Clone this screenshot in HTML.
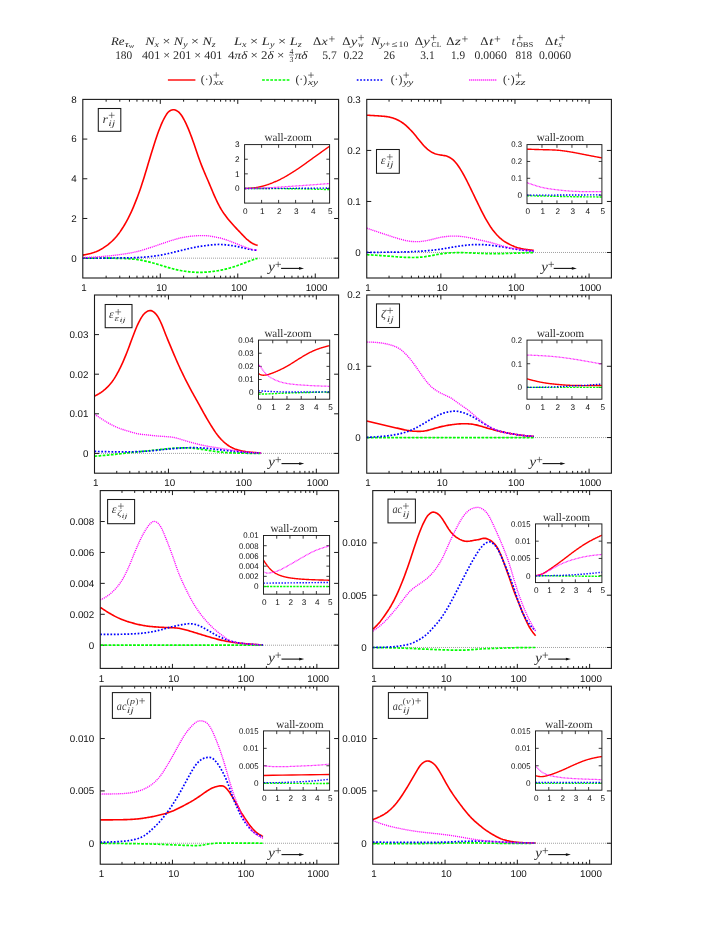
<!DOCTYPE html>
<html><head><meta charset="utf-8"><title>figure</title>
<style>html,body{margin:0;padding:0;background:#fff}svg{display:block;will-change:transform;text-rendering:geometricPrecision}</style></head><body>
<svg width="728" height="942" viewBox="0 0 728 942">
<rect width="728" height="942" fill="#fff"/>
<defs>
<clipPath id="c1"><rect x="82.80" y="99.40" width="255.80" height="178.60"/></clipPath>
<clipPath id="i1"><rect x="244.60" y="144.60" width="85.00" height="58.50"/></clipPath>
<clipPath id="c2"><rect x="366.75" y="99.40" width="244.65" height="178.60"/></clipPath>
<clipPath id="i2"><rect x="527.00" y="144.60" width="74.90" height="59.00"/></clipPath>
<clipPath id="c3"><rect x="94.50" y="295.00" width="244.10" height="178.20"/></clipPath>
<clipPath id="i3"><rect x="258.50" y="340.10" width="71.20" height="59.10"/></clipPath>
<clipPath id="c4"><rect x="366.75" y="295.00" width="244.65" height="178.20"/></clipPath>
<clipPath id="i4"><rect x="527.00" y="340.10" width="74.90" height="59.10"/></clipPath>
<clipPath id="c5"><rect x="100.25" y="490.60" width="238.35" height="177.80"/></clipPath>
<clipPath id="i5"><rect x="263.50" y="535.50" width="66.10" height="58.70"/></clipPath>
<clipPath id="c6"><rect x="372.75" y="490.60" width="238.65" height="177.80"/></clipPath>
<clipPath id="i6"><rect x="535.50" y="523.90" width="66.40" height="58.70"/></clipPath>
<clipPath id="c7"><rect x="100.25" y="686.20" width="238.35" height="178.00"/></clipPath>
<clipPath id="i7"><rect x="263.50" y="730.90" width="66.10" height="59.30"/></clipPath>
<clipPath id="c8"><rect x="372.75" y="686.20" width="238.65" height="178.00"/></clipPath>
<clipPath id="i8"><rect x="535.50" y="730.90" width="66.40" height="59.30"/></clipPath>
</defs>
<text x="111.00" y="44.80" font-family='"Liberation Serif", serif' font-size="11.6" fill="#2a2a2a" text-anchor="start" textLength="13.6" lengthAdjust="spacingAndGlyphs"><tspan font-style="italic">Re</tspan></text>
<text x="124.40" y="46.80" font-family='"Liberation Serif", serif' font-size="9.0" fill="#2a2a2a" text-anchor="start" textLength="4.6" lengthAdjust="spacingAndGlyphs"><tspan font-style="italic">τ</tspan></text>
<text x="128.80" y="48.40" font-family='"Liberation Serif", serif' font-size="6.6" fill="#2a2a2a" text-anchor="start" textLength="5.4" lengthAdjust="spacingAndGlyphs"><tspan font-style="italic">w</tspan></text>
<text x="115.20" y="58.50" font-family='"Liberation Serif", serif' font-size="11.6" fill="#2a2a2a" text-anchor="start" textLength="17.0" lengthAdjust="spacingAndGlyphs">180</text>
<text x="145.20" y="44.80" font-family='"Liberation Serif", serif' font-size="11.6" fill="#2a2a2a" text-anchor="start" textLength="70.5" lengthAdjust="spacingAndGlyphs"><tspan font-style="italic">N</tspan><tspan font-size="8.12" dy="2.20" font-style="italic">x</tspan><tspan dy="-2.20" font-size="1">​</tspan> × <tspan font-style="italic">N</tspan><tspan font-size="8.12" dy="2.20" font-style="italic">y</tspan><tspan dy="-2.20" font-size="1">​</tspan> × <tspan font-style="italic">N</tspan><tspan font-size="8.12" dy="2.20" font-style="italic">z</tspan><tspan dy="-2.20" font-size="1">​</tspan></text>
<text x="142.00" y="58.50" font-family='"Liberation Serif", serif' font-size="11.6" fill="#2a2a2a" text-anchor="start" textLength="80.4" lengthAdjust="spacingAndGlyphs">401 × 201 × 401</text>
<text x="234.00" y="44.80" font-family='"Liberation Serif", serif' font-size="11.6" fill="#2a2a2a" text-anchor="start" textLength="67.7" lengthAdjust="spacingAndGlyphs"><tspan font-style="italic">L</tspan><tspan font-size="8.12" dy="2.20" font-style="italic">x</tspan><tspan dy="-2.20" font-size="1">​</tspan> × <tspan font-style="italic">L</tspan><tspan font-size="8.12" dy="2.20" font-style="italic">y</tspan><tspan dy="-2.20" font-size="1">​</tspan> × <tspan font-style="italic">L</tspan><tspan font-size="8.12" dy="2.20" font-style="italic">z</tspan><tspan dy="-2.20" font-size="1">​</tspan></text>
<text x="228.10" y="58.50" font-family='"Liberation Serif", serif' font-size="11.6" fill="#2a2a2a" text-anchor="start" textLength="56.2" lengthAdjust="spacingAndGlyphs">4<tspan font-style="italic">πδ</tspan> × 2<tspan font-style="italic">δ</tspan> ×</text>
<text x="291.4" y="53.60" font-family='"Liberation Serif", serif' font-size="7.8" fill="#2a2a2a" text-anchor="middle">4</text>
<text x="291.4" y="61.70" font-family='"Liberation Serif", serif' font-size="7.8" fill="#2a2a2a" text-anchor="middle">3</text>
<path d="M288.9 55.00H293.9" stroke="#2a2a2a" stroke-width="0.5"/>
<text x="294.70" y="58.50" font-family='"Liberation Serif", serif' font-size="11.6" fill="#2a2a2a" text-anchor="start" textLength="12.9" lengthAdjust="spacingAndGlyphs"><tspan font-style="italic">πδ</tspan></text>
<text x="312.90" y="44.80" font-family='"Liberation Serif", serif' font-size="11.6" fill="#2a2a2a" text-anchor="start" textLength="8.2" lengthAdjust="spacingAndGlyphs">Δ</text>
<text x="321.50" y="44.80" font-family='"Liberation Serif", serif' font-size="11.6" fill="#2a2a2a" text-anchor="start" textLength="6.2" lengthAdjust="spacingAndGlyphs"><tspan font-style="italic">x</tspan></text>
<path d="M329.10 38.90h5.60M331.90 36.10v5.60" stroke="#2a2a2a" stroke-width="0.62" fill="none"/>
<text x="322.20" y="58.50" font-family='"Liberation Serif", serif' font-size="11.6" fill="#2a2a2a" text-anchor="start" textLength="14.6" lengthAdjust="spacingAndGlyphs">5.7</text>
<text x="342.20" y="44.80" font-family='"Liberation Serif", serif' font-size="11.6" fill="#2a2a2a" text-anchor="start" textLength="8.2" lengthAdjust="spacingAndGlyphs">Δ</text>
<text x="350.80" y="44.80" font-family='"Liberation Serif", serif' font-size="11.6" fill="#2a2a2a" text-anchor="start" textLength="6.6" lengthAdjust="spacingAndGlyphs"><tspan font-style="italic">y</tspan></text>
<path d="M358.30 37.60h5.60M361.10 34.80v5.60" stroke="#2a2a2a" stroke-width="0.62" fill="none"/>
<text x="358.00" y="47.40" font-family='"Liberation Serif", serif' font-size="8.2" fill="#2a2a2a" text-anchor="start"><tspan font-style="italic">w</tspan></text>
<text x="343.40" y="58.50" font-family='"Liberation Serif", serif' font-size="11.6" fill="#2a2a2a" text-anchor="start" textLength="20.2" lengthAdjust="spacingAndGlyphs">0.22</text>
<text x="370.90" y="44.80" font-family='"Liberation Serif", serif' font-size="11.6" fill="#2a2a2a" text-anchor="start" textLength="9.2" lengthAdjust="spacingAndGlyphs"><tspan font-style="italic">N</tspan></text>
<text x="379.70" y="47.40" font-family='"Liberation Serif", serif' font-size="8.4" fill="#2a2a2a" text-anchor="start" textLength="5.2" lengthAdjust="spacingAndGlyphs"><tspan font-style="italic">y</tspan></text>
<path d="M385.50 43.90h4.2M387.60 41.80v4.2" stroke="#2a2a2a" stroke-width="0.5" fill="none"/>
<text x="391.40" y="47.40" font-family='"Liberation Serif", serif' font-size="8.4" fill="#2a2a2a" text-anchor="start" textLength="6.0" lengthAdjust="spacingAndGlyphs">≤</text>
<text x="398.60" y="47.40" font-family='"Liberation Serif", serif' font-size="8.4" fill="#2a2a2a" text-anchor="start" textLength="9.6" lengthAdjust="spacingAndGlyphs">10</text>
<text x="383.60" y="58.50" font-family='"Liberation Serif", serif' font-size="11.6" fill="#2a2a2a" text-anchor="start" textLength="11.4" lengthAdjust="spacingAndGlyphs">26</text>
<text x="414.70" y="44.80" font-family='"Liberation Serif", serif' font-size="11.6" fill="#2a2a2a" text-anchor="start" textLength="8.2" lengthAdjust="spacingAndGlyphs">Δ</text>
<text x="423.30" y="44.80" font-family='"Liberation Serif", serif' font-size="11.6" fill="#2a2a2a" text-anchor="start" textLength="6.6" lengthAdjust="spacingAndGlyphs"><tspan font-style="italic">y</tspan></text>
<path d="M430.80 37.60h5.60M433.60 34.80v5.60" stroke="#2a2a2a" stroke-width="0.62" fill="none"/>
<text x="431.60" y="47.40" font-family='"Liberation Serif", serif' font-size="7.4" fill="#2a2a2a" text-anchor="start" textLength="9.8" lengthAdjust="spacingAndGlyphs">CL</text>
<text x="420.30" y="58.50" font-family='"Liberation Serif", serif' font-size="11.6" fill="#2a2a2a" text-anchor="start" textLength="14.4" lengthAdjust="spacingAndGlyphs">3.1</text>
<text x="446.20" y="44.80" font-family='"Liberation Serif", serif' font-size="11.6" fill="#2a2a2a" text-anchor="start" textLength="8.2" lengthAdjust="spacingAndGlyphs">Δ</text>
<text x="454.80" y="44.80" font-family='"Liberation Serif", serif' font-size="11.6" fill="#2a2a2a" text-anchor="start" textLength="6.2" lengthAdjust="spacingAndGlyphs"><tspan font-style="italic">z</tspan></text>
<path d="M462.10 38.90h5.60M464.90 36.10v5.60" stroke="#2a2a2a" stroke-width="0.62" fill="none"/>
<text x="451.00" y="58.50" font-family='"Liberation Serif", serif' font-size="11.6" fill="#2a2a2a" text-anchor="start" textLength="14.0" lengthAdjust="spacingAndGlyphs">1.9</text>
<text x="480.30" y="44.80" font-family='"Liberation Serif", serif' font-size="11.6" fill="#2a2a2a" text-anchor="start" textLength="8.2" lengthAdjust="spacingAndGlyphs">Δ</text>
<text x="488.90" y="44.80" font-family='"Liberation Serif", serif' font-size="11.6" fill="#2a2a2a" text-anchor="start" textLength="4.4" lengthAdjust="spacingAndGlyphs"><tspan font-style="italic">t</tspan></text>
<path d="M494.60 38.90h5.60M497.40 36.10v5.60" stroke="#2a2a2a" stroke-width="0.62" fill="none"/>
<text x="474.60" y="58.50" font-family='"Liberation Serif", serif' font-size="11.6" fill="#2a2a2a" text-anchor="start" textLength="32.2" lengthAdjust="spacingAndGlyphs">0.0060</text>
<text x="511.80" y="44.80" font-family='"Liberation Serif", serif' font-size="11.6" fill="#2a2a2a" text-anchor="start"><tspan font-style="italic">t</tspan></text>
<path d="M517.00 37.60h5.60M519.80 34.80v5.60" stroke="#2a2a2a" stroke-width="0.62" fill="none"/>
<text x="516.40" y="47.40" font-family='"Liberation Serif", serif' font-size="7.4" fill="#2a2a2a" text-anchor="start" textLength="17.0" lengthAdjust="spacingAndGlyphs">OBS</text>
<text x="515.40" y="58.50" font-family='"Liberation Serif", serif' font-size="11.6" fill="#2a2a2a" text-anchor="start" textLength="16.8" lengthAdjust="spacingAndGlyphs">818</text>
<text x="545.10" y="44.80" font-family='"Liberation Serif", serif' font-size="11.6" fill="#2a2a2a" text-anchor="start" textLength="8.2" lengthAdjust="spacingAndGlyphs">Δ</text>
<text x="553.70" y="44.80" font-family='"Liberation Serif", serif' font-size="11.6" fill="#2a2a2a" text-anchor="start" textLength="4.4" lengthAdjust="spacingAndGlyphs"><tspan font-style="italic">t</tspan></text>
<path d="M559.40 37.60h5.60M562.20 34.80v5.60" stroke="#2a2a2a" stroke-width="0.62" fill="none"/>
<text x="558.60" y="47.40" font-family='"Liberation Serif", serif' font-size="8.2" fill="#2a2a2a" text-anchor="start"><tspan font-style="italic">s</tspan></text>
<text x="538.90" y="58.50" font-family='"Liberation Serif", serif' font-size="11.6" fill="#2a2a2a" text-anchor="start" textLength="32.2" lengthAdjust="spacingAndGlyphs">0.0060</text>
<path d="M167.90 80.00H195.40" fill="none" stroke="#ff0000" stroke-width="1.4"/>
<text x="200.80" y="82.80" font-family='"Liberation Serif", serif' font-size="11.6" fill="#2a2a2a" text-anchor="start" textLength="11.6" lengthAdjust="spacingAndGlyphs">(·)</text>
<path d="M213.50 75.10h5.60M216.30 72.30v5.60" stroke="#2a2a2a" stroke-width="0.62" fill="none"/>
<text x="213.40" y="84.80" font-family='"Liberation Serif", serif' font-size="8.2" fill="#2a2a2a" text-anchor="start" textLength="10.0" lengthAdjust="spacingAndGlyphs"><tspan font-style="italic">xx</tspan></text>
<path d="M262.10 80.00H290.30" fill="none" stroke="#00ff00" stroke-width="1.5" stroke-dasharray="2.7 1.4"/>
<text x="295.50" y="82.80" font-family='"Liberation Serif", serif' font-size="11.6" fill="#2a2a2a" text-anchor="start" textLength="11.6" lengthAdjust="spacingAndGlyphs">(·)</text>
<path d="M308.20 75.10h5.60M311.00 72.30v5.60" stroke="#2a2a2a" stroke-width="0.62" fill="none"/>
<text x="308.10" y="84.80" font-family='"Liberation Serif", serif' font-size="8.2" fill="#2a2a2a" text-anchor="start" textLength="10.0" lengthAdjust="spacingAndGlyphs"><tspan font-style="italic">xy</tspan></text>
<path d="M356.80 80.00H383.30" fill="none" stroke="#0000ff" stroke-width="1.5" stroke-dasharray="1.7 1.7"/>
<text x="390.70" y="82.80" font-family='"Liberation Serif", serif' font-size="11.6" fill="#2a2a2a" text-anchor="start" textLength="11.6" lengthAdjust="spacingAndGlyphs">(·)</text>
<path d="M403.40 75.10h5.60M406.20 72.30v5.60" stroke="#2a2a2a" stroke-width="0.62" fill="none"/>
<text x="403.30" y="84.80" font-family='"Liberation Serif", serif' font-size="8.2" fill="#2a2a2a" text-anchor="start" textLength="10.0" lengthAdjust="spacingAndGlyphs"><tspan font-style="italic">yy</tspan></text>
<path d="M469.20 80.00H496.90" fill="none" stroke="#ff00ff" stroke-width="1.4" stroke-dasharray="1.1 0.9"/>
<text x="503.00" y="82.80" font-family='"Liberation Serif", serif' font-size="11.6" fill="#2a2a2a" text-anchor="start" textLength="11.6" lengthAdjust="spacingAndGlyphs">(·)</text>
<path d="M515.70 75.10h5.60M518.50 72.30v5.60" stroke="#2a2a2a" stroke-width="0.62" fill="none"/>
<text x="515.60" y="84.80" font-family='"Liberation Serif", serif' font-size="8.2" fill="#2a2a2a" text-anchor="start" textLength="10.0" lengthAdjust="spacingAndGlyphs"><tspan font-style="italic">zz</tspan></text>
<!-- panel 1 -->
<path d="M83.00 258.16H338.60" stroke="#8a8a8a" stroke-width="0.8" stroke-dasharray="1 1" fill="none"/>
<path d="M106.13 278.00v-2.30M106.13 99.40v2.30M119.77 278.00v-2.30M119.77 99.40v2.30M129.45 278.00v-2.30M129.45 99.40v2.30M136.96 278.00v-2.30M136.96 99.40v2.30M143.10 278.00v-2.30M143.10 99.40v2.30M148.29 278.00v-2.30M148.29 99.40v2.30M152.78 278.00v-2.30M152.78 99.40v2.30M156.75 278.00v-2.30M156.75 99.40v2.30M160.29 278.00v-4.50M160.29 99.40v4.50M183.62 278.00v-2.30M183.62 99.40v2.30M197.26 278.00v-2.30M197.26 99.40v2.30M206.95 278.00v-2.30M206.95 99.40v2.30M214.45 278.00v-2.30M214.45 99.40v2.30M220.59 278.00v-2.30M220.59 99.40v2.30M225.78 278.00v-2.30M225.78 99.40v2.30M230.27 278.00v-2.30M230.27 99.40v2.30M234.24 278.00v-2.30M234.24 99.40v2.30M237.78 278.00v-4.50M237.78 99.40v4.50M261.11 278.00v-2.30M261.11 99.40v2.30M274.75 278.00v-2.30M274.75 99.40v2.30M284.44 278.00v-2.30M284.44 99.40v2.30M291.95 278.00v-2.30M291.95 99.40v2.30M298.08 278.00v-2.30M298.08 99.40v2.30M303.27 278.00v-2.30M303.27 99.40v2.30M307.76 278.00v-2.30M307.76 99.40v2.30M311.73 278.00v-2.30M311.73 99.40v2.30M315.27 278.00v-4.50M315.27 99.40v4.50M82.80 258.16h4.50M338.60 258.16h-4.50M82.80 218.47h4.50M338.60 218.47h-4.50M82.80 178.78h4.50M338.60 178.78h-4.50M82.80 139.09h4.50M338.60 139.09h-4.50" stroke="#1a1a1a" stroke-width="1.0" fill="none"/>
<g fill="none" stroke-linejoin="round" clip-path="url(#c1)">
<path d="M82.80 255.10L83.90 254.91L85.00 254.71L86.10 254.49L87.20 254.26L88.30 254.01L89.40 253.74L90.50 253.46L91.60 253.15L92.70 252.83L93.80 252.47L94.90 252.08L96.00 251.66L97.10 251.20L98.20 250.70L99.30 250.17L100.40 249.59L101.50 248.98L102.60 248.32L103.69 247.62L104.79 246.89L105.89 246.14L106.99 245.35L108.09 244.52L109.19 243.64L110.29 242.72L111.39 241.75L112.49 240.72L113.59 239.63L114.69 238.47L115.79 237.25L116.89 235.95L117.99 234.58L119.09 233.14L120.19 231.61L121.29 229.99L122.39 228.31L123.49 226.55L124.59 224.72L125.69 222.83L126.79 220.86L127.89 218.80L128.99 216.66L130.09 214.42L131.19 212.08L132.29 209.63L133.39 207.07L134.49 204.41L135.59 201.67L136.69 198.85L137.79 195.97L138.89 192.99L139.99 189.90L141.09 186.68L142.19 183.34L143.28 179.91L144.38 176.41L145.48 172.82L146.58 169.18L147.68 165.51L148.78 161.85L149.88 158.20L150.98 154.58L152.08 150.99L153.18 147.46L154.28 143.98L155.38 140.57L156.48 137.27L157.58 134.11L158.68 131.07L159.78 128.18L160.88 125.44L161.98 122.89L163.08 120.49L164.18 118.28L165.28 116.32L166.38 114.58L167.48 113.05L168.58 111.81L169.68 110.96L170.78 110.35L171.88 109.94L172.98 109.74L174.08 109.75L175.18 109.99L176.28 110.45L177.38 111.09L178.48 111.88L179.58 112.94L180.68 114.26L181.78 115.79L182.88 117.52L183.97 119.49L185.07 121.66L186.17 123.96L187.27 126.38L188.37 128.94L189.47 131.63L190.57 134.44L191.67 137.36L192.77 140.42L193.87 143.57L194.97 146.77L196.07 149.99L197.17 153.24L198.27 156.47L199.37 159.60L200.47 162.57L201.57 165.40L202.67 168.12L203.77 170.77L204.87 173.38L205.97 175.95L207.07 178.49L208.17 181.04L209.27 183.61L210.37 186.24L211.47 188.90L212.57 191.54L213.67 194.13L214.77 196.64L215.87 199.04L216.97 201.37L218.07 203.60L219.17 205.74L220.27 207.76L221.37 209.64L222.47 211.40L223.57 213.05L224.66 214.60L225.76 216.08L226.86 217.50L227.96 218.89L229.06 220.23L230.16 221.54L231.26 222.81L232.36 224.06L233.46 225.28L234.56 226.49L235.66 227.67L236.76 228.84L237.86 230.00L238.96 231.15L240.06 232.30L241.16 233.46L242.26 234.63L243.36 235.79L244.46 236.93L245.56 238.02L246.66 239.04L247.76 239.99L248.86 240.89L249.96 241.73L251.06 242.49L252.16 243.17L253.26 243.75L254.36 244.24L255.46 244.67L256.56 245.05L257.66 245.38" stroke="#ff0000" stroke-width="1.6"/>
<path d="M82.80 258.16L83.90 258.15L85.00 258.15L86.09 258.14L87.19 258.14L88.29 258.14L89.39 258.14L90.49 258.13L91.58 258.13L92.68 258.13L93.78 258.13L94.88 258.13L95.98 258.13L97.07 258.13L98.17 258.13L99.27 258.13L100.37 258.14L101.47 258.14L102.56 258.15L103.66 258.15L104.76 258.16L105.86 258.16L106.96 258.17L108.05 258.18L109.15 258.19L110.25 258.20L111.35 258.22L112.44 258.23L113.54 258.24L114.64 258.26L115.74 258.28L116.84 258.30L117.93 258.32L119.03 258.34L120.13 258.36L121.23 258.39L122.33 258.42L123.42 258.46L124.52 258.51L125.62 258.56L126.72 258.62L127.82 258.69L128.91 258.77L130.01 258.85L131.11 258.94L132.21 259.03L133.31 259.14L134.40 259.25L135.50 259.37L136.60 259.50L137.70 259.64L138.80 259.80L139.89 259.97L140.99 260.16L142.09 260.37L143.19 260.59L144.29 260.82L145.38 261.06L146.48 261.31L147.58 261.56L148.68 261.82L149.78 262.09L150.87 262.38L151.97 262.67L153.07 262.98L154.17 263.29L155.27 263.61L156.36 263.93L157.46 264.26L158.56 264.58L159.66 264.91L160.76 265.24L161.85 265.57L162.95 265.90L164.05 266.24L165.15 266.58L166.25 266.91L167.34 267.24L168.44 267.57L169.54 267.89L170.64 268.20L171.73 268.50L172.83 268.79L173.93 269.07L175.03 269.33L176.13 269.59L177.22 269.84L178.32 270.08L179.42 270.31L180.52 270.53L181.62 270.73L182.71 270.91L183.81 271.08L184.91 271.24L186.01 271.40L187.11 271.54L188.20 271.68L189.30 271.81L190.40 271.93L191.50 272.03L192.60 272.13L193.69 272.20L194.79 272.27L195.89 272.31L196.99 272.34L198.09 272.35L199.18 272.35L200.28 272.34L201.38 272.31L202.48 272.28L203.58 272.23L204.67 272.18L205.77 272.12L206.87 272.05L207.97 271.97L209.07 271.88L210.16 271.77L211.26 271.65L212.36 271.52L213.46 271.38L214.56 271.24L215.65 271.09L216.75 270.93L217.85 270.75L218.95 270.57L220.05 270.37L221.14 270.15L222.24 269.92L223.34 269.67L224.44 269.40L225.53 269.13L226.63 268.85L227.73 268.57L228.83 268.27L229.93 267.97L231.02 267.66L232.12 267.34L233.22 267.01L234.32 266.66L235.42 266.31L236.51 265.94L237.61 265.56L238.71 265.16L239.81 264.74L240.91 264.31L242.00 263.87L243.10 263.44L244.20 263.01L245.30 262.59L246.40 262.17L247.49 261.76L248.59 261.35L249.69 260.95L250.79 260.56L251.89 260.18L252.98 259.80L254.08 259.43L255.18 259.07L256.28 258.71L257.38 258.35" stroke="#00ff00" stroke-width="1.7" stroke-dasharray="2.7 1.4"/>
<path d="M82.80 258.16L83.90 258.15L85.00 258.15L86.09 258.15L87.19 258.15L88.29 258.14L89.39 258.14L90.49 258.14L91.58 258.13L92.68 258.13L93.78 258.13L94.88 258.12L95.98 258.12L97.07 258.11L98.17 258.11L99.27 258.10L100.37 258.10L101.47 258.09L102.56 258.09L103.66 258.08L104.76 258.07L105.86 258.07L106.96 258.06L108.05 258.05L109.15 258.05L110.25 258.04L111.35 258.03L112.44 258.02L113.54 258.01L114.64 258.00L115.74 257.99L116.84 257.98L117.93 257.97L119.03 257.96L120.13 257.95L121.23 257.94L122.33 257.93L123.42 257.91L124.52 257.90L125.62 257.88L126.72 257.86L127.82 257.84L128.91 257.82L130.01 257.79L131.11 257.76L132.21 257.73L133.31 257.70L134.40 257.66L135.50 257.62L136.60 257.58L137.70 257.53L138.80 257.47L139.89 257.41L140.99 257.35L142.09 257.27L143.19 257.20L144.29 257.11L145.38 257.02L146.48 256.93L147.58 256.83L148.68 256.73L149.78 256.62L150.87 256.50L151.97 256.38L153.07 256.24L154.17 256.10L155.27 255.96L156.36 255.80L157.46 255.64L158.56 255.47L159.66 255.29L160.76 255.10L161.85 254.90L162.95 254.69L164.05 254.47L165.15 254.24L166.25 254.00L167.34 253.75L168.44 253.50L169.54 253.25L170.64 252.99L171.73 252.73L172.83 252.47L173.93 252.20L175.03 251.94L176.13 251.67L177.22 251.40L178.32 251.13L179.42 250.85L180.52 250.58L181.62 250.31L182.71 250.04L183.81 249.77L184.91 249.51L186.01 249.25L187.11 248.99L188.20 248.73L189.30 248.48L190.40 248.23L191.50 247.99L192.60 247.75L193.69 247.52L194.79 247.30L195.89 247.09L196.99 246.89L198.09 246.70L199.18 246.53L200.28 246.35L201.38 246.19L202.48 246.04L203.58 245.89L204.67 245.74L205.77 245.60L206.87 245.46L207.97 245.33L209.07 245.20L210.16 245.07L211.26 244.94L212.36 244.83L213.46 244.74L214.56 244.65L215.65 244.59L216.75 244.53L217.85 244.49L218.95 244.46L220.05 244.46L221.14 244.48L222.24 244.53L223.34 244.62L224.44 244.72L225.53 244.83L226.63 244.95L227.73 245.07L228.83 245.21L229.93 245.35L231.02 245.50L232.12 245.66L233.22 245.83L234.32 246.01L235.42 246.20L236.51 246.40L237.61 246.61L238.71 246.84L239.81 247.08L240.91 247.33L242.00 247.59L243.10 247.85L244.20 248.10L245.30 248.35L246.40 248.60L247.49 248.85L248.59 249.09L249.69 249.31L250.79 249.51L251.89 249.70L252.98 249.86L254.08 250.02L255.18 250.16L256.28 250.29L257.38 250.42" stroke="#0000ff" stroke-width="1.7" stroke-dasharray="1.7 1.7"/>
<path d="M82.80 257.56L83.90 257.52L85.00 257.48L86.09 257.44L87.19 257.39L88.29 257.34L89.39 257.29L90.49 257.24L91.58 257.18L92.68 257.12L93.78 257.06L94.88 257.00L95.98 256.93L97.07 256.86L98.17 256.79L99.27 256.71L100.37 256.64L101.47 256.55L102.56 256.47L103.66 256.38L104.76 256.29L105.86 256.19L106.96 256.10L108.05 255.99L109.15 255.88L110.25 255.76L111.35 255.64L112.44 255.51L113.54 255.38L114.64 255.25L115.74 255.11L116.84 254.97L117.93 254.83L119.03 254.68L120.13 254.54L121.23 254.39L122.33 254.24L123.42 254.08L124.52 253.92L125.62 253.76L126.72 253.59L127.82 253.41L128.91 253.23L130.01 253.04L131.11 252.84L132.21 252.63L133.31 252.41L134.40 252.18L135.50 251.94L136.60 251.69L137.70 251.43L138.80 251.14L139.89 250.84L140.99 250.53L142.09 250.20L143.19 249.86L144.29 249.52L145.38 249.17L146.48 248.81L147.58 248.46L148.68 248.11L149.78 247.76L150.87 247.40L151.97 247.04L153.07 246.68L154.17 246.32L155.27 245.95L156.36 245.59L157.46 245.22L158.56 244.85L159.66 244.48L160.76 244.11L161.85 243.73L162.95 243.35L164.05 242.97L165.15 242.58L166.25 242.20L167.34 241.82L168.44 241.45L169.54 241.08L170.64 240.72L171.73 240.37L172.83 240.03L173.93 239.70L175.03 239.39L176.13 239.08L177.22 238.78L178.32 238.49L179.42 238.21L180.52 237.95L181.62 237.71L182.71 237.49L183.81 237.28L184.91 237.10L186.01 236.91L187.11 236.74L188.20 236.58L189.30 236.43L190.40 236.29L191.50 236.16L192.60 236.05L193.69 235.95L194.79 235.87L195.89 235.80L196.99 235.74L198.09 235.70L199.18 235.67L200.28 235.64L201.38 235.62L202.48 235.61L203.58 235.62L204.67 235.64L205.77 235.67L206.87 235.73L207.97 235.81L209.07 235.95L210.16 236.12L211.26 236.32L212.36 236.53L213.46 236.74L214.56 236.94L215.65 237.13L216.75 237.32L217.85 237.53L218.95 237.74L220.05 237.98L221.14 238.25L222.24 238.56L223.34 238.89L224.44 239.25L225.53 239.62L226.63 240.00L227.73 240.39L228.83 240.79L229.93 241.20L231.02 241.62L232.12 242.05L233.22 242.48L234.32 242.91L235.42 243.34L236.51 243.77L237.61 244.20L238.71 244.63L239.81 245.05L240.91 245.48L242.00 245.91L243.10 246.33L244.20 246.75L245.30 247.18L246.40 247.60L247.49 248.01L248.59 248.39L249.69 248.75L250.79 249.07L251.89 249.33L252.98 249.56L254.08 249.76L255.18 249.93L256.28 250.09L257.38 250.22" stroke="#ff00ff" stroke-width="1.35" stroke-dasharray="1.1 0.9"/>
</g>
<rect x="82.80" y="99.40" width="255.80" height="178.60" fill="none" stroke="#1a1a1a" stroke-width="1.1"/>
<g font-family='"Liberation Sans", sans-serif' font-size="9.8" fill="#111">
<text x="76.80" y="261.54" text-anchor="end">0</text>
<text x="76.80" y="221.85" text-anchor="end">2</text>
<text x="76.80" y="182.16" text-anchor="end">4</text>
<text x="76.80" y="142.47" text-anchor="end">6</text>
<text x="76.80" y="102.78" text-anchor="end">8</text>
<text x="84.10" y="291.13" text-anchor="middle">1</text>
<text x="161.59" y="291.13" text-anchor="middle">10</text>
<text x="239.08" y="291.13" text-anchor="middle">100</text>
<text x="316.57" y="291.13" text-anchor="middle">1000</text>
</g>
<rect x="244.60" y="144.60" width="85.00" height="58.50" fill="#fff"/>
<path d="M261.60 203.10v-3.2M261.60 144.60v3.2M278.60 203.10v-3.2M278.60 144.60v3.2M295.60 203.10v-3.2M295.60 144.60v3.2M312.60 203.10v-3.2M312.60 144.60v3.2M244.60 188.47h3.20M329.60 188.47h-3.20M244.60 173.85h3.20M329.60 173.85h-3.20M244.60 159.22h3.20M329.60 159.22h-3.20" stroke="#1a1a1a" stroke-width="0.85" fill="none"/>
<g fill="none" stroke-linejoin="round" clip-path="url(#i1)">
<path d="M244.60 188.47L245.13 188.46L245.67 188.45L246.20 188.43L246.74 188.41L247.27 188.39L247.81 188.36L248.34 188.33L248.88 188.30L249.41 188.27L249.95 188.23L250.48 188.19L251.02 188.15L251.55 188.11L252.08 188.06L252.62 188.01L253.15 187.96L253.69 187.90L254.22 187.83L254.76 187.76L255.29 187.69L255.83 187.61L256.36 187.52L256.90 187.43L257.43 187.33L257.96 187.23L258.50 187.12L259.03 187.01L259.57 186.90L260.10 186.78L260.64 186.66L261.17 186.53L261.71 186.40L262.24 186.27L262.78 186.13L263.31 185.99L263.85 185.84L264.38 185.68L264.91 185.53L265.45 185.36L265.98 185.20L266.52 185.03L267.05 184.85L267.59 184.67L268.12 184.48L268.66 184.30L269.19 184.10L269.73 183.91L270.26 183.70L270.79 183.50L271.33 183.29L271.86 183.08L272.40 182.87L272.93 182.65L273.47 182.42L274.00 182.20L274.54 181.97L275.07 181.74L275.61 181.50L276.14 181.27L276.68 181.03L277.21 180.78L277.74 180.54L278.28 180.29L278.81 180.04L279.35 179.78L279.88 179.52L280.42 179.26L280.95 178.99L281.49 178.72L282.02 178.44L282.56 178.16L283.09 177.87L283.63 177.59L284.16 177.29L284.69 177.00L285.23 176.70L285.76 176.39L286.30 176.09L286.83 175.78L287.37 175.47L287.90 175.15L288.44 174.83L288.97 174.51L289.51 174.19L290.04 173.86L290.57 173.53L291.11 173.20L291.64 172.87L292.18 172.53L292.71 172.19L293.25 171.85L293.78 171.51L294.32 171.17L294.85 170.83L295.39 170.48L295.92 170.13L296.46 169.78L296.99 169.43L297.52 169.07L298.06 168.71L298.59 168.35L299.13 167.98L299.66 167.61L300.20 167.24L300.73 166.87L301.27 166.50L301.80 166.12L302.34 165.74L302.87 165.36L303.41 164.98L303.94 164.60L304.47 164.22L305.01 163.83L305.54 163.45L306.08 163.06L306.61 162.68L307.15 162.29L307.68 161.90L308.22 161.51L308.75 161.13L309.29 160.74L309.82 160.35L310.35 159.97L310.89 159.58L311.42 159.19L311.96 158.81L312.49 158.42L313.03 158.04L313.56 157.66L314.10 157.27L314.63 156.89L315.17 156.51L315.70 156.13L316.24 155.74L316.77 155.36L317.30 154.98L317.84 154.60L318.37 154.22L318.91 153.83L319.44 153.45L319.98 153.07L320.51 152.69L321.05 152.31L321.58 151.93L322.12 151.55L322.65 151.16L323.18 150.78L323.72 150.40L324.25 150.02L324.79 149.64L325.32 149.26L325.86 148.88L326.39 148.50L326.93 148.11L327.46 147.73L328.00 147.35L328.53 146.97L329.07 146.59L329.60 146.21" stroke="#ff0000" stroke-width="1.4"/>
<path d="M244.60 188.47L245.13 188.48L245.67 188.48L246.20 188.48L246.74 188.48L247.27 188.48L247.81 188.48L248.34 188.48L248.88 188.48L249.41 188.48L249.95 188.48L250.48 188.48L251.02 188.48L251.55 188.48L252.08 188.48L252.62 188.48L253.15 188.49L253.69 188.49L254.22 188.49L254.76 188.49L255.29 188.49L255.83 188.49L256.36 188.49L256.90 188.50L257.43 188.50L257.96 188.50L258.50 188.50L259.03 188.50L259.57 188.51L260.10 188.51L260.64 188.51L261.17 188.51L261.71 188.51L262.24 188.52L262.78 188.52L263.31 188.52L263.85 188.52L264.38 188.53L264.91 188.53L265.45 188.53L265.98 188.54L266.52 188.54L267.05 188.54L267.59 188.54L268.12 188.55L268.66 188.55L269.19 188.55L269.73 188.56L270.26 188.56L270.79 188.56L271.33 188.57L271.86 188.57L272.40 188.57L272.93 188.58L273.47 188.58L274.00 188.58L274.54 188.59L275.07 188.59L275.61 188.60L276.14 188.60L276.68 188.60L277.21 188.61L277.74 188.61L278.28 188.62L278.81 188.62L279.35 188.62L279.88 188.63L280.42 188.63L280.95 188.64L281.49 188.64L282.02 188.64L282.56 188.65L283.09 188.65L283.63 188.66L284.16 188.66L284.69 188.67L285.23 188.67L285.76 188.68L286.30 188.68L286.83 188.69L287.37 188.69L287.90 188.70L288.44 188.70L288.97 188.70L289.51 188.71L290.04 188.71L290.57 188.72L291.11 188.72L291.64 188.73L292.18 188.73L292.71 188.74L293.25 188.74L293.78 188.75L294.32 188.76L294.85 188.76L295.39 188.77L295.92 188.77L296.46 188.78L296.99 188.78L297.52 188.79L298.06 188.80L298.59 188.80L299.13 188.81L299.66 188.82L300.20 188.83L300.73 188.84L301.27 188.84L301.80 188.85L302.34 188.86L302.87 188.87L303.41 188.88L303.94 188.89L304.47 188.91L305.01 188.92L305.54 188.93L306.08 188.94L306.61 188.95L307.15 188.96L307.68 188.98L308.22 188.99L308.75 189.00L309.29 189.02L309.82 189.03L310.35 189.04L310.89 189.06L311.42 189.07L311.96 189.09L312.49 189.10L313.03 189.12L313.56 189.13L314.10 189.15L314.63 189.16L315.17 189.18L315.70 189.19L316.24 189.21L316.77 189.23L317.30 189.24L317.84 189.26L318.37 189.28L318.91 189.29L319.44 189.31L319.98 189.33L320.51 189.34L321.05 189.36L321.58 189.38L322.12 189.39L322.65 189.41L323.18 189.43L323.72 189.45L324.25 189.47L324.79 189.48L325.32 189.50L325.86 189.52L326.39 189.54L326.93 189.55L327.46 189.57L328.00 189.59L328.53 189.61L329.07 189.63L329.60 189.64" stroke="#00ff00" stroke-width="1.4" stroke-dasharray="2.2 1.1"/>
<path d="M244.60 188.47L245.13 188.47L245.67 188.47L246.20 188.47L246.74 188.47L247.27 188.47L247.81 188.47L248.34 188.47L248.88 188.47L249.41 188.47L249.95 188.47L250.48 188.47L251.02 188.47L251.55 188.47L252.08 188.47L252.62 188.47L253.15 188.47L253.69 188.47L254.22 188.47L254.76 188.47L255.29 188.47L255.83 188.47L256.36 188.46L256.90 188.46L257.43 188.46L257.96 188.46L258.50 188.46L259.03 188.46L259.57 188.46L260.10 188.46L260.64 188.46L261.17 188.45L261.71 188.45L262.24 188.45L262.78 188.45L263.31 188.45L263.85 188.45L264.38 188.45L264.91 188.45L265.45 188.44L265.98 188.44L266.52 188.44L267.05 188.44L267.59 188.44L268.12 188.44L268.66 188.43L269.19 188.43L269.73 188.43L270.26 188.43L270.79 188.43L271.33 188.43L271.86 188.42L272.40 188.42L272.93 188.42L273.47 188.42L274.00 188.42L274.54 188.42L275.07 188.41L275.61 188.41L276.14 188.41L276.68 188.41L277.21 188.41L277.74 188.40L278.28 188.40L278.81 188.40L279.35 188.40L279.88 188.40L280.42 188.39L280.95 188.39L281.49 188.39L282.02 188.39L282.56 188.38L283.09 188.38L283.63 188.38L284.16 188.38L284.69 188.38L285.23 188.37L285.76 188.37L286.30 188.37L286.83 188.37L287.37 188.36L287.90 188.36L288.44 188.36L288.97 188.36L289.51 188.36L290.04 188.35L290.57 188.35L291.11 188.35L291.64 188.35L292.18 188.34L292.71 188.34L293.25 188.34L293.78 188.34L294.32 188.33L294.85 188.33L295.39 188.33L295.92 188.33L296.46 188.32L296.99 188.32L297.52 188.32L298.06 188.32L298.59 188.31L299.13 188.31L299.66 188.31L300.20 188.30L300.73 188.30L301.27 188.30L301.80 188.29L302.34 188.29L302.87 188.29L303.41 188.28L303.94 188.28L304.47 188.28L305.01 188.27L305.54 188.27L306.08 188.26L306.61 188.26L307.15 188.26L307.68 188.25L308.22 188.25L308.75 188.24L309.29 188.24L309.82 188.23L310.35 188.23L310.89 188.23L311.42 188.22L311.96 188.22L312.49 188.21L313.03 188.21L313.56 188.20L314.10 188.20L314.63 188.19L315.17 188.19L315.70 188.18L316.24 188.18L316.77 188.17L317.30 188.17L317.84 188.16L318.37 188.15L318.91 188.15L319.44 188.14L319.98 188.14L320.51 188.13L321.05 188.13L321.58 188.12L322.12 188.12L322.65 188.11L323.18 188.11L323.72 188.10L324.25 188.09L324.79 188.09L325.32 188.08L325.86 188.08L326.39 188.07L326.93 188.07L327.46 188.06L328.00 188.05L328.53 188.05L329.07 188.04L329.60 188.04" stroke="#0000ff" stroke-width="1.4" stroke-dasharray="1.4 1.6"/>
<path d="M244.60 188.47L245.13 188.47L245.67 188.46L246.20 188.45L246.74 188.44L247.27 188.43L247.81 188.42L248.34 188.40L248.88 188.39L249.41 188.38L249.95 188.37L250.48 188.36L251.02 188.35L251.55 188.33L252.08 188.32L252.62 188.31L253.15 188.29L253.69 188.28L254.22 188.27L254.76 188.25L255.29 188.24L255.83 188.22L256.36 188.21L256.90 188.19L257.43 188.17L257.96 188.16L258.50 188.14L259.03 188.12L259.57 188.11L260.10 188.09L260.64 188.07L261.17 188.05L261.71 188.03L262.24 188.01L262.78 187.99L263.31 187.97L263.85 187.95L264.38 187.93L264.91 187.90L265.45 187.88L265.98 187.86L266.52 187.83L267.05 187.81L267.59 187.78L268.12 187.75L268.66 187.73L269.19 187.70L269.73 187.67L270.26 187.64L270.79 187.62L271.33 187.59L271.86 187.56L272.40 187.53L272.93 187.50L273.47 187.47L274.00 187.44L274.54 187.40L275.07 187.37L275.61 187.34L276.14 187.31L276.68 187.28L277.21 187.24L277.74 187.21L278.28 187.18L278.81 187.15L279.35 187.11L279.88 187.08L280.42 187.04L280.95 187.01L281.49 186.97L282.02 186.94L282.56 186.90L283.09 186.87L283.63 186.83L284.16 186.79L284.69 186.76L285.23 186.72L285.76 186.68L286.30 186.65L286.83 186.61L287.37 186.57L287.90 186.53L288.44 186.49L288.97 186.46L289.51 186.42L290.04 186.38L290.57 186.34L291.11 186.30L291.64 186.27L292.18 186.23L292.71 186.19L293.25 186.15L293.78 186.12L294.32 186.08L294.85 186.04L295.39 186.00L295.92 185.97L296.46 185.93L296.99 185.89L297.52 185.86L298.06 185.82L298.59 185.78L299.13 185.75L299.66 185.71L300.20 185.68L300.73 185.64L301.27 185.60L301.80 185.57L302.34 185.53L302.87 185.49L303.41 185.46L303.94 185.42L304.47 185.39L305.01 185.35L305.54 185.31L306.08 185.28L306.61 185.24L307.15 185.20L307.68 185.17L308.22 185.13L308.75 185.09L309.29 185.05L309.82 185.02L310.35 184.98L310.89 184.94L311.42 184.90L311.96 184.87L312.49 184.83L313.03 184.79L313.56 184.75L314.10 184.71L314.63 184.67L315.17 184.63L315.70 184.59L316.24 184.55L316.77 184.51L317.30 184.47L317.84 184.43L318.37 184.39L318.91 184.35L319.44 184.31L319.98 184.26L320.51 184.22L321.05 184.18L321.58 184.14L322.12 184.10L322.65 184.06L323.18 184.01L323.72 183.97L324.25 183.93L324.79 183.89L325.32 183.85L325.86 183.80L326.39 183.76L326.93 183.72L327.46 183.67L328.00 183.63L328.53 183.59L329.07 183.55L329.60 183.50" stroke="#ff00ff" stroke-width="1.25" stroke-dasharray="0.8 0.6"/>
</g>
<rect x="244.60" y="144.60" width="85.00" height="58.50" fill="none" stroke="#1a1a1a" stroke-width="0.95"/>
<g font-family='"Liberation Sans", sans-serif' font-size="8.2" fill="#111">
<text x="239.60" y="191.30" text-anchor="end">0</text>
<text x="239.60" y="176.68" text-anchor="end">1</text>
<text x="239.60" y="162.05" text-anchor="end">2</text>
<text x="239.60" y="147.43" text-anchor="end">3</text>
<text x="245.40" y="213.65" text-anchor="middle">0</text>
<text x="262.40" y="213.65" text-anchor="middle">1</text>
<text x="279.40" y="213.65" text-anchor="middle">2</text>
<text x="296.40" y="213.65" text-anchor="middle">3</text>
<text x="313.40" y="213.65" text-anchor="middle">4</text>
<text x="330.40" y="213.65" text-anchor="middle">5</text>
</g>
<text x="288.20" y="141.30" text-anchor="middle" font-family='"Liberation Serif", serif' font-size="11.4" fill="#2a2a2a" textLength="47.2" lengthAdjust="spacingAndGlyphs">wall-zoom</text>
<rect x="98.30" y="108.50" width="22.50" height="22.80" fill="#fff" stroke="#1a1a1a" stroke-width="1.05"/>
<text x="102.60" y="122.50" font-family='"Liberation Serif", serif' font-size="11.8" fill="#3a3a3a" font-style="italic" textLength="5.4" lengthAdjust="spacingAndGlyphs">r</text>
<path d="M108.80 115.30h5.80M111.70 112.40v5.80" stroke="#3a3a3a" stroke-width="0.62" fill="none"/>
<text x="108.20" y="126.30" font-family='"Liberation Serif", serif' font-size="8.4" fill="#3a3a3a" font-style="italic" textLength="7.0" lengthAdjust="spacingAndGlyphs">ij</text>
<text x="268.20" y="270.80" font-family='"Liberation Serif", serif' font-size="13.5" font-style="italic" fill="#2a2a2a" textLength="6.6" lengthAdjust="spacingAndGlyphs">y</text>
<path d="M275.40 264.40h5.6M278.20 261.60v5.6" stroke="#2a2a2a" stroke-width="0.62" fill="none"/>
<path d="M281.10 268.40H301.00" stroke="#111" stroke-width="1.1" fill="none"/>
<path d="M304.00 268.40l-5 -1.45v2.9z" fill="#111"/>
<!-- panel 2 -->
<path d="M367.00 252.49H611.40" stroke="#8a8a8a" stroke-width="0.8" stroke-dasharray="1 1" fill="none"/>
<path d="M389.06 278.00v-2.30M389.06 99.40v2.30M402.11 278.00v-2.30M402.11 99.40v2.30M411.37 278.00v-2.30M411.37 99.40v2.30M418.55 278.00v-2.30M418.55 99.40v2.30M424.42 278.00v-2.30M424.42 99.40v2.30M429.38 278.00v-2.30M429.38 99.40v2.30M433.68 278.00v-2.30M433.68 99.40v2.30M437.47 278.00v-2.30M437.47 99.40v2.30M440.86 278.00v-4.50M440.86 99.40v4.50M463.17 278.00v-2.30M463.17 99.40v2.30M476.22 278.00v-2.30M476.22 99.40v2.30M485.48 278.00v-2.30M485.48 99.40v2.30M492.67 278.00v-2.30M492.67 99.40v2.30M498.53 278.00v-2.30M498.53 99.40v2.30M503.50 278.00v-2.30M503.50 99.40v2.30M507.79 278.00v-2.30M507.79 99.40v2.30M511.59 278.00v-2.30M511.59 99.40v2.30M514.98 278.00v-4.50M514.98 99.40v4.50M537.29 278.00v-2.30M537.29 99.40v2.30M550.34 278.00v-2.30M550.34 99.40v2.30M559.60 278.00v-2.30M559.60 99.40v2.30M566.78 278.00v-2.30M566.78 99.40v2.30M572.65 278.00v-2.30M572.65 99.40v2.30M577.61 278.00v-2.30M577.61 99.40v2.30M581.91 278.00v-2.30M581.91 99.40v2.30M585.70 278.00v-2.30M585.70 99.40v2.30M589.09 278.00v-4.50M589.09 99.40v4.50M366.75 252.49h4.50M611.40 252.49h-4.50M366.75 201.46h4.50M611.40 201.46h-4.50M366.75 150.43h4.50M611.40 150.43h-4.50" stroke="#1a1a1a" stroke-width="1.0" fill="none"/>
<g fill="none" stroke-linejoin="round" clip-path="url(#c2)">
<path d="M366.75 115.22L367.80 115.27L368.85 115.32L369.90 115.37L370.95 115.43L372.00 115.49L373.05 115.55L374.10 115.61L375.15 115.68L376.20 115.74L377.25 115.81L378.30 115.88L379.35 115.95L380.40 116.03L381.45 116.10L382.50 116.18L383.55 116.28L384.60 116.38L385.65 116.49L386.70 116.63L387.75 116.78L388.80 116.96L389.85 117.16L390.90 117.41L391.95 117.70L393.00 118.03L394.05 118.39L395.10 118.80L396.15 119.25L397.20 119.74L398.25 120.26L399.30 120.82L400.35 121.43L401.40 122.06L402.45 122.74L403.50 123.49L404.55 124.30L405.60 125.18L406.65 126.12L407.70 127.10L408.75 128.13L409.80 129.19L410.85 130.29L411.90 131.41L412.95 132.58L414.00 133.80L415.05 135.06L416.10 136.34L417.15 137.63L418.20 138.93L419.26 140.22L420.31 141.54L421.36 142.84L422.41 144.11L423.46 145.31L424.51 146.43L425.56 147.46L426.61 148.42L427.66 149.32L428.71 150.14L429.76 150.90L430.81 151.61L431.86 152.26L432.91 152.83L433.96 153.30L435.01 153.68L436.06 154.01L437.11 154.28L438.16 154.52L439.21 154.73L440.26 154.92L441.31 155.10L442.36 155.26L443.41 155.42L444.46 155.60L445.51 155.82L446.56 156.09L447.61 156.45L448.66 156.90L449.71 157.46L450.76 158.11L451.81 158.85L452.86 159.70L453.91 160.63L454.96 161.69L456.01 162.90L457.06 164.24L458.11 165.70L459.16 167.26L460.21 168.91L461.26 170.63L462.31 172.41L463.36 174.23L464.41 176.12L465.46 178.10L466.51 180.15L467.56 182.25L468.61 184.37L469.66 186.52L470.71 188.66L471.76 190.82L472.81 192.99L473.86 195.18L474.91 197.36L475.96 199.54L477.01 201.70L478.06 203.86L479.11 206.02L480.16 208.16L481.21 210.27L482.26 212.35L483.31 214.38L484.36 216.36L485.41 218.27L486.46 220.12L487.51 221.92L488.56 223.66L489.61 225.33L490.66 226.94L491.71 228.46L492.76 229.91L493.81 231.27L494.86 232.57L495.91 233.80L496.96 234.96L498.01 236.05L499.06 237.07L500.11 238.04L501.16 238.95L502.21 239.79L503.26 240.58L504.31 241.31L505.36 241.99L506.41 242.62L507.46 243.22L508.51 243.79L509.56 244.34L510.61 244.87L511.66 245.38L512.71 245.85L513.76 246.30L514.81 246.71L515.86 247.09L516.91 247.44L517.96 247.76L519.01 248.05L520.06 248.32L521.11 248.57L522.17 248.79L523.22 248.99L524.27 249.18L525.32 249.35L526.37 249.51L527.42 249.65L528.47 249.78L529.52 249.90L530.57 250.01L531.62 250.11L532.67 250.20L533.72 250.29" stroke="#ff0000" stroke-width="1.6"/>
<path d="M366.75 254.68L367.80 254.74L368.85 254.80L369.90 254.87L370.95 254.93L372.00 254.99L373.05 255.06L374.10 255.12L375.15 255.19L376.20 255.26L377.25 255.32L378.30 255.39L379.35 255.46L380.40 255.53L381.45 255.60L382.50 255.68L383.55 255.75L384.60 255.83L385.65 255.90L386.70 255.98L387.75 256.06L388.80 256.14L389.85 256.22L390.90 256.31L391.95 256.40L393.00 256.49L394.05 256.58L395.10 256.67L396.15 256.76L397.20 256.84L398.25 256.93L399.30 257.00L400.35 257.08L401.40 257.14L402.45 257.20L403.50 257.25L404.55 257.30L405.60 257.35L406.65 257.39L407.70 257.42L408.75 257.45L409.80 257.47L410.85 257.48L411.90 257.49L412.95 257.49L414.00 257.48L415.05 257.46L416.10 257.43L417.15 257.40L418.20 257.35L419.26 257.29L420.31 257.21L421.36 257.12L422.41 257.00L423.46 256.87L424.51 256.73L425.56 256.57L426.61 256.41L427.66 256.24L428.71 256.07L429.76 255.89L430.81 255.71L431.86 255.51L432.91 255.31L433.96 255.10L435.01 254.89L436.06 254.68L437.11 254.48L438.16 254.29L439.21 254.11L440.26 253.95L441.31 253.80L442.36 253.67L443.41 253.53L444.46 253.41L445.51 253.30L446.56 253.19L447.61 253.10L448.66 253.01L449.71 252.93L450.76 252.87L451.81 252.82L452.86 252.77L453.91 252.74L454.96 252.72L456.01 252.70L457.06 252.69L458.11 252.68L459.16 252.67L460.21 252.67L461.26 252.67L462.31 252.68L463.36 252.69L464.41 252.71L465.46 252.74L466.51 252.77L467.56 252.81L468.61 252.85L469.66 252.90L470.71 252.95L471.76 253.00L472.81 253.05L473.86 253.10L474.91 253.14L475.96 253.19L477.01 253.23L478.06 253.27L479.11 253.31L480.16 253.36L481.21 253.39L482.26 253.43L483.31 253.47L484.36 253.50L485.41 253.53L486.46 253.56L487.51 253.59L488.56 253.61L489.61 253.63L490.66 253.64L491.71 253.65L492.76 253.66L493.81 253.66L494.86 253.66L495.91 253.65L496.96 253.64L498.01 253.63L499.06 253.61L500.11 253.60L501.16 253.58L502.21 253.55L503.26 253.53L504.31 253.50L505.36 253.47L506.41 253.44L507.46 253.41L508.51 253.38L509.56 253.35L510.61 253.31L511.66 253.27L512.71 253.23L513.76 253.19L514.81 253.15L515.86 253.12L516.91 253.09L517.96 253.06L519.01 253.03L520.06 253.00L521.11 252.97L522.17 252.93L523.22 252.90L524.27 252.87L525.32 252.84L526.37 252.80L527.42 252.76L528.47 252.72L529.52 252.68L530.57 252.63L531.62 252.59L532.67 252.54L533.72 252.49" stroke="#00ff00" stroke-width="1.7" stroke-dasharray="2.7 1.4"/>
<path d="M366.75 252.33L367.80 252.33L368.85 252.33L369.90 252.33L370.95 252.32L372.00 252.32L373.05 252.32L374.10 252.31L375.15 252.31L376.20 252.30L377.25 252.30L378.30 252.29L379.35 252.29L380.40 252.28L381.45 252.27L382.50 252.26L383.55 252.26L384.60 252.25L385.65 252.24L386.70 252.23L387.75 252.21L388.80 252.20L389.85 252.19L390.90 252.17L391.95 252.16L393.00 252.15L394.05 252.13L395.10 252.11L396.15 252.09L397.20 252.08L398.25 252.06L399.30 252.04L400.35 252.01L401.40 251.99L402.45 251.97L403.50 251.94L404.55 251.91L405.60 251.88L406.65 251.85L407.70 251.81L408.75 251.78L409.80 251.74L410.85 251.69L411.90 251.65L412.95 251.60L414.00 251.55L415.05 251.50L416.10 251.45L417.15 251.39L418.20 251.33L419.26 251.27L420.31 251.21L421.36 251.14L422.41 251.06L423.46 250.99L424.51 250.91L425.56 250.82L426.61 250.73L427.66 250.64L428.71 250.54L429.76 250.44L430.81 250.34L431.86 250.23L432.91 250.11L433.96 250.00L435.01 249.88L436.06 249.75L437.11 249.62L438.16 249.48L439.21 249.35L440.26 249.20L441.31 249.05L442.36 248.90L443.41 248.73L444.46 248.56L445.51 248.39L446.56 248.20L447.61 248.02L448.66 247.83L449.71 247.65L450.76 247.46L451.81 247.28L452.86 247.10L453.91 246.92L454.96 246.75L456.01 246.58L457.06 246.41L458.11 246.24L459.16 246.08L460.21 245.93L461.26 245.78L462.31 245.65L463.36 245.52L464.41 245.41L465.46 245.29L466.51 245.19L467.56 245.08L468.61 244.99L469.66 244.90L470.71 244.82L471.76 244.75L472.81 244.69L473.86 244.64L474.91 244.60L475.96 244.58L477.01 244.57L478.06 244.56L479.11 244.57L480.16 244.58L481.21 244.60L482.26 244.63L483.31 244.67L484.36 244.72L485.41 244.78L486.46 244.85L487.51 244.94L488.56 245.05L489.61 245.17L490.66 245.30L491.71 245.43L492.76 245.56L493.81 245.69L494.86 245.83L495.91 245.96L496.96 246.11L498.01 246.25L499.06 246.40L500.11 246.55L501.16 246.71L502.21 246.87L503.26 247.03L504.31 247.20L505.36 247.38L506.41 247.55L507.46 247.73L508.51 247.92L509.56 248.12L510.61 248.32L511.66 248.52L512.71 248.72L513.76 248.91L514.81 249.09L515.86 249.26L516.91 249.42L517.96 249.57L519.01 249.72L520.06 249.86L521.11 249.99L522.17 250.12L523.22 250.23L524.27 250.35L525.32 250.45L526.37 250.55L527.42 250.65L528.47 250.74L529.52 250.82L530.57 250.90L531.62 250.97L532.67 251.04L533.72 251.11" stroke="#0000ff" stroke-width="1.7" stroke-dasharray="1.7 1.7"/>
<path d="M366.75 228.15L367.80 228.51L368.85 228.87L369.90 229.23L370.95 229.59L372.00 229.95L373.05 230.31L374.10 230.67L375.15 231.02L376.20 231.38L377.25 231.73L378.30 232.09L379.35 232.44L380.40 232.79L381.45 233.14L382.50 233.49L383.55 233.84L384.60 234.18L385.65 234.53L386.70 234.88L387.75 235.22L388.80 235.56L389.85 235.90L390.90 236.25L391.95 236.59L393.00 236.94L394.05 237.27L395.10 237.61L396.15 237.94L397.20 238.26L398.25 238.57L399.30 238.88L400.35 239.17L401.40 239.45L402.45 239.71L403.50 239.97L404.55 240.22L405.60 240.47L406.65 240.69L407.70 240.90L408.75 241.08L409.80 241.24L410.85 241.36L411.90 241.46L412.95 241.53L414.00 241.58L415.05 241.62L416.10 241.64L417.15 241.64L418.20 241.63L419.26 241.59L420.31 241.52L421.36 241.42L422.41 241.30L423.46 241.15L424.51 240.98L425.56 240.80L426.61 240.60L427.66 240.39L428.71 240.18L429.76 239.96L430.81 239.72L431.86 239.46L432.91 239.19L433.96 238.92L435.01 238.64L436.06 238.36L437.11 238.09L438.16 237.84L439.21 237.60L440.26 237.39L441.31 237.20L442.36 237.03L443.41 236.87L444.46 236.72L445.51 236.59L446.56 236.47L447.61 236.36L448.66 236.27L449.71 236.19L450.76 236.13L451.81 236.09L452.86 236.06L453.91 236.05L454.96 236.06L456.01 236.09L457.06 236.14L458.11 236.20L459.16 236.27L460.21 236.36L461.26 236.46L462.31 236.57L463.36 236.69L464.41 236.83L465.46 236.99L466.51 237.16L467.56 237.36L468.61 237.56L469.66 237.78L470.71 238.00L471.76 238.23L472.81 238.46L473.86 238.70L474.91 238.93L475.96 239.16L477.01 239.39L478.06 239.61L479.11 239.84L480.16 240.07L481.21 240.30L482.26 240.53L483.31 240.76L484.36 241.00L485.41 241.24L486.46 241.49L487.51 241.74L488.56 241.99L489.61 242.25L490.66 242.52L491.71 242.79L492.76 243.07L493.81 243.36L494.86 243.67L495.91 243.98L496.96 244.30L498.01 244.62L499.06 244.94L500.11 245.26L501.16 245.58L502.21 245.90L503.26 246.21L504.31 246.50L505.36 246.79L506.41 247.06L507.46 247.31L508.51 247.54L509.56 247.76L510.61 247.97L511.66 248.16L512.71 248.35L513.76 248.52L514.81 248.68L515.86 248.84L516.91 249.00L517.96 249.15L519.01 249.29L520.06 249.43L521.11 249.56L522.17 249.69L523.22 249.81L524.27 249.93L525.32 250.04L526.37 250.14L527.42 250.24L528.47 250.33L529.52 250.41L530.57 250.49L531.62 250.56L532.67 250.63L533.72 250.70" stroke="#ff00ff" stroke-width="1.35" stroke-dasharray="1.1 0.9"/>
</g>
<rect x="366.75" y="99.40" width="244.65" height="178.60" fill="none" stroke="#1a1a1a" stroke-width="1.1"/>
<g font-family='"Liberation Sans", sans-serif' font-size="9.8" fill="#111">
<text x="360.75" y="255.87" text-anchor="end">0</text>
<text x="360.75" y="204.84" text-anchor="end">0.1</text>
<text x="360.75" y="153.81" text-anchor="end">0.2</text>
<text x="360.75" y="102.78" text-anchor="end">0.3</text>
<text x="368.05" y="291.13" text-anchor="middle">1</text>
<text x="442.16" y="291.13" text-anchor="middle">10</text>
<text x="516.28" y="291.13" text-anchor="middle">100</text>
<text x="590.39" y="291.13" text-anchor="middle">1000</text>
</g>
<rect x="527.00" y="144.60" width="74.90" height="59.00" fill="#fff"/>
<path d="M541.98 203.60v-3.2M541.98 144.60v3.2M556.96 203.60v-3.2M556.96 144.60v3.2M571.94 203.60v-3.2M571.94 144.60v3.2M586.92 203.60v-3.2M586.92 144.60v3.2M527.00 195.17h3.20M601.90 195.17h-3.20M527.00 178.31h3.20M601.90 178.31h-3.20M527.00 161.46h3.20M601.90 161.46h-3.20" stroke="#1a1a1a" stroke-width="0.85" fill="none"/>
<g fill="none" stroke-linejoin="round" clip-path="url(#i2)">
<path d="M527.00 149.15L527.47 149.17L527.94 149.19L528.41 149.20L528.88 149.22L529.36 149.24L529.83 149.26L530.30 149.27L530.77 149.29L531.24 149.31L531.71 149.33L532.18 149.34L532.65 149.36L533.12 149.38L533.59 149.39L534.07 149.41L534.54 149.43L535.01 149.44L535.48 149.46L535.95 149.47L536.42 149.49L536.89 149.51L537.36 149.52L537.83 149.54L538.31 149.55L538.78 149.57L539.25 149.58L539.72 149.59L540.19 149.61L540.66 149.62L541.13 149.63L541.60 149.65L542.07 149.66L542.55 149.67L543.02 149.68L543.49 149.69L543.96 149.71L544.43 149.72L544.90 149.73L545.37 149.74L545.84 149.75L546.31 149.76L546.78 149.77L547.26 149.78L547.73 149.79L548.20 149.80L548.67 149.81L549.14 149.82L549.61 149.84L550.08 149.85L550.55 149.86L551.02 149.88L551.50 149.89L551.97 149.91L552.44 149.93L552.91 149.95L553.38 149.97L553.85 149.99L554.32 150.01L554.79 150.03L555.26 150.06L555.74 150.09L556.21 150.11L556.68 150.14L557.15 150.18L557.62 150.21L558.09 150.25L558.56 150.29L559.03 150.33L559.50 150.38L559.97 150.42L560.45 150.47L560.92 150.53L561.39 150.58L561.86 150.64L562.33 150.70L562.80 150.76L563.27 150.82L563.74 150.88L564.21 150.95L564.69 151.02L565.16 151.09L565.63 151.16L566.10 151.23L566.57 151.30L567.04 151.38L567.51 151.45L567.98 151.53L568.45 151.60L568.93 151.68L569.40 151.76L569.87 151.84L570.34 151.92L570.81 151.99L571.28 152.07L571.75 152.15L572.22 152.23L572.69 152.31L573.16 152.40L573.64 152.48L574.11 152.56L574.58 152.65L575.05 152.74L575.52 152.82L575.99 152.91L576.46 153.00L576.93 153.09L577.40 153.18L577.88 153.27L578.35 153.36L578.82 153.45L579.29 153.54L579.76 153.64L580.23 153.73L580.70 153.82L581.17 153.92L581.64 154.01L582.12 154.10L582.59 154.20L583.06 154.29L583.53 154.38L584.00 154.48L584.47 154.57L584.94 154.66L585.41 154.76L585.88 154.85L586.35 154.94L586.83 155.03L587.30 155.12L587.77 155.22L588.24 155.31L588.71 155.40L589.18 155.49L589.65 155.58L590.12 155.67L590.59 155.76L591.07 155.85L591.54 155.94L592.01 156.03L592.48 156.12L592.95 156.21L593.42 156.30L593.89 156.39L594.36 156.48L594.83 156.57L595.31 156.66L595.78 156.75L596.25 156.84L596.72 156.93L597.19 157.02L597.66 157.11L598.13 157.20L598.60 157.29L599.07 157.38L599.54 157.47L600.02 157.56L600.49 157.65L600.96 157.74L601.43 157.83L601.90 157.92" stroke="#ff0000" stroke-width="1.4"/>
<path d="M527.00 195.85L527.47 195.85L527.94 195.85L528.41 195.86L528.88 195.86L529.36 195.87L529.83 195.87L530.30 195.87L530.77 195.88L531.24 195.88L531.71 195.89L532.18 195.89L532.65 195.90L533.12 195.90L533.59 195.91L534.07 195.91L534.54 195.92L535.01 195.92L535.48 195.93L535.95 195.93L536.42 195.94L536.89 195.94L537.36 195.95L537.83 195.96L538.31 195.96L538.78 195.97L539.25 195.97L539.72 195.98L540.19 195.99L540.66 195.99L541.13 196.00L541.60 196.01L542.07 196.02L542.55 196.02L543.02 196.03L543.49 196.04L543.96 196.05L544.43 196.06L544.90 196.07L545.37 196.07L545.84 196.08L546.31 196.09L546.78 196.10L547.26 196.11L547.73 196.12L548.20 196.13L548.67 196.15L549.14 196.16L549.61 196.17L550.08 196.18L550.55 196.19L551.02 196.20L551.50 196.21L551.97 196.22L552.44 196.24L552.91 196.25L553.38 196.26L553.85 196.27L554.32 196.28L554.79 196.30L555.26 196.31L555.74 196.32L556.21 196.33L556.68 196.34L557.15 196.36L557.62 196.37L558.09 196.38L558.56 196.39L559.03 196.40L559.50 196.42L559.97 196.43L560.45 196.44L560.92 196.45L561.39 196.46L561.86 196.48L562.33 196.49L562.80 196.50L563.27 196.51L563.74 196.52L564.21 196.53L564.69 196.54L565.16 196.56L565.63 196.57L566.10 196.58L566.57 196.59L567.04 196.60L567.51 196.61L567.98 196.62L568.45 196.63L568.93 196.64L569.40 196.64L569.87 196.65L570.34 196.66L570.81 196.67L571.28 196.68L571.75 196.69L572.22 196.69L572.69 196.70L573.16 196.71L573.64 196.71L574.11 196.72L574.58 196.73L575.05 196.73L575.52 196.74L575.99 196.75L576.46 196.75L576.93 196.76L577.40 196.77L577.88 196.77L578.35 196.78L578.82 196.78L579.29 196.79L579.76 196.79L580.23 196.80L580.70 196.81L581.17 196.81L581.64 196.82L582.12 196.82L582.59 196.82L583.06 196.83L583.53 196.83L584.00 196.84L584.47 196.84L584.94 196.85L585.41 196.85L585.88 196.86L586.35 196.86L586.83 196.86L587.30 196.87L587.77 196.87L588.24 196.87L588.71 196.88L589.18 196.88L589.65 196.88L590.12 196.89L590.59 196.89L591.07 196.89L591.54 196.90L592.01 196.90L592.48 196.90L592.95 196.90L593.42 196.91L593.89 196.91L594.36 196.91L594.83 196.91L595.31 196.92L595.78 196.92L596.25 196.92L596.72 196.92L597.19 196.93L597.66 196.93L598.13 196.93L598.60 196.93L599.07 196.93L599.54 196.93L600.02 196.94L600.49 196.94L600.96 196.94L601.43 196.94L601.90 196.94" stroke="#00ff00" stroke-width="1.4" stroke-dasharray="2.2 1.1"/>
<path d="M527.00 195.17L527.47 195.17L527.94 195.17L528.41 195.17L528.88 195.17L529.36 195.17L529.83 195.16L530.30 195.16L530.77 195.16L531.24 195.16L531.71 195.16L532.18 195.16L532.65 195.16L533.12 195.15L533.59 195.15L534.07 195.15L534.54 195.15L535.01 195.15L535.48 195.15L535.95 195.15L536.42 195.14L536.89 195.14L537.36 195.14L537.83 195.14L538.31 195.14L538.78 195.14L539.25 195.13L539.72 195.13L540.19 195.13L540.66 195.13L541.13 195.13L541.60 195.13L542.07 195.13L542.55 195.12L543.02 195.12L543.49 195.12L543.96 195.12L544.43 195.12L544.90 195.12L545.37 195.11L545.84 195.11L546.31 195.11L546.78 195.11L547.26 195.11L547.73 195.10L548.20 195.10L548.67 195.10L549.14 195.10L549.61 195.10L550.08 195.10L550.55 195.09L551.02 195.09L551.50 195.09L551.97 195.09L552.44 195.09L552.91 195.08L553.38 195.08L553.85 195.08L554.32 195.08L554.79 195.08L555.26 195.08L555.74 195.07L556.21 195.07L556.68 195.07L557.15 195.07L557.62 195.07L558.09 195.06L558.56 195.06L559.03 195.06L559.50 195.06L559.97 195.06L560.45 195.05L560.92 195.05L561.39 195.05L561.86 195.05L562.33 195.05L562.80 195.04L563.27 195.04L563.74 195.04L564.21 195.04L564.69 195.04L565.16 195.03L565.63 195.03L566.10 195.03L566.57 195.03L567.04 195.02L567.51 195.02L567.98 195.02L568.45 195.02L568.93 195.02L569.40 195.01L569.87 195.01L570.34 195.01L570.81 195.01L571.28 195.01L571.75 195.00L572.22 195.00L572.69 195.00L573.16 195.00L573.64 194.99L574.11 194.99L574.58 194.99L575.05 194.99L575.52 194.99L575.99 194.98L576.46 194.98L576.93 194.98L577.40 194.98L577.88 194.97L578.35 194.97L578.82 194.97L579.29 194.97L579.76 194.96L580.23 194.96L580.70 194.96L581.17 194.96L581.64 194.95L582.12 194.95L582.59 194.95L583.06 194.95L583.53 194.94L584.00 194.94L584.47 194.94L584.94 194.94L585.41 194.93L585.88 194.93L586.35 194.93L586.83 194.93L587.30 194.92L587.77 194.92L588.24 194.92L588.71 194.92L589.18 194.91L589.65 194.91L590.12 194.91L590.59 194.90L591.07 194.90L591.54 194.90L592.01 194.90L592.48 194.89L592.95 194.89L593.42 194.89L593.89 194.88L594.36 194.88L594.83 194.88L595.31 194.88L595.78 194.87L596.25 194.87L596.72 194.87L597.19 194.86L597.66 194.86L598.13 194.86L598.60 194.86L599.07 194.85L599.54 194.85L600.02 194.85L600.49 194.84L600.96 194.84L601.43 194.84L601.90 194.83" stroke="#0000ff" stroke-width="1.4" stroke-dasharray="1.4 1.6"/>
<path d="M527.00 182.70L527.47 182.86L527.94 183.03L528.41 183.19L528.88 183.35L529.36 183.51L529.83 183.68L530.30 183.84L530.77 184.00L531.24 184.16L531.71 184.31L532.18 184.47L532.65 184.63L533.12 184.78L533.59 184.94L534.07 185.09L534.54 185.24L535.01 185.39L535.48 185.54L535.95 185.69L536.42 185.84L536.89 185.99L537.36 186.14L537.83 186.28L538.31 186.43L538.78 186.57L539.25 186.70L539.72 186.84L540.19 186.97L540.66 187.09L541.13 187.21L541.60 187.33L542.07 187.44L542.55 187.55L543.02 187.65L543.49 187.75L543.96 187.85L544.43 187.94L544.90 188.04L545.37 188.13L545.84 188.21L546.31 188.30L546.78 188.38L547.26 188.46L547.73 188.54L548.20 188.62L548.67 188.69L549.14 188.76L549.61 188.83L550.08 188.90L550.55 188.97L551.02 189.04L551.50 189.10L551.97 189.17L552.44 189.23L552.91 189.29L553.38 189.35L553.85 189.41L554.32 189.46L554.79 189.52L555.26 189.58L555.74 189.63L556.21 189.69L556.68 189.74L557.15 189.80L557.62 189.85L558.09 189.91L558.56 189.96L559.03 190.02L559.50 190.07L559.97 190.12L560.45 190.18L560.92 190.23L561.39 190.28L561.86 190.33L562.33 190.38L562.80 190.44L563.27 190.49L563.74 190.53L564.21 190.58L564.69 190.63L565.16 190.68L565.63 190.72L566.10 190.77L566.57 190.81L567.04 190.85L567.51 190.89L567.98 190.93L568.45 190.97L568.93 191.01L569.40 191.04L569.87 191.08L570.34 191.11L570.81 191.14L571.28 191.17L571.75 191.20L572.22 191.23L572.69 191.25L573.16 191.27L573.64 191.30L574.11 191.32L574.58 191.34L575.05 191.36L575.52 191.38L575.99 191.40L576.46 191.42L576.93 191.44L577.40 191.45L577.88 191.47L578.35 191.49L578.82 191.50L579.29 191.51L579.76 191.53L580.23 191.54L580.70 191.55L581.17 191.56L581.64 191.57L582.12 191.58L582.59 191.59L583.06 191.59L583.53 191.60L584.00 191.61L584.47 191.61L584.94 191.62L585.41 191.62L585.88 191.63L586.35 191.63L586.83 191.63L587.30 191.63L587.77 191.63L588.24 191.64L588.71 191.64L589.18 191.64L589.65 191.64L590.12 191.64L590.59 191.64L591.07 191.64L591.54 191.64L592.01 191.64L592.48 191.64L592.95 191.64L593.42 191.64L593.89 191.64L594.36 191.64L594.83 191.64L595.31 191.64L595.78 191.64L596.25 191.64L596.72 191.64L597.19 191.64L597.66 191.64L598.13 191.64L598.60 191.64L599.07 191.64L599.54 191.64L600.02 191.63L600.49 191.63L600.96 191.63L601.43 191.63L601.90 191.63" stroke="#ff00ff" stroke-width="1.25" stroke-dasharray="0.8 0.6"/>
</g>
<rect x="527.00" y="144.60" width="74.90" height="59.00" fill="none" stroke="#1a1a1a" stroke-width="0.95"/>
<g font-family='"Liberation Sans", sans-serif' font-size="8.2" fill="#111">
<text x="522.00" y="198.00" text-anchor="end">0</text>
<text x="522.00" y="181.14" text-anchor="end" textLength="10.83" lengthAdjust="spacingAndGlyphs">0.1</text>
<text x="522.00" y="164.29" text-anchor="end" textLength="10.83" lengthAdjust="spacingAndGlyphs">0.2</text>
<text x="522.00" y="147.43" text-anchor="end" textLength="10.83" lengthAdjust="spacingAndGlyphs">0.3</text>
<text x="527.80" y="214.15" text-anchor="middle">0</text>
<text x="542.78" y="214.15" text-anchor="middle">1</text>
<text x="557.76" y="214.15" text-anchor="middle">2</text>
<text x="572.74" y="214.15" text-anchor="middle">3</text>
<text x="587.72" y="214.15" text-anchor="middle">4</text>
<text x="602.70" y="214.15" text-anchor="middle">5</text>
</g>
<text x="560.40" y="141.30" text-anchor="middle" font-family='"Liberation Serif", serif' font-size="11.4" fill="#2a2a2a" textLength="47.2" lengthAdjust="spacingAndGlyphs">wall-zoom</text>
<rect x="376.50" y="149.50" width="22.80" height="23.80" fill="#fff" stroke="#1a1a1a" stroke-width="1.05"/>
<text x="380.70" y="164.10" font-family='"Liberation Serif", serif' font-size="11.8" fill="#3a3a3a" font-style="italic" textLength="4.8" lengthAdjust="spacingAndGlyphs">ε</text>
<path d="M386.90 156.90h5.80M389.80 154.00v5.80" stroke="#3a3a3a" stroke-width="0.62" fill="none"/>
<text x="386.50" y="167.00" font-family='"Liberation Serif", serif' font-size="8.4" fill="#3a3a3a" font-style="italic" textLength="7.0" lengthAdjust="spacingAndGlyphs">ij</text>
<text x="541.20" y="270.80" font-family='"Liberation Serif", serif' font-size="13.5" font-style="italic" fill="#2a2a2a" textLength="6.6" lengthAdjust="spacingAndGlyphs">y</text>
<path d="M548.40 264.40h5.6M551.20 261.60v5.6" stroke="#2a2a2a" stroke-width="0.62" fill="none"/>
<path d="M553.70 268.40H573.80" stroke="#111" stroke-width="1.1" fill="none"/>
<path d="M576.80 268.40l-5 -1.45v2.9z" fill="#111"/>
<!-- panel 3 -->
<path d="M95.00 453.40H338.60" stroke="#8a8a8a" stroke-width="0.8" stroke-dasharray="1 1" fill="none"/>
<path d="M116.76 473.20v-2.30M116.76 295.00v2.30M129.78 473.20v-2.30M129.78 295.00v2.30M139.02 473.20v-2.30M139.02 295.00v2.30M146.19 473.20v-2.30M146.19 295.00v2.30M152.04 473.20v-2.30M152.04 295.00v2.30M156.99 473.20v-2.30M156.99 295.00v2.30M161.28 473.20v-2.30M161.28 295.00v2.30M165.06 473.20v-2.30M165.06 295.00v2.30M168.45 473.20v-4.50M168.45 295.00v4.50M190.71 473.20v-2.30M190.71 295.00v2.30M203.73 473.20v-2.30M203.73 295.00v2.30M212.97 473.20v-2.30M212.97 295.00v2.30M220.13 473.20v-2.30M220.13 295.00v2.30M225.99 473.20v-2.30M225.99 295.00v2.30M230.94 473.20v-2.30M230.94 295.00v2.30M235.23 473.20v-2.30M235.23 295.00v2.30M239.01 473.20v-2.30M239.01 295.00v2.30M242.39 473.20v-4.50M242.39 295.00v4.50M264.65 473.20v-2.30M264.65 295.00v2.30M277.67 473.20v-2.30M277.67 295.00v2.30M286.91 473.20v-2.30M286.91 295.00v2.30M294.08 473.20v-2.30M294.08 295.00v2.30M299.93 473.20v-2.30M299.93 295.00v2.30M304.89 473.20v-2.30M304.89 295.00v2.30M309.17 473.20v-2.30M309.17 295.00v2.30M312.96 473.20v-2.30M312.96 295.00v2.30M316.34 473.20v-4.50M316.34 295.00v4.50M94.50 453.40h4.50M338.60 453.40h-4.50M94.50 413.80h4.50M338.60 413.80h-4.50M94.50 374.20h4.50M338.60 374.20h-4.50M94.50 334.60h4.50M338.60 334.60h-4.50" stroke="#1a1a1a" stroke-width="1.0" fill="none"/>
<g fill="none" stroke-linejoin="round" clip-path="url(#c3)">
<path d="M94.50 396.18L95.55 395.64L96.60 395.08L97.64 394.49L98.69 393.88L99.74 393.23L100.79 392.55L101.83 391.82L102.88 391.05L103.93 390.23L104.98 389.36L106.03 388.44L107.07 387.45L108.12 386.40L109.17 385.27L110.22 384.07L111.26 382.78L112.31 381.40L113.36 379.93L114.41 378.34L115.45 376.65L116.50 374.85L117.55 372.97L118.60 371.01L119.65 368.98L120.69 366.84L121.74 364.61L122.79 362.30L123.84 359.90L124.88 357.42L125.93 354.87L126.98 352.22L128.03 349.49L129.08 346.70L130.12 343.90L131.17 341.09L132.22 338.32L133.27 335.53L134.31 332.75L135.36 330.05L136.41 327.46L137.46 325.05L138.51 322.86L139.55 320.80L140.60 318.88L141.65 317.13L142.70 315.59L143.74 314.27L144.79 313.22L145.84 312.34L146.89 311.60L147.93 311.04L148.98 310.67L150.03 310.52L151.08 310.63L152.13 310.99L153.17 311.58L154.22 312.38L155.27 313.35L156.32 314.49L157.36 315.93L158.41 317.66L159.46 319.62L160.51 321.77L161.56 324.06L162.60 326.57L163.65 329.24L164.70 331.98L165.75 334.69L166.79 337.30L167.84 339.85L168.89 342.37L169.94 344.88L170.99 347.39L172.03 349.89L173.08 352.37L174.13 354.84L175.18 357.29L176.22 359.72L177.27 362.12L178.32 364.48L179.37 366.79L180.41 369.05L181.46 371.28L182.51 373.47L183.56 375.62L184.61 377.74L185.65 379.83L186.70 381.88L187.75 383.91L188.80 385.90L189.84 387.88L190.89 389.83L191.94 391.76L192.99 393.67L194.04 395.56L195.08 397.44L196.13 399.31L197.18 401.18L198.23 403.06L199.27 404.96L200.32 406.86L201.37 408.76L202.42 410.65L203.47 412.53L204.51 414.39L205.56 416.23L206.61 418.05L207.66 419.85L208.70 421.63L209.75 423.37L210.80 425.09L211.85 426.77L212.89 428.44L213.94 430.06L214.99 431.63L216.04 433.13L217.09 434.55L218.13 435.88L219.18 437.14L220.23 438.34L221.28 439.47L222.32 440.53L223.37 441.54L224.42 442.48L225.47 443.38L226.52 444.23L227.56 445.03L228.61 445.76L229.66 446.42L230.71 447.02L231.75 447.57L232.80 448.06L233.85 448.52L234.90 448.92L235.95 449.29L236.99 449.64L238.04 449.95L239.09 450.24L240.14 450.51L241.18 450.76L242.23 450.99L243.28 451.21L244.33 451.41L245.37 451.59L246.42 451.76L247.47 451.92L248.52 452.05L249.57 452.16L250.61 452.25L251.66 452.34L252.71 452.42L253.76 452.49L254.80 452.57L255.85 452.64L256.90 452.71L257.95 452.79L259.00 452.86L260.04 452.93L261.09 453.00" stroke="#ff0000" stroke-width="1.6"/>
<path d="M94.50 456.17L95.55 456.10L96.60 456.02L97.64 455.94L98.69 455.86L99.74 455.78L100.79 455.69L101.83 455.61L102.88 455.52L103.93 455.43L104.98 455.34L106.03 455.25L107.07 455.16L108.12 455.06L109.17 454.97L110.22 454.87L111.26 454.77L112.31 454.66L113.36 454.55L114.41 454.45L115.45 454.33L116.50 454.22L117.55 454.10L118.60 453.98L119.65 453.85L120.69 453.72L121.74 453.59L122.79 453.46L123.84 453.33L124.88 453.19L125.93 453.06L126.98 452.93L128.03 452.81L129.08 452.69L130.12 452.57L131.17 452.46L132.22 452.35L133.27 452.25L134.31 452.14L135.36 452.04L136.41 451.94L137.46 451.85L138.51 451.75L139.55 451.66L140.60 451.56L141.65 451.46L142.70 451.36L143.74 451.27L144.79 451.16L145.84 451.06L146.89 450.95L147.93 450.84L148.98 450.73L150.03 450.61L151.08 450.50L152.13 450.38L153.17 450.26L154.22 450.15L155.27 450.03L156.32 449.91L157.36 449.79L158.41 449.68L159.46 449.56L160.51 449.45L161.56 449.33L162.60 449.22L163.65 449.11L164.70 449.00L165.75 448.90L166.79 448.80L167.84 448.70L168.89 448.61L169.94 448.52L170.99 448.43L172.03 448.35L173.08 448.27L174.13 448.19L175.18 448.12L176.22 448.05L177.27 447.99L178.32 447.95L179.37 447.90L180.41 447.87L181.46 447.86L182.51 447.85L183.56 447.85L184.61 447.85L185.65 447.87L186.70 447.89L187.75 447.92L188.80 447.96L189.84 448.01L190.89 448.06L191.94 448.13L192.99 448.22L194.04 448.32L195.08 448.43L196.13 448.56L197.18 448.69L198.23 448.84L199.27 448.98L200.32 449.14L201.37 449.29L202.42 449.45L203.47 449.60L204.51 449.75L205.56 449.91L206.61 450.07L207.66 450.24L208.70 450.41L209.75 450.57L210.80 450.74L211.85 450.90L212.89 451.06L213.94 451.22L214.99 451.38L216.04 451.52L217.09 451.66L218.13 451.79L219.18 451.91L220.23 452.02L221.28 452.13L222.32 452.22L223.37 452.32L224.42 452.40L225.47 452.49L226.52 452.56L227.56 452.63L228.61 452.70L229.66 452.76L230.71 452.82L231.75 452.87L232.80 452.91L233.85 452.96L234.90 452.99L235.95 453.03L236.99 453.06L238.04 453.09L239.09 453.11L240.14 453.14L241.18 453.17L242.23 453.19L243.28 453.21L244.33 453.23L245.37 453.25L246.42 453.27L247.47 453.28L248.52 453.30L249.57 453.31L250.61 453.33L251.66 453.34L252.71 453.35L253.76 453.36L254.80 453.37L255.85 453.37L256.90 453.38L257.95 453.39L259.00 453.39L260.04 453.40L261.09 453.40" stroke="#00ff00" stroke-width="1.7" stroke-dasharray="2.7 1.4"/>
<path d="M94.50 451.42L95.55 451.45L96.60 451.47L97.64 451.50L98.69 451.52L99.74 451.55L100.79 451.57L101.83 451.59L102.88 451.62L103.93 451.64L104.98 451.66L106.03 451.68L107.07 451.70L108.12 451.72L109.17 451.73L110.22 451.75L111.26 451.76L112.31 451.78L113.36 451.79L114.41 451.80L115.45 451.81L116.50 451.81L117.55 451.82L118.60 451.82L119.65 451.83L120.69 451.83L121.74 451.83L122.79 451.84L123.84 451.84L124.88 451.83L125.93 451.83L126.98 451.83L128.03 451.83L129.08 451.82L130.12 451.81L131.17 451.80L132.22 451.79L133.27 451.77L134.31 451.75L135.36 451.72L136.41 451.69L137.46 451.65L138.51 451.62L139.55 451.57L140.60 451.53L141.65 451.48L142.70 451.43L143.74 451.37L144.79 451.31L145.84 451.24L146.89 451.18L147.93 451.10L148.98 451.01L150.03 450.92L151.08 450.83L152.13 450.73L153.17 450.62L154.22 450.52L155.27 450.41L156.32 450.30L157.36 450.19L158.41 450.08L159.46 449.97L160.51 449.86L161.56 449.75L162.60 449.64L163.65 449.52L164.70 449.41L165.75 449.31L166.79 449.20L167.84 449.10L168.89 449.00L169.94 448.91L170.99 448.82L172.03 448.73L173.08 448.64L174.13 448.56L175.18 448.48L176.22 448.40L177.27 448.32L178.32 448.25L179.37 448.18L180.41 448.12L181.46 448.05L182.51 447.99L183.56 447.93L184.61 447.88L185.65 447.82L186.70 447.77L187.75 447.73L188.80 447.70L189.84 447.67L190.89 447.66L191.94 447.65L192.99 447.65L194.04 447.66L195.08 447.68L196.13 447.70L197.18 447.73L198.23 447.77L199.27 447.81L200.32 447.86L201.37 447.91L202.42 447.97L203.47 448.04L204.51 448.11L205.56 448.19L206.61 448.28L207.66 448.38L208.70 448.49L209.75 448.60L210.80 448.72L211.85 448.84L212.89 448.96L213.94 449.09L214.99 449.22L216.04 449.35L217.09 449.48L218.13 449.60L219.18 449.73L220.23 449.85L221.28 449.96L222.32 450.08L223.37 450.19L224.42 450.30L225.47 450.42L226.52 450.53L227.56 450.64L228.61 450.74L229.66 450.85L230.71 450.96L231.75 451.07L232.80 451.17L233.85 451.28L234.90 451.39L235.95 451.49L236.99 451.60L238.04 451.71L239.09 451.82L240.14 451.93L241.18 452.03L242.23 452.14L243.28 452.23L244.33 452.33L245.37 452.41L246.42 452.49L247.47 452.56L248.52 452.62L249.57 452.68L250.61 452.73L251.66 452.77L252.71 452.81L253.76 452.85L254.80 452.88L255.85 452.91L256.90 452.94L257.95 452.96L259.00 452.98L260.04 452.99L261.09 453.00" stroke="#0000ff" stroke-width="1.7" stroke-dasharray="1.7 1.7"/>
<path d="M94.50 414.20L95.55 414.91L96.60 415.62L97.64 416.32L98.69 417.01L99.74 417.70L100.79 418.38L101.83 419.05L102.88 419.71L103.93 420.36L104.98 421.00L106.03 421.63L107.07 422.25L108.12 422.86L109.17 423.45L110.22 424.04L111.26 424.61L112.31 425.16L113.36 425.69L114.41 426.21L115.45 426.69L116.50 427.15L117.55 427.59L118.60 428.00L119.65 428.40L120.69 428.78L121.74 429.14L122.79 429.49L123.84 429.83L124.88 430.16L125.93 430.48L126.98 430.80L128.03 431.11L129.08 431.41L130.12 431.72L131.17 432.03L132.22 432.34L133.27 432.64L134.31 432.93L135.36 433.21L136.41 433.47L137.46 433.70L138.51 433.91L139.55 434.08L140.60 434.22L141.65 434.35L142.70 434.46L143.74 434.56L144.79 434.65L145.84 434.75L146.89 434.86L147.93 434.98L148.98 435.10L150.03 435.22L151.08 435.34L152.13 435.46L153.17 435.58L154.22 435.70L155.27 435.81L156.32 435.91L157.36 436.01L158.41 436.09L159.46 436.17L160.51 436.23L161.56 436.30L162.60 436.36L163.65 436.42L164.70 436.49L165.75 436.56L166.79 436.63L167.84 436.72L168.89 436.81L169.94 436.92L170.99 437.04L172.03 437.18L173.08 437.34L174.13 437.53L175.18 437.74L176.22 438.00L177.27 438.28L178.32 438.58L179.37 438.90L180.41 439.22L181.46 439.54L182.51 439.86L183.56 440.18L184.61 440.50L185.65 440.82L186.70 441.14L187.75 441.46L188.80 441.77L189.84 442.07L190.89 442.36L191.94 442.65L192.99 442.93L194.04 443.21L195.08 443.48L196.13 443.75L197.18 444.01L198.23 444.26L199.27 444.51L200.32 444.75L201.37 444.98L202.42 445.21L203.47 445.43L204.51 445.64L205.56 445.84L206.61 446.03L207.66 446.22L208.70 446.41L209.75 446.59L210.80 446.77L211.85 446.94L212.89 447.11L213.94 447.28L214.99 447.44L216.04 447.61L217.09 447.77L218.13 447.94L219.18 448.10L220.23 448.27L221.28 448.44L222.32 448.60L223.37 448.77L224.42 448.94L225.47 449.11L226.52 449.28L227.56 449.45L228.61 449.62L229.66 449.79L230.71 449.95L231.75 450.11L232.80 450.27L233.85 450.43L234.90 450.58L235.95 450.73L236.99 450.88L238.04 451.02L239.09 451.17L240.14 451.31L241.18 451.44L242.23 451.57L243.28 451.70L244.33 451.82L245.37 451.94L246.42 452.04L247.47 452.14L248.52 452.23L249.57 452.32L250.61 452.40L251.66 452.48L252.71 452.55L253.76 452.62L254.80 452.69L255.85 452.75L256.90 452.81L257.95 452.86L259.00 452.91L260.04 452.96L261.09 453.00" stroke="#ff00ff" stroke-width="1.35" stroke-dasharray="1.1 0.9"/>
</g>
<rect x="94.50" y="295.00" width="244.10" height="178.20" fill="none" stroke="#1a1a1a" stroke-width="1.1"/>
<g font-family='"Liberation Sans", sans-serif' font-size="9.8" fill="#111">
<text x="88.50" y="456.78" text-anchor="end">0</text>
<text x="88.50" y="417.18" text-anchor="end">0.01</text>
<text x="88.50" y="377.58" text-anchor="end">0.02</text>
<text x="88.50" y="337.98" text-anchor="end">0.03</text>
<text x="95.80" y="486.33" text-anchor="middle">1</text>
<text x="169.75" y="486.33" text-anchor="middle">10</text>
<text x="243.69" y="486.33" text-anchor="middle">100</text>
<text x="317.64" y="486.33" text-anchor="middle">1000</text>
</g>
<rect x="258.50" y="340.10" width="71.20" height="59.10" fill="#fff"/>
<path d="M272.74 399.20v-3.2M272.74 340.10v3.2M286.98 399.20v-3.2M286.98 340.10v3.2M301.22 399.20v-3.2M301.22 340.10v3.2M315.46 399.20v-3.2M315.46 340.10v3.2M258.50 392.63h3.20M329.70 392.63h-3.20M258.50 379.50h3.20M329.70 379.50h-3.20M258.50 366.37h3.20M329.70 366.37h-3.20M258.50 353.23h3.20M329.70 353.23h-3.20" stroke="#1a1a1a" stroke-width="0.85" fill="none"/>
<g fill="none" stroke-linejoin="round" clip-path="url(#i3)">
<path d="M258.50 373.72L258.95 373.94L259.40 374.15L259.84 374.35L260.29 374.54L260.74 374.71L261.19 374.85L261.63 374.98L262.08 375.08L262.53 375.14L262.98 375.18L263.43 375.19L263.87 375.19L264.32 375.16L264.77 375.13L265.22 375.08L265.66 375.03L266.11 374.96L266.56 374.88L267.01 374.79L267.46 374.69L267.90 374.57L268.35 374.45L268.80 374.32L269.25 374.18L269.69 374.03L270.14 373.88L270.59 373.72L271.04 373.56L271.49 373.40L271.93 373.23L272.38 373.07L272.83 372.90L273.28 372.73L273.73 372.56L274.17 372.39L274.62 372.21L275.07 372.03L275.52 371.84L275.96 371.66L276.41 371.47L276.86 371.28L277.31 371.08L277.76 370.88L278.20 370.68L278.65 370.48L279.10 370.27L279.55 370.06L279.99 369.85L280.44 369.63L280.89 369.42L281.34 369.20L281.79 368.98L282.23 368.75L282.68 368.52L283.13 368.29L283.58 368.06L284.02 367.83L284.47 367.59L284.92 367.36L285.37 367.12L285.82 366.87L286.26 366.63L286.71 366.38L287.16 366.14L287.61 365.88L288.05 365.63L288.50 365.37L288.95 365.11L289.40 364.84L289.85 364.57L290.29 364.30L290.74 364.02L291.19 363.75L291.64 363.47L292.08 363.19L292.53 362.91L292.98 362.62L293.43 362.34L293.88 362.05L294.32 361.77L294.77 361.48L295.22 361.19L295.67 360.91L296.12 360.62L296.56 360.33L297.01 360.05L297.46 359.76L297.91 359.48L298.35 359.20L298.80 358.92L299.25 358.64L299.70 358.36L300.15 358.08L300.59 357.81L301.04 357.54L301.49 357.28L301.94 357.01L302.38 356.74L302.83 356.48L303.28 356.21L303.73 355.95L304.18 355.69L304.62 355.43L305.07 355.17L305.52 354.91L305.97 354.66L306.41 354.40L306.86 354.15L307.31 353.90L307.76 353.66L308.21 353.41L308.65 353.17L309.10 352.93L309.55 352.70L310.00 352.47L310.44 352.24L310.89 352.01L311.34 351.79L311.79 351.57L312.24 351.36L312.68 351.15L313.13 350.94L313.58 350.74L314.03 350.55L314.47 350.35L314.92 350.17L315.37 349.99L315.82 349.81L316.27 349.63L316.71 349.46L317.16 349.30L317.61 349.13L318.06 348.97L318.51 348.81L318.95 348.65L319.40 348.50L319.85 348.35L320.30 348.20L320.74 348.06L321.19 347.91L321.64 347.77L322.09 347.63L322.54 347.50L322.98 347.36L323.43 347.23L323.88 347.10L324.33 346.98L324.77 346.85L325.22 346.73L325.67 346.61L326.12 346.49L326.57 346.38L327.01 346.26L327.46 346.15L327.91 346.04L328.36 345.93L328.80 345.82L329.25 345.72L329.70 345.62" stroke="#ff0000" stroke-width="1.4"/>
<path d="M258.50 394.21L258.95 394.19L259.40 394.18L259.84 394.16L260.29 394.15L260.74 394.14L261.19 394.12L261.63 394.10L262.08 394.09L262.53 394.07L262.98 394.06L263.43 394.04L263.87 394.03L264.32 394.01L264.77 394.00L265.22 393.98L265.66 393.96L266.11 393.95L266.56 393.93L267.01 393.91L267.46 393.90L267.90 393.88L268.35 393.86L268.80 393.85L269.25 393.83L269.69 393.81L270.14 393.79L270.59 393.77L271.04 393.76L271.49 393.74L271.93 393.72L272.38 393.70L272.83 393.68L273.28 393.66L273.73 393.64L274.17 393.62L274.62 393.60L275.07 393.58L275.52 393.56L275.96 393.54L276.41 393.51L276.86 393.49L277.31 393.47L277.76 393.45L278.20 393.43L278.65 393.40L279.10 393.38L279.55 393.36L279.99 393.34L280.44 393.32L280.89 393.29L281.34 393.27L281.79 393.25L282.23 393.23L282.68 393.21L283.13 393.19L283.58 393.17L284.02 393.15L284.47 393.13L284.92 393.11L285.37 393.09L285.82 393.07L286.26 393.05L286.71 393.04L287.16 393.02L287.61 393.00L288.05 392.99L288.50 392.97L288.95 392.96L289.40 392.94L289.85 392.93L290.29 392.91L290.74 392.90L291.19 392.89L291.64 392.87L292.08 392.86L292.53 392.85L292.98 392.84L293.43 392.82L293.88 392.81L294.32 392.80L294.77 392.79L295.22 392.78L295.67 392.77L296.12 392.76L296.56 392.74L297.01 392.73L297.46 392.72L297.91 392.71L298.35 392.70L298.80 392.69L299.25 392.68L299.70 392.67L300.15 392.66L300.59 392.65L301.04 392.64L301.49 392.63L301.94 392.62L302.38 392.61L302.83 392.60L303.28 392.58L303.73 392.57L304.18 392.56L304.62 392.55L305.07 392.54L305.52 392.53L305.97 392.52L306.41 392.51L306.86 392.50L307.31 392.49L307.76 392.48L308.21 392.47L308.65 392.46L309.10 392.45L309.55 392.44L310.00 392.43L310.44 392.42L310.89 392.41L311.34 392.40L311.79 392.38L312.24 392.37L312.68 392.36L313.13 392.35L313.58 392.34L314.03 392.33L314.47 392.32L314.92 392.31L315.37 392.30L315.82 392.29L316.27 392.28L316.71 392.27L317.16 392.26L317.61 392.25L318.06 392.24L318.51 392.23L318.95 392.22L319.40 392.21L319.85 392.20L320.30 392.19L320.74 392.18L321.19 392.17L321.64 392.16L322.09 392.15L322.54 392.14L322.98 392.13L323.43 392.12L323.88 392.11L324.33 392.10L324.77 392.09L325.22 392.08L325.67 392.07L326.12 392.06L326.57 392.05L327.01 392.04L327.46 392.03L327.91 392.02L328.36 392.01L328.80 392.00L329.25 391.99L329.70 391.98" stroke="#00ff00" stroke-width="1.4" stroke-dasharray="2.2 1.1"/>
<path d="M258.50 390.79L258.95 390.82L259.40 390.85L259.84 390.88L260.29 390.91L260.74 390.94L261.19 390.97L261.63 390.99L262.08 391.02L262.53 391.05L262.98 391.08L263.43 391.10L263.87 391.13L264.32 391.16L264.77 391.18L265.22 391.21L265.66 391.23L266.11 391.26L266.56 391.28L267.01 391.31L267.46 391.33L267.90 391.36L268.35 391.38L268.80 391.40L269.25 391.42L269.69 391.45L270.14 391.47L270.59 391.49L271.04 391.51L271.49 391.53L271.93 391.55L272.38 391.57L272.83 391.59L273.28 391.60L273.73 391.62L274.17 391.64L274.62 391.66L275.07 391.67L275.52 391.69L275.96 391.71L276.41 391.72L276.86 391.74L277.31 391.75L277.76 391.77L278.20 391.78L278.65 391.80L279.10 391.81L279.55 391.83L279.99 391.84L280.44 391.85L280.89 391.86L281.34 391.88L281.79 391.89L282.23 391.90L282.68 391.91L283.13 391.92L283.58 391.93L284.02 391.94L284.47 391.94L284.92 391.95L285.37 391.96L285.82 391.96L286.26 391.97L286.71 391.97L287.16 391.98L287.61 391.98L288.05 391.99L288.50 391.99L288.95 391.99L289.40 392.00L289.85 392.00L290.29 392.00L290.74 392.01L291.19 392.01L291.64 392.01L292.08 392.01L292.53 392.02L292.98 392.02L293.43 392.02L293.88 392.02L294.32 392.02L294.77 392.03L295.22 392.03L295.67 392.03L296.12 392.03L296.56 392.03L297.01 392.03L297.46 392.03L297.91 392.03L298.35 392.03L298.80 392.04L299.25 392.04L299.70 392.04L300.15 392.04L300.59 392.04L301.04 392.04L301.49 392.04L301.94 392.04L302.38 392.04L302.83 392.03L303.28 392.03L303.73 392.03L304.18 392.03L304.62 392.03L305.07 392.03L305.52 392.03L305.97 392.03L306.41 392.03L306.86 392.02L307.31 392.02L307.76 392.02L308.21 392.02L308.65 392.02L309.10 392.02L309.55 392.01L310.00 392.01L310.44 392.01L310.89 392.01L311.34 392.00L311.79 392.00L312.24 392.00L312.68 392.00L313.13 391.99L313.58 391.99L314.03 391.99L314.47 391.99L314.92 391.98L315.37 391.98L315.82 391.98L316.27 391.97L316.71 391.97L317.16 391.97L317.61 391.96L318.06 391.96L318.51 391.96L318.95 391.95L319.40 391.95L319.85 391.94L320.30 391.94L320.74 391.94L321.19 391.93L321.64 391.93L322.09 391.92L322.54 391.92L322.98 391.92L323.43 391.91L323.88 391.91L324.33 391.90L324.77 391.90L325.22 391.89L325.67 391.89L326.12 391.88L326.57 391.88L327.01 391.87L327.46 391.87L327.91 391.86L328.36 391.86L328.80 391.86L329.25 391.85L329.70 391.85" stroke="#0000ff" stroke-width="1.4" stroke-dasharray="1.4 1.6"/>
<path d="M258.50 364.00L258.95 364.67L259.40 365.33L259.84 365.99L260.29 366.64L260.74 367.27L261.19 367.90L261.63 368.52L262.08 369.12L262.53 369.71L262.98 370.29L263.43 370.85L263.87 371.39L264.32 371.92L264.77 372.42L265.22 372.91L265.66 373.37L266.11 373.82L266.56 374.25L267.01 374.66L267.46 375.05L267.90 375.43L268.35 375.80L268.80 376.15L269.25 376.49L269.69 376.82L270.14 377.13L270.59 377.43L271.04 377.72L271.49 377.99L271.93 378.26L272.38 378.51L272.83 378.76L273.28 379.00L273.73 379.23L274.17 379.45L274.62 379.67L275.07 379.88L275.52 380.09L275.96 380.28L276.41 380.47L276.86 380.66L277.31 380.84L277.76 381.01L278.20 381.17L278.65 381.33L279.10 381.49L279.55 381.63L279.99 381.77L280.44 381.91L280.89 382.04L281.34 382.17L281.79 382.30L282.23 382.42L282.68 382.53L283.13 382.64L283.58 382.75L284.02 382.85L284.47 382.95L284.92 383.05L285.37 383.14L285.82 383.23L286.26 383.31L286.71 383.39L287.16 383.47L287.61 383.54L288.05 383.62L288.50 383.69L288.95 383.75L289.40 383.82L289.85 383.88L290.29 383.95L290.74 384.01L291.19 384.06L291.64 384.12L292.08 384.18L292.53 384.23L292.98 384.28L293.43 384.33L293.88 384.38L294.32 384.43L294.77 384.47L295.22 384.52L295.67 384.56L296.12 384.60L296.56 384.64L297.01 384.68L297.46 384.72L297.91 384.76L298.35 384.80L298.80 384.83L299.25 384.87L299.70 384.90L300.15 384.94L300.59 384.97L301.04 385.00L301.49 385.03L301.94 385.07L302.38 385.10L302.83 385.13L303.28 385.16L303.73 385.19L304.18 385.21L304.62 385.24L305.07 385.27L305.52 385.30L305.97 385.32L306.41 385.35L306.86 385.38L307.31 385.40L307.76 385.43L308.21 385.45L308.65 385.48L309.10 385.50L309.55 385.52L310.00 385.55L310.44 385.57L310.89 385.59L311.34 385.61L311.79 385.64L312.24 385.66L312.68 385.68L313.13 385.70L313.58 385.72L314.03 385.74L314.47 385.76L314.92 385.78L315.37 385.80L315.82 385.82L316.27 385.84L316.71 385.86L317.16 385.88L317.61 385.90L318.06 385.91L318.51 385.93L318.95 385.95L319.40 385.97L319.85 385.99L320.30 386.00L320.74 386.02L321.19 386.04L321.64 386.05L322.09 386.07L322.54 386.09L322.98 386.10L323.43 386.12L323.88 386.14L324.33 386.15L324.77 386.17L325.22 386.18L325.67 386.20L326.12 386.21L326.57 386.23L327.01 386.24L327.46 386.26L327.91 386.27L328.36 386.29L328.80 386.30L329.25 386.32L329.70 386.33" stroke="#ff00ff" stroke-width="1.25" stroke-dasharray="0.8 0.6"/>
</g>
<rect x="258.50" y="340.10" width="71.20" height="59.10" fill="none" stroke="#1a1a1a" stroke-width="0.95"/>
<g font-family='"Liberation Sans", sans-serif' font-size="8.2" fill="#111">
<text x="253.50" y="395.46" text-anchor="end">0</text>
<text x="253.50" y="382.33" text-anchor="end" textLength="15.16" lengthAdjust="spacingAndGlyphs">0.01</text>
<text x="253.50" y="369.20" text-anchor="end" textLength="15.16" lengthAdjust="spacingAndGlyphs">0.02</text>
<text x="253.50" y="356.06" text-anchor="end" textLength="15.16" lengthAdjust="spacingAndGlyphs">0.03</text>
<text x="253.50" y="342.93" text-anchor="end" textLength="15.16" lengthAdjust="spacingAndGlyphs">0.04</text>
<text x="259.30" y="409.75" text-anchor="middle">0</text>
<text x="273.54" y="409.75" text-anchor="middle">1</text>
<text x="287.78" y="409.75" text-anchor="middle">2</text>
<text x="302.02" y="409.75" text-anchor="middle">3</text>
<text x="316.26" y="409.75" text-anchor="middle">4</text>
<text x="330.50" y="409.75" text-anchor="middle">5</text>
</g>
<text x="288.00" y="336.80" text-anchor="middle" font-family='"Liberation Serif", serif' font-size="11.4" fill="#2a2a2a" textLength="47.2" lengthAdjust="spacingAndGlyphs">wall-zoom</text>
<rect x="105.20" y="304.50" width="26.80" height="23.20" fill="#fff" stroke="#1a1a1a" stroke-width="1.05"/>
<text x="109.10" y="318.20" font-family='"Liberation Serif", serif' font-size="11.8" fill="#3a3a3a" font-style="italic" textLength="4.8" lengthAdjust="spacingAndGlyphs">ε</text>
<path d="M115.30 311.90h5.80M118.20 309.00v5.80" stroke="#3a3a3a" stroke-width="0.62" fill="none"/>
<text x="114.40" y="321.30" font-family='"Liberation Serif", serif' font-size="8.4" fill="#3a3a3a" font-style="italic" textLength="4.4" lengthAdjust="spacingAndGlyphs">ε</text>
<text x="119.40" y="322.10" font-family='"Liberation Serif", serif' font-size="6.6" fill="#3a3a3a" font-style="italic" textLength="6.2" lengthAdjust="spacingAndGlyphs">ij</text>
<text x="268.20" y="466.00" font-family='"Liberation Serif", serif' font-size="13.5" font-style="italic" fill="#2a2a2a" textLength="6.6" lengthAdjust="spacingAndGlyphs">y</text>
<path d="M275.40 459.60h5.6M278.20 456.80v5.6" stroke="#2a2a2a" stroke-width="0.62" fill="none"/>
<path d="M281.50 463.60H301.20" stroke="#111" stroke-width="1.1" fill="none"/>
<path d="M304.20 463.60l-5 -1.45v2.9z" fill="#111"/>
<!-- panel 4 -->
<path d="M367.00 437.56H611.40" stroke="#8a8a8a" stroke-width="0.8" stroke-dasharray="1 1" fill="none"/>
<path d="M389.06 473.20v-2.30M389.06 295.00v2.30M402.11 473.20v-2.30M402.11 295.00v2.30M411.37 473.20v-2.30M411.37 295.00v2.30M418.55 473.20v-2.30M418.55 295.00v2.30M424.42 473.20v-2.30M424.42 295.00v2.30M429.38 473.20v-2.30M429.38 295.00v2.30M433.68 473.20v-2.30M433.68 295.00v2.30M437.47 473.20v-2.30M437.47 295.00v2.30M440.86 473.20v-4.50M440.86 295.00v4.50M463.17 473.20v-2.30M463.17 295.00v2.30M476.22 473.20v-2.30M476.22 295.00v2.30M485.48 473.20v-2.30M485.48 295.00v2.30M492.67 473.20v-2.30M492.67 295.00v2.30M498.53 473.20v-2.30M498.53 295.00v2.30M503.50 473.20v-2.30M503.50 295.00v2.30M507.79 473.20v-2.30M507.79 295.00v2.30M511.59 473.20v-2.30M511.59 295.00v2.30M514.98 473.20v-4.50M514.98 295.00v4.50M537.29 473.20v-2.30M537.29 295.00v2.30M550.34 473.20v-2.30M550.34 295.00v2.30M559.60 473.20v-2.30M559.60 295.00v2.30M566.78 473.20v-2.30M566.78 295.00v2.30M572.65 473.20v-2.30M572.65 295.00v2.30M577.61 473.20v-2.30M577.61 295.00v2.30M581.91 473.20v-2.30M581.91 295.00v2.30M585.70 473.20v-2.30M585.70 295.00v2.30M589.09 473.20v-4.50M589.09 295.00v4.50M366.75 437.56h4.50M611.40 437.56h-4.50M366.75 366.28h4.50M611.40 366.28h-4.50" stroke="#1a1a1a" stroke-width="1.0" fill="none"/>
<g fill="none" stroke-linejoin="round" clip-path="url(#c4)">
<path d="M366.75 420.95L367.80 421.21L368.85 421.47L369.90 421.73L370.95 421.98L372.00 422.24L373.05 422.49L374.10 422.75L375.15 423.00L376.20 423.26L377.25 423.51L378.30 423.76L379.35 424.01L380.40 424.27L381.45 424.52L382.50 424.76L383.55 425.01L384.60 425.26L385.65 425.51L386.70 425.75L387.75 426.00L388.80 426.24L389.85 426.48L390.90 426.72L391.95 426.96L393.00 427.20L394.05 427.44L395.10 427.67L396.15 427.91L397.20 428.15L398.25 428.39L399.30 428.63L400.35 428.87L401.40 429.12L402.45 429.37L403.50 429.61L404.55 429.85L405.60 430.06L406.65 430.26L407.70 430.44L408.75 430.61L409.80 430.76L410.85 430.90L411.90 431.02L412.95 431.13L414.00 431.21L415.05 431.28L416.10 431.32L417.15 431.35L418.20 431.37L419.26 431.37L420.31 431.35L421.36 431.29L422.41 431.20L423.46 431.09L424.51 430.94L425.56 430.78L426.61 430.60L427.66 430.37L428.71 430.12L429.76 429.85L430.81 429.55L431.86 429.24L432.91 428.93L433.96 428.61L435.01 428.29L436.06 427.98L437.11 427.68L438.16 427.40L439.21 427.13L440.26 426.88L441.31 426.63L442.36 426.39L443.41 426.16L444.46 425.94L445.51 425.72L446.56 425.52L447.61 425.34L448.66 425.16L449.71 424.99L450.76 424.84L451.81 424.69L452.86 424.55L453.91 424.42L454.96 424.29L456.01 424.17L457.06 424.07L458.11 423.98L459.16 423.90L460.21 423.84L461.26 423.80L462.31 423.78L463.36 423.76L464.41 423.76L465.46 423.77L466.51 423.79L467.56 423.82L468.61 423.87L469.66 423.93L470.71 424.01L471.76 424.13L472.81 424.29L473.86 424.47L474.91 424.67L475.96 424.89L477.01 425.12L478.06 425.38L479.11 425.67L480.16 425.97L481.21 426.28L482.26 426.60L483.31 426.93L484.36 427.25L485.41 427.56L486.46 427.86L487.51 428.17L488.56 428.46L489.61 428.76L490.66 429.05L491.71 429.33L492.76 429.60L493.81 429.87L494.86 430.14L495.91 430.40L496.96 430.66L498.01 430.91L499.06 431.17L500.11 431.41L501.16 431.65L502.21 431.89L503.26 432.13L504.31 432.35L505.36 432.58L506.41 432.79L507.46 433.00L508.51 433.21L509.56 433.41L510.61 433.61L511.66 433.80L512.71 433.98L513.76 434.16L514.81 434.33L515.86 434.49L516.91 434.65L517.96 434.81L519.01 434.96L520.06 435.11L521.11 435.25L522.17 435.38L523.22 435.51L524.27 435.63L525.32 435.74L526.37 435.85L527.42 435.94L528.47 436.03L529.52 436.10L530.57 436.17L531.62 436.24L532.67 436.29L533.72 436.35" stroke="#ff0000" stroke-width="1.6"/>
<path d="M366.75 437.56L390.60 437.56L414.45 437.56L438.31 437.56L462.16 437.56L486.01 437.56L509.86 437.56L533.72 437.56" stroke="#00ff00" stroke-width="1.7" stroke-dasharray="2.7 1.4"/>
<path d="M366.75 437.35L367.80 437.31L368.85 437.27L369.90 437.23L370.95 437.18L372.00 437.12L373.05 437.07L374.10 437.00L375.15 436.94L376.20 436.87L377.25 436.79L378.30 436.71L379.35 436.63L380.40 436.54L381.45 436.45L382.50 436.35L383.55 436.25L384.60 436.14L385.65 436.03L386.70 435.91L387.75 435.79L388.80 435.67L389.85 435.53L390.90 435.39L391.95 435.24L393.00 435.07L394.05 434.89L395.10 434.71L396.15 434.51L397.20 434.30L398.25 434.07L399.30 433.84L400.35 433.60L401.40 433.34L402.45 433.07L403.50 432.78L404.55 432.48L405.60 432.15L406.65 431.81L407.70 431.45L408.75 431.07L409.80 430.67L410.85 430.25L411.90 429.81L412.95 429.36L414.00 428.88L415.05 428.36L416.10 427.83L417.15 427.27L418.20 426.70L419.26 426.12L420.31 425.53L421.36 424.92L422.41 424.31L423.46 423.68L424.51 423.06L425.56 422.43L426.61 421.81L427.66 421.18L428.71 420.55L429.76 419.92L430.81 419.30L431.86 418.70L432.91 418.10L433.96 417.51L435.01 416.93L436.06 416.36L437.11 415.82L438.16 415.31L439.21 414.82L440.26 414.36L441.31 413.92L442.36 413.51L443.41 413.14L444.46 412.81L445.51 412.53L446.56 412.27L447.61 412.05L448.66 411.84L449.71 411.67L450.76 411.51L451.81 411.36L452.86 411.24L453.91 411.15L454.96 411.12L456.01 411.16L457.06 411.27L458.11 411.43L459.16 411.63L460.21 411.87L461.26 412.12L462.31 412.40L463.36 412.72L464.41 413.06L465.46 413.44L466.51 413.84L467.56 414.28L468.61 414.74L469.66 415.22L470.71 415.73L471.76 416.28L472.81 416.87L473.86 417.48L474.91 418.10L475.96 418.73L477.01 419.36L478.06 419.99L479.11 420.64L480.16 421.28L481.21 421.93L482.26 422.58L483.31 423.22L484.36 423.85L485.41 424.47L486.46 425.09L487.51 425.70L488.56 426.29L489.61 426.88L490.66 427.44L491.71 427.98L492.76 428.48L493.81 428.96L494.86 429.41L495.91 429.84L496.96 430.24L498.01 430.61L499.06 430.96L500.11 431.28L501.16 431.58L502.21 431.87L503.26 432.14L504.31 432.39L505.36 432.63L506.41 432.86L507.46 433.08L508.51 433.28L509.56 433.47L510.61 433.66L511.66 433.83L512.71 434.00L513.76 434.17L514.81 434.33L515.86 434.49L516.91 434.64L517.96 434.80L519.01 434.95L520.06 435.09L521.11 435.24L522.17 435.37L523.22 435.50L524.27 435.62L525.32 435.74L526.37 435.84L527.42 435.94L528.47 436.03L529.52 436.10L530.57 436.17L531.62 436.24L532.67 436.29L533.72 436.35" stroke="#0000ff" stroke-width="1.7" stroke-dasharray="1.7 1.7"/>
<path d="M366.75 342.04L367.80 342.06L368.85 342.08L369.90 342.11L370.95 342.14L372.00 342.18L373.05 342.23L374.10 342.28L375.15 342.35L376.20 342.42L377.25 342.51L378.30 342.60L379.35 342.71L380.40 342.83L381.45 342.97L382.50 343.13L383.55 343.31L384.60 343.52L385.65 343.73L386.70 343.97L387.75 344.21L388.80 344.47L389.85 344.75L390.90 345.04L391.95 345.36L393.00 345.71L394.05 346.09L395.10 346.52L396.15 346.98L397.20 347.49L398.25 348.05L399.30 348.66L400.35 349.33L401.40 350.10L402.45 350.96L403.50 351.90L404.55 352.90L405.60 353.96L406.65 355.05L407.70 356.19L408.75 357.39L409.80 358.65L410.85 359.94L411.90 361.28L412.95 362.65L414.00 364.06L415.05 365.52L416.10 367.01L417.15 368.51L418.20 370.02L419.26 371.52L420.31 373.03L421.36 374.54L422.41 376.04L423.46 377.51L424.51 378.93L425.56 380.29L426.61 381.59L427.66 382.84L428.71 384.04L429.76 385.17L430.81 386.23L431.86 387.20L432.91 388.08L433.96 388.90L435.01 389.66L436.06 390.37L437.11 391.03L438.16 391.65L439.21 392.24L440.26 392.80L441.31 393.33L442.36 393.85L443.41 394.35L444.46 394.84L445.51 395.33L446.56 395.81L447.61 396.30L448.66 396.80L449.71 397.34L450.76 397.92L451.81 398.56L452.86 399.26L453.91 400.00L454.96 400.77L456.01 401.55L457.06 402.32L458.11 403.07L459.16 403.81L460.21 404.53L461.26 405.25L462.31 405.98L463.36 406.70L464.41 407.43L465.46 408.17L466.51 408.92L467.56 409.68L468.61 410.47L469.66 411.30L470.71 412.16L471.76 413.07L472.81 414.00L473.86 414.94L474.91 415.88L475.96 416.80L477.01 417.70L478.06 418.59L479.11 419.45L480.16 420.30L481.21 421.13L482.26 421.94L483.31 422.72L484.36 423.47L485.41 424.18L486.46 424.87L487.51 425.53L488.56 426.16L489.61 426.77L490.66 427.34L491.71 427.89L492.76 428.41L493.81 428.91L494.86 429.38L495.91 429.82L496.96 430.23L498.01 430.61L499.06 430.96L500.11 431.28L501.16 431.58L502.21 431.85L503.26 432.11L504.31 432.35L505.36 432.58L506.41 432.80L507.46 433.01L508.51 433.21L509.56 433.40L510.61 433.58L511.66 433.76L512.71 433.93L513.76 434.10L514.81 434.26L515.86 434.41L516.91 434.57L517.96 434.72L519.01 434.87L520.06 435.01L521.11 435.15L522.17 435.29L523.22 435.41L524.27 435.54L525.32 435.65L526.37 435.76L527.42 435.86L528.47 435.96L529.52 436.05L530.57 436.13L531.62 436.21L532.67 436.28L533.72 436.35" stroke="#ff00ff" stroke-width="1.35" stroke-dasharray="1.1 0.9"/>
</g>
<rect x="366.75" y="295.00" width="244.65" height="178.20" fill="none" stroke="#1a1a1a" stroke-width="1.1"/>
<g font-family='"Liberation Sans", sans-serif' font-size="9.8" fill="#111">
<text x="360.75" y="440.94" text-anchor="end">0</text>
<text x="360.75" y="369.66" text-anchor="end">0.1</text>
<text x="360.75" y="298.38" text-anchor="end">0.2</text>
<text x="368.05" y="486.33" text-anchor="middle">1</text>
<text x="442.16" y="486.33" text-anchor="middle">10</text>
<text x="516.28" y="486.33" text-anchor="middle">100</text>
<text x="590.39" y="486.33" text-anchor="middle">1000</text>
</g>
<rect x="527.00" y="340.10" width="74.90" height="59.10" fill="#fff"/>
<path d="M541.98 399.20v-3.2M541.98 340.10v3.2M556.96 399.20v-3.2M556.96 340.10v3.2M571.94 399.20v-3.2M571.94 340.10v3.2M586.92 399.20v-3.2M586.92 340.10v3.2M527.00 387.38h3.20M601.90 387.38h-3.20M527.00 363.74h3.20M601.90 363.74h-3.20" stroke="#1a1a1a" stroke-width="0.85" fill="none"/>
<g fill="none" stroke-linejoin="round" clip-path="url(#i4)">
<path d="M527.00 378.80L527.47 378.93L527.94 379.06L528.41 379.19L528.88 379.32L529.36 379.45L529.83 379.58L530.30 379.70L530.77 379.83L531.24 379.96L531.71 380.08L532.18 380.20L532.65 380.33L533.12 380.45L533.59 380.57L534.07 380.68L534.54 380.80L535.01 380.92L535.48 381.03L535.95 381.14L536.42 381.25L536.89 381.36L537.36 381.47L537.83 381.58L538.31 381.68L538.78 381.78L539.25 381.88L539.72 381.98L540.19 382.07L540.66 382.17L541.13 382.26L541.60 382.35L542.07 382.43L542.55 382.52L543.02 382.60L543.49 382.68L543.96 382.76L544.43 382.84L544.90 382.91L545.37 382.99L545.84 383.06L546.31 383.13L546.78 383.20L547.26 383.27L547.73 383.33L548.20 383.40L548.67 383.46L549.14 383.52L549.61 383.58L550.08 383.64L550.55 383.70L551.02 383.76L551.50 383.81L551.97 383.87L552.44 383.92L552.91 383.97L553.38 384.02L553.85 384.07L554.32 384.12L554.79 384.17L555.26 384.22L555.74 384.26L556.21 384.31L556.68 384.35L557.15 384.39L557.62 384.44L558.09 384.48L558.56 384.52L559.03 384.56L559.50 384.60L559.97 384.64L560.45 384.68L560.92 384.72L561.39 384.76L561.86 384.80L562.33 384.84L562.80 384.87L563.27 384.91L563.74 384.95L564.21 384.98L564.69 385.01L565.16 385.05L565.63 385.08L566.10 385.11L566.57 385.14L567.04 385.17L567.51 385.19L567.98 385.22L568.45 385.25L568.93 385.27L569.40 385.29L569.87 385.31L570.34 385.34L570.81 385.35L571.28 385.37L571.75 385.39L572.22 385.40L572.69 385.42L573.16 385.43L573.64 385.44L574.11 385.46L574.58 385.47L575.05 385.48L575.52 385.49L575.99 385.50L576.46 385.51L576.93 385.52L577.40 385.53L577.88 385.53L578.35 385.54L578.82 385.55L579.29 385.55L579.76 385.56L580.23 385.56L580.70 385.57L581.17 385.57L581.64 385.58L582.12 385.58L582.59 385.58L583.06 385.58L583.53 385.58L584.00 385.59L584.47 385.59L584.94 385.59L585.41 385.59L585.88 385.59L586.35 385.59L586.83 385.58L587.30 385.58L587.77 385.58L588.24 385.58L588.71 385.57L589.18 385.57L589.65 385.57L590.12 385.57L590.59 385.56L591.07 385.56L591.54 385.55L592.01 385.55L592.48 385.54L592.95 385.54L593.42 385.53L593.89 385.53L594.36 385.52L594.83 385.51L595.31 385.51L595.78 385.50L596.25 385.49L596.72 385.49L597.19 385.48L597.66 385.47L598.13 385.46L598.60 385.46L599.07 385.45L599.54 385.44L600.02 385.43L600.49 385.42L600.96 385.41L601.43 385.40L601.90 385.39" stroke="#ff0000" stroke-width="1.4"/>
<path d="M527.00 387.38L537.70 387.38L548.40 387.38L559.10 387.38L569.80 387.38L580.50 387.38L591.20 387.38L601.90 387.38" stroke="#00ff00" stroke-width="1.4" stroke-dasharray="2.2 1.1"/>
<path d="M527.00 387.38L527.47 387.38L527.94 387.38L528.41 387.38L528.88 387.38L529.36 387.37L529.83 387.37L530.30 387.37L530.77 387.37L531.24 387.37L531.71 387.36L532.18 387.36L532.65 387.36L533.12 387.35L533.59 387.35L534.07 387.35L534.54 387.35L535.01 387.34L535.48 387.34L535.95 387.33L536.42 387.33L536.89 387.32L537.36 387.32L537.83 387.32L538.31 387.31L538.78 387.30L539.25 387.30L539.72 387.29L540.19 387.29L540.66 387.28L541.13 387.27L541.60 387.27L542.07 387.26L542.55 387.25L543.02 387.24L543.49 387.24L543.96 387.23L544.43 387.22L544.90 387.21L545.37 387.20L545.84 387.18L546.31 387.17L546.78 387.16L547.26 387.15L547.73 387.13L548.20 387.12L548.67 387.11L549.14 387.09L549.61 387.08L550.08 387.06L550.55 387.04L551.02 387.03L551.50 387.01L551.97 386.99L552.44 386.98L552.91 386.96L553.38 386.94L553.85 386.92L554.32 386.90L554.79 386.88L555.26 386.86L555.74 386.84L556.21 386.82L556.68 386.80L557.15 386.78L557.62 386.76L558.09 386.74L558.56 386.71L559.03 386.69L559.50 386.67L559.97 386.64L560.45 386.62L560.92 386.59L561.39 386.57L561.86 386.54L562.33 386.51L562.80 386.49L563.27 386.46L563.74 386.43L564.21 386.40L564.69 386.38L565.16 386.35L565.63 386.32L566.10 386.29L566.57 386.27L567.04 386.24L567.51 386.21L567.98 386.18L568.45 386.16L568.93 386.13L569.40 386.10L569.87 386.08L570.34 386.05L570.81 386.02L571.28 386.00L571.75 385.97L572.22 385.95L572.69 385.92L573.16 385.90L573.64 385.87L574.11 385.85L574.58 385.83L575.05 385.80L575.52 385.78L575.99 385.76L576.46 385.73L576.93 385.71L577.40 385.69L577.88 385.67L578.35 385.64L578.82 385.62L579.29 385.60L579.76 385.57L580.23 385.55L580.70 385.53L581.17 385.50L581.64 385.48L582.12 385.46L582.59 385.43L583.06 385.41L583.53 385.38L584.00 385.35L584.47 385.33L584.94 385.30L585.41 385.27L585.88 385.25L586.35 385.22L586.83 385.19L587.30 385.16L587.77 385.13L588.24 385.10L588.71 385.06L589.18 385.03L589.65 385.00L590.12 384.97L590.59 384.93L591.07 384.90L591.54 384.86L592.01 384.83L592.48 384.79L592.95 384.75L593.42 384.72L593.89 384.68L594.36 384.64L594.83 384.60L595.31 384.57L595.78 384.53L596.25 384.49L596.72 384.45L597.19 384.41L597.66 384.37L598.13 384.33L598.60 384.29L599.07 384.25L599.54 384.21L600.02 384.17L600.49 384.12L600.96 384.08L601.43 384.04L601.90 384.00" stroke="#0000ff" stroke-width="1.4" stroke-dasharray="1.4 1.6"/>
<path d="M527.00 355.06L527.47 355.08L527.94 355.09L528.41 355.11L528.88 355.13L529.36 355.14L529.83 355.16L530.30 355.17L530.77 355.19L531.24 355.21L531.71 355.23L532.18 355.24L532.65 355.26L533.12 355.28L533.59 355.30L534.07 355.32L534.54 355.34L535.01 355.36L535.48 355.38L535.95 355.40L536.42 355.42L536.89 355.44L537.36 355.47L537.83 355.49L538.31 355.51L538.78 355.53L539.25 355.56L539.72 355.58L540.19 355.61L540.66 355.63L541.13 355.66L541.60 355.68L542.07 355.71L542.55 355.73L543.02 355.76L543.49 355.79L543.96 355.82L544.43 355.85L544.90 355.88L545.37 355.91L545.84 355.94L546.31 355.97L546.78 356.01L547.26 356.04L547.73 356.07L548.20 356.11L548.67 356.14L549.14 356.18L549.61 356.22L550.08 356.26L550.55 356.29L551.02 356.33L551.50 356.37L551.97 356.41L552.44 356.45L552.91 356.50L553.38 356.54L553.85 356.58L554.32 356.63L554.79 356.67L555.26 356.72L555.74 356.76L556.21 356.81L556.68 356.86L557.15 356.90L557.62 356.95L558.09 357.00L558.56 357.05L559.03 357.11L559.50 357.16L559.97 357.21L560.45 357.27L560.92 357.33L561.39 357.38L561.86 357.44L562.33 357.50L562.80 357.56L563.27 357.62L563.74 357.68L564.21 357.74L564.69 357.80L565.16 357.87L565.63 357.93L566.10 358.00L566.57 358.06L567.04 358.13L567.51 358.19L567.98 358.26L568.45 358.33L568.93 358.40L569.40 358.47L569.87 358.54L570.34 358.61L570.81 358.68L571.28 358.75L571.75 358.82L572.22 358.89L572.69 358.96L573.16 359.03L573.64 359.11L574.11 359.18L574.58 359.26L575.05 359.33L575.52 359.41L575.99 359.49L576.46 359.57L576.93 359.64L577.40 359.72L577.88 359.80L578.35 359.88L578.82 359.96L579.29 360.04L579.76 360.12L580.23 360.20L580.70 360.29L581.17 360.37L581.64 360.45L582.12 360.53L582.59 360.61L583.06 360.70L583.53 360.78L584.00 360.86L584.47 360.95L584.94 361.03L585.41 361.11L585.88 361.19L586.35 361.28L586.83 361.36L587.30 361.44L587.77 361.53L588.24 361.61L588.71 361.69L589.18 361.77L589.65 361.86L590.12 361.94L590.59 362.02L591.07 362.11L591.54 362.19L592.01 362.27L592.48 362.36L592.95 362.44L593.42 362.53L593.89 362.61L594.36 362.69L594.83 362.78L595.31 362.86L595.78 362.95L596.25 363.03L596.72 363.12L597.19 363.20L597.66 363.28L598.13 363.37L598.60 363.45L599.07 363.54L599.54 363.62L600.02 363.71L600.49 363.79L600.96 363.88L601.43 363.96L601.90 364.05" stroke="#ff00ff" stroke-width="1.25" stroke-dasharray="0.8 0.6"/>
</g>
<rect x="527.00" y="340.10" width="74.90" height="59.10" fill="none" stroke="#1a1a1a" stroke-width="0.95"/>
<g font-family='"Liberation Sans", sans-serif' font-size="8.2" fill="#111">
<text x="522.00" y="390.21" text-anchor="end">0</text>
<text x="522.00" y="366.57" text-anchor="end" textLength="10.83" lengthAdjust="spacingAndGlyphs">0.1</text>
<text x="522.00" y="342.93" text-anchor="end" textLength="10.83" lengthAdjust="spacingAndGlyphs">0.2</text>
<text x="527.80" y="409.75" text-anchor="middle">0</text>
<text x="542.78" y="409.75" text-anchor="middle">1</text>
<text x="557.76" y="409.75" text-anchor="middle">2</text>
<text x="572.74" y="409.75" text-anchor="middle">3</text>
<text x="587.72" y="409.75" text-anchor="middle">4</text>
<text x="602.70" y="409.75" text-anchor="middle">5</text>
</g>
<text x="560.50" y="336.80" text-anchor="middle" font-family='"Liberation Serif", serif' font-size="11.4" fill="#2a2a2a" textLength="47.2" lengthAdjust="spacingAndGlyphs">wall-zoom</text>
<rect x="376.50" y="303.90" width="23.00" height="23.60" fill="#fff" stroke="#1a1a1a" stroke-width="1.05"/>
<text x="380.90" y="318.10" font-family='"Liberation Serif", serif' font-size="11.8" fill="#3a3a3a" font-style="italic" textLength="5.0" lengthAdjust="spacingAndGlyphs">ζ</text>
<path d="M387.20 310.50h5.80M390.10 307.60v5.80" stroke="#3a3a3a" stroke-width="0.62" fill="none"/>
<text x="386.70" y="321.70" font-family='"Liberation Serif", serif' font-size="8.4" fill="#3a3a3a" font-style="italic" textLength="7.0" lengthAdjust="spacingAndGlyphs">ij</text>
<text x="529.40" y="466.00" font-family='"Liberation Serif", serif' font-size="13.5" font-style="italic" fill="#2a2a2a" textLength="6.6" lengthAdjust="spacingAndGlyphs">y</text>
<path d="M536.60 459.60h5.6M539.40 456.80v5.6" stroke="#2a2a2a" stroke-width="0.62" fill="none"/>
<path d="M542.60 463.60H562.40" stroke="#111" stroke-width="1.1" fill="none"/>
<path d="M565.40 463.60l-5 -1.45v2.9z" fill="#111"/>
<!-- panel 5 -->
<path d="M101.00 645.21H338.60" stroke="#8a8a8a" stroke-width="0.8" stroke-dasharray="1 1" fill="none"/>
<path d="M121.99 668.40v-2.30M121.99 490.60v2.30M134.70 668.40v-2.30M134.70 490.60v2.30M143.72 668.40v-2.30M143.72 490.60v2.30M150.72 668.40v-2.30M150.72 490.60v2.30M156.44 668.40v-2.30M156.44 490.60v2.30M161.27 668.40v-2.30M161.27 490.60v2.30M165.46 668.40v-2.30M165.46 490.60v2.30M169.15 668.40v-2.30M169.15 490.60v2.30M172.45 668.40v-4.50M172.45 490.60v4.50M194.19 668.40v-2.30M194.19 490.60v2.30M206.91 668.40v-2.30M206.91 490.60v2.30M215.93 668.40v-2.30M215.93 490.60v2.30M222.92 668.40v-2.30M222.92 490.60v2.30M228.64 668.40v-2.30M228.64 490.60v2.30M233.47 668.40v-2.30M233.47 490.60v2.30M237.66 668.40v-2.30M237.66 490.60v2.30M241.36 668.40v-2.30M241.36 490.60v2.30M244.66 668.40v-4.50M244.66 490.60v4.50M266.40 668.40v-2.30M266.40 490.60v2.30M279.11 668.40v-2.30M279.11 490.60v2.30M288.13 668.40v-2.30M288.13 490.60v2.30M295.13 668.40v-2.30M295.13 490.60v2.30M300.85 668.40v-2.30M300.85 490.60v2.30M305.68 668.40v-2.30M305.68 490.60v2.30M309.87 668.40v-2.30M309.87 490.60v2.30M313.56 668.40v-2.30M313.56 490.60v2.30M316.86 668.40v-4.50M316.86 490.60v4.50M100.25 645.21h4.50M338.60 645.21h-4.50M100.25 614.29h4.50M338.60 614.29h-4.50M100.25 583.37h4.50M338.60 583.37h-4.50M100.25 552.44h4.50M338.60 552.44h-4.50M100.25 521.52h4.50M338.60 521.52h-4.50" stroke="#1a1a1a" stroke-width="1.0" fill="none"/>
<g fill="none" stroke-linejoin="round" clip-path="url(#c5)">
<path d="M100.25 607.33L101.27 608.02L102.30 608.69L103.32 609.37L104.34 610.03L105.37 610.69L106.39 611.33L107.41 611.97L108.43 612.60L109.46 613.21L110.48 613.81L111.50 614.40L112.53 614.97L113.55 615.53L114.57 616.08L115.60 616.61L116.62 617.13L117.64 617.63L118.67 618.11L119.69 618.58L120.71 619.02L121.73 619.44L122.76 619.84L123.78 620.23L124.80 620.60L125.83 620.95L126.85 621.30L127.87 621.62L128.90 621.94L129.92 622.25L130.94 622.54L131.96 622.83L132.99 623.11L134.01 623.38L135.03 623.65L136.06 623.91L137.08 624.16L138.10 624.41L139.13 624.65L140.15 624.88L141.17 625.09L142.20 625.30L143.22 625.49L144.24 625.66L145.26 625.82L146.29 625.97L147.31 626.11L148.33 626.24L149.36 626.36L150.38 626.47L151.40 626.57L152.43 626.66L153.45 626.75L154.47 626.84L155.50 626.91L156.52 626.99L157.54 627.06L158.56 627.12L159.59 627.18L160.61 627.24L161.63 627.29L162.66 627.34L163.68 627.38L164.70 627.43L165.73 627.46L166.75 627.50L167.77 627.54L168.80 627.58L169.82 627.62L170.84 627.66L171.86 627.71L172.89 627.76L173.91 627.82L174.93 627.88L175.96 627.96L176.98 628.06L178.00 628.18L179.03 628.33L180.05 628.51L181.07 628.72L182.09 628.96L183.12 629.21L184.14 629.48L185.16 629.75L186.19 630.02L187.21 630.30L188.23 630.60L189.26 630.89L190.28 631.20L191.30 631.50L192.33 631.81L193.35 632.12L194.37 632.43L195.39 632.74L196.42 633.05L197.44 633.36L198.46 633.68L199.49 633.99L200.51 634.31L201.53 634.62L202.56 634.93L203.58 635.24L204.60 635.55L205.63 635.86L206.65 636.17L207.67 636.47L208.69 636.77L209.72 637.07L210.74 637.38L211.76 637.68L212.79 637.98L213.81 638.27L214.83 638.56L215.86 638.84L216.88 639.12L217.90 639.39L218.93 639.65L219.95 639.90L220.97 640.14L221.99 640.37L223.02 640.59L224.04 640.80L225.06 641.00L226.09 641.19L227.11 641.38L228.13 641.56L229.16 641.73L230.18 641.90L231.20 642.06L232.22 642.21L233.25 642.36L234.27 642.51L235.29 642.64L236.32 642.77L237.34 642.90L238.36 643.02L239.39 643.14L240.41 643.25L241.43 643.36L242.46 643.46L243.48 643.56L244.50 643.65L245.52 643.74L246.55 643.83L247.57 643.91L248.59 643.99L249.62 644.07L250.64 644.15L251.66 644.22L252.69 644.30L253.71 644.37L254.73 644.44L255.76 644.50L256.78 644.56L257.80 644.63L258.82 644.68L259.85 644.74L260.87 644.80L261.89 644.85L262.92 644.90" stroke="#ff0000" stroke-width="1.6"/>
<path d="M100.25 645.21L123.49 645.21L146.73 645.21L169.96 645.21L193.20 645.21L216.44 645.21L239.68 645.21L262.92 645.21" stroke="#00ff00" stroke-width="1.7" stroke-dasharray="2.7 1.4"/>
<path d="M100.25 634.39L101.27 634.39L102.30 634.38L103.32 634.38L104.34 634.38L105.37 634.38L106.39 634.38L107.41 634.37L108.43 634.37L109.46 634.36L110.48 634.36L111.50 634.35L112.53 634.34L113.55 634.34L114.57 634.33L115.60 634.32L116.62 634.31L117.64 634.29L118.67 634.28L119.69 634.27L120.71 634.25L121.73 634.24L122.76 634.22L123.78 634.20L124.80 634.17L125.83 634.14L126.85 634.11L127.87 634.08L128.90 634.04L129.92 634.00L130.94 633.96L131.96 633.91L132.99 633.86L134.01 633.81L135.03 633.75L136.06 633.69L137.08 633.62L138.10 633.54L139.13 633.46L140.15 633.38L141.17 633.28L142.20 633.18L143.22 633.07L144.24 632.96L145.26 632.84L146.29 632.71L147.31 632.57L148.33 632.43L149.36 632.28L150.38 632.12L151.40 631.95L152.43 631.77L153.45 631.58L154.47 631.37L155.50 631.15L156.52 630.92L157.54 630.68L158.56 630.43L159.59 630.18L160.61 629.92L161.63 629.65L162.66 629.38L163.68 629.09L164.70 628.80L165.73 628.51L166.75 628.21L167.77 627.92L168.80 627.62L169.82 627.34L170.84 627.06L171.86 626.80L172.89 626.55L173.91 626.31L174.93 626.08L175.96 625.86L176.98 625.64L178.00 625.44L179.03 625.23L180.05 625.04L181.07 624.86L182.09 624.68L183.12 624.51L184.14 624.34L185.16 624.18L186.19 624.03L187.21 623.88L188.23 623.77L189.26 623.71L190.28 623.72L191.30 623.78L192.33 623.89L193.35 624.04L194.37 624.22L195.39 624.45L196.42 624.74L197.44 625.08L198.46 625.47L199.49 625.90L200.51 626.36L201.53 626.86L202.56 627.38L203.58 627.92L204.60 628.48L205.63 629.04L206.65 629.61L207.67 630.18L208.69 630.77L209.72 631.38L210.74 632.00L211.76 632.62L212.79 633.23L213.81 633.83L214.83 634.41L215.86 634.97L216.88 635.50L217.90 636.01L218.93 636.50L219.95 636.97L220.97 637.43L221.99 637.87L223.02 638.29L224.04 638.70L225.06 639.10L226.09 639.49L227.11 639.86L228.13 640.22L229.16 640.57L230.18 640.90L231.20 641.20L232.22 641.49L233.25 641.75L234.27 641.99L235.29 642.22L236.32 642.43L237.34 642.62L238.36 642.81L239.39 642.98L240.41 643.13L241.43 643.28L242.46 643.41L243.48 643.53L244.50 643.65L245.52 643.75L246.55 643.85L247.57 643.95L248.59 644.04L249.62 644.13L250.64 644.21L251.66 644.29L252.69 644.37L253.71 644.44L254.73 644.51L255.76 644.57L256.78 644.63L257.80 644.69L258.82 644.74L259.85 644.78L260.87 644.83L261.89 644.86L262.92 644.90" stroke="#0000ff" stroke-width="1.7" stroke-dasharray="1.7 1.7"/>
<path d="M100.25 599.91L101.27 599.43L102.30 598.92L103.32 598.39L104.34 597.83L105.37 597.23L106.39 596.60L107.41 595.93L108.43 595.21L109.46 594.44L110.48 593.62L111.50 592.74L112.53 591.82L113.55 590.84L114.57 589.81L115.60 588.73L116.62 587.58L117.64 586.36L118.67 585.07L119.69 583.69L120.71 582.23L121.73 580.67L122.76 579.00L123.78 577.19L124.80 575.26L125.83 573.21L126.85 571.07L127.87 568.85L128.90 566.56L129.92 564.18L130.94 561.70L131.96 559.17L132.99 556.62L134.01 554.10L135.03 551.65L136.06 549.25L137.08 546.87L138.10 544.55L139.13 542.27L140.15 540.07L141.17 537.96L142.20 535.93L143.22 534.02L144.24 532.21L145.26 530.48L146.29 528.83L147.31 527.29L148.33 525.88L149.36 524.62L150.38 523.54L151.40 522.62L152.43 521.86L153.45 521.41L154.47 521.36L155.50 521.59L156.52 522.03L157.54 522.73L158.56 523.75L159.59 525.05L160.61 526.60L161.63 528.37L162.66 530.49L163.68 532.88L164.70 535.41L165.73 537.96L166.75 540.51L167.77 543.10L168.80 545.73L169.82 548.41L170.84 551.13L171.86 553.91L172.89 556.75L173.91 559.68L174.93 562.67L175.96 565.64L176.98 568.55L178.00 571.33L179.03 573.95L180.05 576.45L181.07 578.85L182.09 581.15L183.12 583.39L184.14 585.56L185.16 587.68L186.19 589.78L187.21 591.85L188.23 593.88L189.26 595.87L190.28 597.82L191.30 599.71L192.33 601.54L193.35 603.30L194.37 604.99L195.39 606.62L196.42 608.19L197.44 609.71L198.46 611.18L199.49 612.60L200.51 613.98L201.53 615.31L202.56 616.61L203.58 617.86L204.60 619.08L205.63 620.27L206.65 621.42L207.67 622.55L208.69 623.64L209.72 624.71L210.74 625.74L211.76 626.75L212.79 627.72L213.81 628.66L214.83 629.58L215.86 630.46L216.88 631.31L217.90 632.13L218.93 632.93L219.95 633.71L220.97 634.47L221.99 635.24L223.02 636.00L224.04 636.78L225.06 637.57L226.09 638.33L227.11 639.04L228.13 639.67L229.16 640.21L230.18 640.68L231.20 641.09L232.22 641.45L233.25 641.75L234.27 642.01L235.29 642.25L236.32 642.46L237.34 642.66L238.36 642.85L239.39 643.01L240.41 643.16L241.43 643.30L242.46 643.42L243.48 643.54L244.50 643.65L245.52 643.75L246.55 643.84L247.57 643.94L248.59 644.03L249.62 644.11L250.64 644.20L251.66 644.28L252.69 644.35L253.71 644.42L254.73 644.49L255.76 644.56L256.78 644.62L257.80 644.67L258.82 644.73L259.85 644.78L260.87 644.82L261.89 644.86L262.92 644.90" stroke="#ff00ff" stroke-width="1.35" stroke-dasharray="1.1 0.9"/>
</g>
<rect x="100.25" y="490.60" width="238.35" height="177.80" fill="none" stroke="#1a1a1a" stroke-width="1.1"/>
<g font-family='"Liberation Sans", sans-serif' font-size="9.8" fill="#111">
<text x="94.25" y="648.59" text-anchor="end">0</text>
<text x="94.25" y="617.67" text-anchor="end">0.002</text>
<text x="94.25" y="586.75" text-anchor="end">0.004</text>
<text x="94.25" y="555.82" text-anchor="end">0.006</text>
<text x="94.25" y="524.90" text-anchor="end">0.008</text>
<text x="101.55" y="681.53" text-anchor="middle">1</text>
<text x="173.75" y="681.53" text-anchor="middle">10</text>
<text x="245.96" y="681.53" text-anchor="middle">100</text>
<text x="318.16" y="681.53" text-anchor="middle">1000</text>
</g>
<rect x="263.50" y="535.50" width="66.10" height="58.70" fill="#fff"/>
<path d="M276.72 594.20v-3.2M276.72 535.50v3.2M289.94 594.20v-3.2M289.94 535.50v3.2M303.16 594.20v-3.2M303.16 535.50v3.2M316.38 594.20v-3.2M316.38 535.50v3.2M263.50 586.54h3.20M329.60 586.54h-3.20M263.50 576.33h3.20M329.60 576.33h-3.20M263.50 566.13h3.20M329.60 566.13h-3.20M263.50 555.92h3.20M329.60 555.92h-3.20M263.50 545.71h3.20M329.60 545.71h-3.20" stroke="#1a1a1a" stroke-width="0.85" fill="none"/>
<g fill="none" stroke-linejoin="round" clip-path="url(#i5)">
<path d="M263.50 560.15L263.92 560.79L264.33 561.42L264.75 562.04L265.16 562.66L265.58 563.26L265.99 563.86L266.41 564.45L266.83 565.02L267.24 565.58L267.66 566.12L268.07 566.65L268.49 567.17L268.90 567.66L269.32 568.14L269.74 568.59L270.15 569.03L270.57 569.44L270.98 569.84L271.40 570.23L271.81 570.60L272.23 570.95L272.65 571.29L273.06 571.62L273.48 571.93L273.89 572.23L274.31 572.51L274.72 572.79L275.14 573.05L275.56 573.30L275.97 573.53L276.39 573.76L276.80 573.98L277.22 574.19L277.63 574.39L278.05 574.58L278.47 574.77L278.88 574.95L279.30 575.12L279.71 575.29L280.13 575.45L280.54 575.60L280.96 575.75L281.38 575.89L281.79 576.03L282.21 576.16L282.62 576.29L283.04 576.41L283.45 576.52L283.87 576.63L284.29 576.74L284.70 576.84L285.12 576.94L285.53 577.04L285.95 577.13L286.36 577.22L286.78 577.31L287.20 577.39L287.61 577.47L288.03 577.55L288.44 577.62L288.86 577.69L289.27 577.76L289.69 577.83L290.11 577.89L290.52 577.95L290.94 578.01L291.35 578.07L291.77 578.13L292.18 578.19L292.60 578.24L293.02 578.29L293.43 578.35L293.85 578.40L294.26 578.45L294.68 578.50L295.09 578.54L295.51 578.59L295.93 578.63L296.34 578.68L296.76 578.72L297.17 578.76L297.59 578.80L298.01 578.84L298.42 578.88L298.84 578.92L299.25 578.95L299.67 578.99L300.08 579.02L300.50 579.05L300.92 579.09L301.33 579.12L301.75 579.15L302.16 579.18L302.58 579.21L302.99 579.23L303.41 579.26L303.83 579.29L304.24 579.31L304.66 579.34L305.07 579.36L305.49 579.39L305.90 579.41L306.32 579.43L306.74 579.45L307.15 579.48L307.57 579.50L307.98 579.52L308.40 579.54L308.81 579.56L309.23 579.58L309.65 579.60L310.06 579.62L310.48 579.63L310.89 579.65L311.31 579.67L311.72 579.69L312.14 579.70L312.56 579.72L312.97 579.74L313.39 579.75L313.80 579.77L314.22 579.78L314.63 579.80L315.05 579.81L315.47 579.83L315.88 579.84L316.30 579.85L316.71 579.87L317.13 579.88L317.54 579.89L317.96 579.91L318.38 579.92L318.79 579.93L319.21 579.95L319.62 579.96L320.04 579.97L320.45 579.98L320.87 580.00L321.29 580.01L321.70 580.02L322.12 580.03L322.53 580.04L322.95 580.05L323.36 580.06L323.78 580.08L324.20 580.09L324.61 580.10L325.03 580.11L325.44 580.12L325.86 580.13L326.27 580.14L326.69 580.15L327.11 580.16L327.52 580.17L327.94 580.18L328.35 580.19L328.77 580.20L329.18 580.21L329.60 580.21" stroke="#ff0000" stroke-width="1.4"/>
<path d="M263.50 586.54L272.94 586.54L282.39 586.54L291.83 586.54L301.27 586.54L310.71 586.54L320.16 586.54L329.60 586.54" stroke="#00ff00" stroke-width="1.4" stroke-dasharray="2.2 1.1"/>
<path d="M263.50 583.17L272.94 583.07L282.39 582.97L291.83 582.87L301.27 582.77L310.71 582.66L320.16 582.56L329.60 582.46" stroke="#0000ff" stroke-width="1.4" stroke-dasharray="1.4 1.6"/>
<path d="M263.50 571.95L263.92 572.13L264.33 572.31L264.75 572.48L265.16 572.64L265.58 572.77L265.99 572.88L266.41 572.97L266.83 573.02L267.24 573.04L267.66 573.05L268.07 573.05L268.49 573.03L268.90 573.00L269.32 572.96L269.74 572.91L270.15 572.86L270.57 572.80L270.98 572.74L271.40 572.67L271.81 572.59L272.23 572.50L272.65 572.41L273.06 572.31L273.48 572.21L273.89 572.10L274.31 571.98L274.72 571.86L275.14 571.74L275.56 571.61L275.97 571.48L276.39 571.34L276.80 571.20L277.22 571.06L277.63 570.91L278.05 570.75L278.47 570.58L278.88 570.41L279.30 570.24L279.71 570.06L280.13 569.87L280.54 569.68L280.96 569.48L281.38 569.28L281.79 569.08L282.21 568.87L282.62 568.66L283.04 568.44L283.45 568.22L283.87 568.00L284.29 567.78L284.70 567.55L285.12 567.32L285.53 567.09L285.95 566.86L286.36 566.62L286.78 566.39L287.20 566.15L287.61 565.92L288.03 565.68L288.44 565.44L288.86 565.21L289.27 564.97L289.69 564.74L290.11 564.50L290.52 564.27L290.94 564.03L291.35 563.79L291.77 563.55L292.18 563.31L292.60 563.07L293.02 562.83L293.43 562.59L293.85 562.35L294.26 562.10L294.68 561.86L295.09 561.62L295.51 561.37L295.93 561.13L296.34 560.88L296.76 560.64L297.17 560.39L297.59 560.15L298.01 559.91L298.42 559.66L298.84 559.42L299.25 559.18L299.67 558.94L300.08 558.69L300.50 558.45L300.92 558.21L301.33 557.98L301.75 557.74L302.16 557.50L302.58 557.27L302.99 557.03L303.41 556.80L303.83 556.57L304.24 556.33L304.66 556.10L305.07 555.86L305.49 555.63L305.90 555.40L306.32 555.17L306.74 554.94L307.15 554.71L307.57 554.48L307.98 554.25L308.40 554.02L308.81 553.80L309.23 553.57L309.65 553.35L310.06 553.13L310.48 552.92L310.89 552.70L311.31 552.49L311.72 552.28L312.14 552.07L312.56 551.87L312.97 551.66L313.39 551.47L313.80 551.27L314.22 551.08L314.63 550.89L315.05 550.71L315.47 550.53L315.88 550.35L316.30 550.18L316.71 550.02L317.13 549.85L317.54 549.69L317.96 549.53L318.38 549.37L318.79 549.22L319.21 549.07L319.62 548.92L320.04 548.77L320.45 548.63L320.87 548.49L321.29 548.35L321.70 548.21L322.12 548.08L322.53 547.94L322.95 547.81L323.36 547.68L323.78 547.56L324.20 547.43L324.61 547.31L325.03 547.19L325.44 547.07L325.86 546.95L326.27 546.83L326.69 546.72L327.11 546.61L327.52 546.50L327.94 546.39L328.35 546.28L328.77 546.17L329.18 546.07L329.60 545.96" stroke="#ff00ff" stroke-width="1.25" stroke-dasharray="0.8 0.6"/>
</g>
<rect x="263.50" y="535.50" width="66.10" height="58.70" fill="none" stroke="#1a1a1a" stroke-width="0.95"/>
<g font-family='"Liberation Sans", sans-serif' font-size="8.2" fill="#111">
<text x="258.50" y="589.37" text-anchor="end">0</text>
<text x="258.50" y="579.16" text-anchor="end" textLength="19.49" lengthAdjust="spacingAndGlyphs">0.002</text>
<text x="258.50" y="568.96" text-anchor="end" textLength="19.49" lengthAdjust="spacingAndGlyphs">0.004</text>
<text x="258.50" y="558.75" text-anchor="end" textLength="19.49" lengthAdjust="spacingAndGlyphs">0.006</text>
<text x="258.50" y="548.54" text-anchor="end" textLength="19.49" lengthAdjust="spacingAndGlyphs">0.008</text>
<text x="258.50" y="538.33" text-anchor="end" textLength="15.16" lengthAdjust="spacingAndGlyphs">0.01</text>
<text x="264.30" y="604.75" text-anchor="middle">0</text>
<text x="277.52" y="604.75" text-anchor="middle">1</text>
<text x="290.74" y="604.75" text-anchor="middle">2</text>
<text x="303.96" y="604.75" text-anchor="middle">3</text>
<text x="317.18" y="604.75" text-anchor="middle">4</text>
<text x="330.40" y="604.75" text-anchor="middle">5</text>
</g>
<text x="294.00" y="532.20" text-anchor="middle" font-family='"Liberation Serif", serif' font-size="11.4" fill="#2a2a2a" textLength="47.2" lengthAdjust="spacingAndGlyphs">wall-zoom</text>
<rect x="107.60" y="499.50" width="27.00" height="24.20" fill="#fff" stroke="#1a1a1a" stroke-width="1.05"/>
<text x="111.80" y="512.90" font-family='"Liberation Serif", serif' font-size="11.8" fill="#3a3a3a" font-style="italic" textLength="4.8" lengthAdjust="spacingAndGlyphs">ε</text>
<path d="M118.00 506.10h5.80M120.90 503.20v5.80" stroke="#3a3a3a" stroke-width="0.62" fill="none"/>
<text x="117.20" y="516.10" font-family='"Liberation Serif", serif' font-size="8.4" fill="#3a3a3a" font-style="italic" textLength="4.2" lengthAdjust="spacingAndGlyphs">ζ</text>
<text x="121.60" y="517.50" font-family='"Liberation Serif", serif' font-size="6.6" fill="#3a3a3a" font-style="italic" textLength="6.0" lengthAdjust="spacingAndGlyphs">ij</text>
<text x="268.20" y="661.50" font-family='"Liberation Serif", serif' font-size="13.5" font-style="italic" fill="#2a2a2a" textLength="6.6" lengthAdjust="spacingAndGlyphs">y</text>
<path d="M275.40 655.10h5.6M278.20 652.30v5.6" stroke="#2a2a2a" stroke-width="0.62" fill="none"/>
<path d="M281.50 659.10H301.20" stroke="#111" stroke-width="1.1" fill="none"/>
<path d="M304.20 659.10l-5 -1.45v2.9z" fill="#111"/>
<!-- panel 6 -->
<path d="M373.00 647.48H611.40" stroke="#8a8a8a" stroke-width="0.8" stroke-dasharray="1 1" fill="none"/>
<path d="M394.51 668.40v-2.30M394.51 490.60v2.30M407.24 668.40v-2.30M407.24 490.60v2.30M416.28 668.40v-2.30M416.28 490.60v2.30M423.28 668.40v-2.30M423.28 490.60v2.30M429.01 668.40v-2.30M429.01 490.60v2.30M433.85 668.40v-2.30M433.85 490.60v2.30M438.04 668.40v-2.30M438.04 490.60v2.30M441.74 668.40v-2.30M441.74 490.60v2.30M445.05 668.40v-4.50M445.05 490.60v4.50M466.81 668.40v-2.30M466.81 490.60v2.30M479.54 668.40v-2.30M479.54 490.60v2.30M488.57 668.40v-2.30M488.57 490.60v2.30M495.58 668.40v-2.30M495.58 490.60v2.30M501.30 668.40v-2.30M501.30 490.60v2.30M506.14 668.40v-2.30M506.14 490.60v2.30M510.34 668.40v-2.30M510.34 490.60v2.30M514.03 668.40v-2.30M514.03 490.60v2.30M517.34 668.40v-4.50M517.34 490.60v4.50M539.10 668.40v-2.30M539.10 490.60v2.30M551.84 668.40v-2.30M551.84 490.60v2.30M560.87 668.40v-2.30M560.87 490.60v2.30M567.87 668.40v-2.30M567.87 490.60v2.30M573.60 668.40v-2.30M573.60 490.60v2.30M578.44 668.40v-2.30M578.44 490.60v2.30M582.63 668.40v-2.30M582.63 490.60v2.30M586.33 668.40v-2.30M586.33 490.60v2.30M589.64 668.40v-4.50M589.64 490.60v4.50M372.75 647.48h4.50M611.40 647.48h-4.50M372.75 595.19h4.50M611.40 595.19h-4.50M372.75 542.89h4.50M611.40 542.89h-4.50" stroke="#1a1a1a" stroke-width="1.0" fill="none"/>
<g fill="none" stroke-linejoin="round" clip-path="url(#c6)">
<path d="M372.75 629.18L373.77 628.29L374.80 627.36L375.82 626.39L376.85 625.38L377.87 624.30L378.90 623.16L379.92 621.93L380.94 620.63L381.97 619.28L382.99 617.87L384.02 616.43L385.04 614.97L386.07 613.49L387.09 611.99L388.12 610.45L389.14 608.87L390.16 607.21L391.19 605.48L392.21 603.66L393.24 601.75L394.26 599.77L395.29 597.71L396.31 595.57L397.33 593.37L398.36 591.09L399.38 588.74L400.41 586.31L401.43 583.80L402.46 581.24L403.48 578.61L404.50 575.91L405.53 573.14L406.55 570.30L407.58 567.40L408.60 564.45L409.63 561.46L410.65 558.43L411.68 555.34L412.70 552.21L413.72 549.08L414.75 545.98L415.77 542.94L416.80 539.99L417.82 537.10L418.85 534.28L419.87 531.55L420.89 528.94L421.92 526.48L422.94 524.19L423.97 522.04L424.99 520.02L426.02 518.18L427.04 516.59L428.06 515.31L429.09 514.27L430.11 513.40L431.14 512.74L432.16 512.31L433.19 512.14L434.21 512.21L435.24 512.47L436.26 512.91L437.28 513.50L438.31 514.22L439.33 515.15L440.36 516.31L441.38 517.63L442.41 519.05L443.43 520.63L444.45 522.28L445.48 523.93L446.50 525.59L447.53 527.24L448.55 528.84L449.58 530.34L450.60 531.70L451.62 532.91L452.65 534.02L453.67 535.03L454.70 535.95L455.72 536.78L456.75 537.52L457.77 538.18L458.80 538.79L459.82 539.35L460.84 539.84L461.87 540.27L462.89 540.63L463.92 540.91L464.94 541.13L465.97 541.27L466.99 541.33L468.01 541.30L469.04 541.20L470.06 541.06L471.09 540.88L472.11 540.69L473.14 540.50L474.16 540.33L475.18 540.16L476.21 539.99L477.23 539.81L478.26 539.62L479.28 539.40L480.31 539.14L481.33 538.84L482.36 538.57L483.38 538.37L484.40 538.29L485.43 538.39L486.45 538.63L487.48 538.99L488.50 539.41L489.53 539.90L490.55 540.50L491.57 541.20L492.60 542.03L493.62 542.99L494.65 544.08L495.67 545.31L496.70 546.77L497.72 548.48L498.74 550.41L499.77 552.52L500.79 554.79L501.82 557.20L502.84 559.82L503.87 562.59L504.89 565.45L505.92 568.31L506.94 571.14L507.96 573.97L508.99 576.83L510.01 579.73L511.04 582.69L512.06 585.71L513.09 588.69L514.11 591.52L515.13 594.17L516.16 596.70L517.18 599.19L518.21 601.72L519.23 604.29L520.26 606.85L521.28 609.40L522.30 611.89L523.33 614.32L524.35 616.69L525.38 619.01L526.40 621.24L527.43 623.38L528.45 625.38L529.48 627.24L530.50 628.92L531.52 630.47L532.55 631.90L533.57 633.24L534.60 634.49L535.62 635.66" stroke="#ff0000" stroke-width="1.6"/>
<path d="M372.75 647.48L373.77 647.50L374.80 647.51L375.82 647.53L376.85 647.54L377.87 647.56L378.90 647.58L379.92 647.59L380.94 647.61L381.97 647.63L382.99 647.65L384.02 647.67L385.04 647.69L386.07 647.71L387.09 647.73L388.12 647.75L389.14 647.78L390.16 647.80L391.19 647.83L392.21 647.85L393.24 647.88L394.26 647.91L395.29 647.93L396.31 647.96L397.33 647.99L398.36 648.02L399.38 648.05L400.41 648.08L401.43 648.12L402.46 648.15L403.48 648.18L404.50 648.22L405.53 648.26L406.55 648.29L407.58 648.33L408.60 648.37L409.63 648.41L410.65 648.46L411.68 648.50L412.70 648.55L413.72 648.60L414.75 648.65L415.77 648.70L416.80 648.75L417.82 648.80L418.85 648.85L419.87 648.90L420.89 648.94L421.92 648.99L422.94 649.04L423.97 649.08L424.99 649.13L426.02 649.17L427.04 649.21L428.06 649.25L429.09 649.30L430.11 649.34L431.14 649.38L432.16 649.42L433.19 649.46L434.21 649.50L435.24 649.54L436.26 649.58L437.28 649.62L438.31 649.65L439.33 649.69L440.36 649.73L441.38 649.76L442.41 649.80L443.43 649.83L444.45 649.87L445.48 649.90L446.50 649.94L447.53 649.97L448.55 650.01L449.58 650.04L450.60 650.07L451.62 650.10L452.65 650.13L453.67 650.15L454.70 650.17L455.72 650.19L456.75 650.20L457.77 650.20L458.80 650.20L459.82 650.19L460.84 650.18L461.87 650.16L462.89 650.14L463.92 650.10L464.94 650.07L465.97 650.03L466.99 649.98L468.01 649.93L469.04 649.87L470.06 649.80L471.09 649.72L472.11 649.64L473.14 649.56L474.16 649.47L475.18 649.38L476.21 649.30L477.23 649.22L478.26 649.14L479.28 649.07L480.31 649.00L481.33 648.94L482.36 648.88L483.38 648.83L484.40 648.77L485.43 648.72L486.45 648.67L487.48 648.63L488.50 648.58L489.53 648.54L490.55 648.50L491.57 648.46L492.60 648.42L493.62 648.39L494.65 648.35L495.67 648.32L496.70 648.28L497.72 648.25L498.74 648.21L499.77 648.18L500.79 648.14L501.82 648.11L502.84 648.07L503.87 648.04L504.89 648.01L505.92 647.98L506.94 647.95L507.96 647.92L508.99 647.89L510.01 647.86L511.04 647.83L512.06 647.81L513.09 647.78L514.11 647.76L515.13 647.73L516.16 647.71L517.18 647.69L518.21 647.68L519.23 647.66L520.26 647.64L521.28 647.63L522.30 647.61L523.33 647.60L524.35 647.58L525.38 647.57L526.40 647.56L527.43 647.55L528.45 647.54L529.48 647.53L530.50 647.52L531.52 647.51L532.55 647.50L533.57 647.50L534.60 647.49L535.62 647.48" stroke="#00ff00" stroke-width="1.7" stroke-dasharray="2.7 1.4"/>
<path d="M372.75 647.48L373.77 647.48L374.80 647.47L375.82 647.46L376.85 647.44L377.87 647.43L378.90 647.41L379.92 647.39L380.94 647.36L381.97 647.33L382.99 647.30L384.02 647.27L385.04 647.23L386.07 647.18L387.09 647.13L388.12 647.08L389.14 647.03L390.16 646.96L391.19 646.90L392.21 646.83L393.24 646.75L394.26 646.67L395.29 646.58L396.31 646.47L397.33 646.36L398.36 646.23L399.38 646.09L400.41 645.94L401.43 645.77L402.46 645.60L403.48 645.42L404.50 645.22L405.53 645.02L406.55 644.81L407.58 644.58L408.60 644.34L409.63 644.07L410.65 643.76L411.68 643.40L412.70 642.98L413.72 642.52L414.75 642.01L415.77 641.47L416.80 640.92L417.82 640.37L418.85 639.80L419.87 639.22L420.89 638.62L421.92 637.98L422.94 637.30L423.97 636.56L424.99 635.78L426.02 634.93L427.04 634.03L428.06 633.08L429.09 632.08L430.11 631.02L431.14 629.91L432.16 628.78L433.19 627.63L434.21 626.50L435.24 625.36L436.26 624.20L437.28 623.00L438.31 621.75L439.33 620.44L440.36 619.08L441.38 617.66L442.41 616.18L443.43 614.65L444.45 613.06L445.48 611.44L446.50 609.77L447.53 608.05L448.55 606.28L449.58 604.45L450.60 602.58L451.62 600.69L452.65 598.78L453.67 596.85L454.70 594.90L455.72 592.94L456.75 590.97L457.77 588.99L458.80 586.99L459.82 584.98L460.84 582.98L461.87 580.97L462.89 578.96L463.92 576.94L464.94 574.94L465.97 572.96L466.99 571.00L468.01 569.06L469.04 567.14L470.06 565.24L471.09 563.37L472.11 561.54L473.14 559.74L474.16 557.98L475.18 556.26L476.21 554.57L477.23 552.92L478.26 551.34L479.28 549.84L480.31 548.46L481.33 547.20L482.36 546.03L483.38 544.95L484.40 544.01L485.43 543.24L486.45 542.66L487.48 542.22L488.50 541.92L489.53 541.83L490.55 542.01L491.57 542.49L492.60 543.20L493.62 544.03L494.65 544.99L495.67 546.15L496.70 547.50L497.72 549.07L498.74 550.85L499.77 552.97L500.79 555.31L501.82 557.68L502.84 560.08L503.87 562.51L504.89 564.97L505.92 567.44L506.94 569.94L507.96 572.45L508.99 575.01L510.01 577.62L511.04 580.30L512.06 583.05L513.09 585.89L514.11 588.82L515.13 591.88L516.16 595.01L517.18 598.07L518.21 601.03L519.23 603.93L520.26 606.72L521.28 609.36L522.30 611.81L523.33 614.04L524.35 616.09L525.38 617.99L526.40 619.75L527.43 621.37L528.45 622.87L529.48 624.24L530.50 625.51L531.52 626.70L532.55 627.81L533.57 628.85L534.60 629.82L535.62 630.75" stroke="#0000ff" stroke-width="1.7" stroke-dasharray="1.7 1.7"/>
<path d="M372.75 631.17L373.77 630.47L374.80 629.76L375.82 629.03L376.85 628.27L377.87 627.50L378.90 626.69L379.92 625.86L380.94 625.00L381.97 624.11L382.99 623.19L384.02 622.24L385.04 621.25L386.07 620.22L387.09 619.13L388.12 617.99L389.14 616.82L390.16 615.64L391.19 614.46L392.21 613.28L393.24 612.10L394.26 610.91L395.29 609.70L396.31 608.47L397.33 607.22L398.36 605.93L399.38 604.60L400.41 603.25L401.43 601.89L402.46 600.53L403.48 599.19L404.50 597.85L405.53 596.52L406.55 595.22L407.58 593.95L408.60 592.75L409.63 591.63L410.65 590.62L411.68 589.68L412.70 588.82L413.72 588.02L414.75 587.25L415.77 586.51L416.80 585.78L417.82 585.07L418.85 584.38L419.87 583.69L420.89 583.00L421.92 582.29L422.94 581.56L423.97 580.81L424.99 580.04L426.02 579.24L427.04 578.40L428.06 577.51L429.09 576.57L430.11 575.57L431.14 574.50L432.16 573.36L433.19 572.16L434.21 570.89L435.24 569.57L436.26 568.18L437.28 566.72L438.31 565.18L439.33 563.56L440.36 561.84L441.38 560.02L442.41 558.10L443.43 556.05L444.45 553.87L445.48 551.59L446.50 549.26L447.53 546.91L448.55 544.59L449.58 542.33L450.60 540.10L451.62 537.90L452.65 535.73L453.67 533.61L454.70 531.53L455.72 529.50L456.75 527.50L457.77 525.53L458.80 523.62L459.82 521.79L460.84 520.06L461.87 518.45L462.89 516.94L463.92 515.51L464.94 514.19L465.97 512.99L466.99 511.92L468.01 511.02L469.04 510.25L470.06 509.58L471.09 509.00L472.11 508.51L473.14 508.12L474.16 507.84L475.18 507.64L476.21 507.49L477.23 507.42L478.26 507.43L479.28 507.58L480.31 507.89L481.33 508.34L482.36 508.91L483.38 509.58L484.40 510.37L485.43 511.34L486.45 512.50L487.48 513.82L488.50 515.32L489.53 517.02L490.55 518.97L491.57 521.08L492.60 523.28L493.62 525.51L494.65 527.73L495.67 529.99L496.70 532.27L497.72 534.58L498.74 536.92L499.77 539.28L500.79 541.68L501.82 544.13L502.84 546.59L503.87 549.09L504.89 551.66L505.92 554.32L506.94 557.09L507.96 559.98L508.99 562.99L510.01 566.14L511.04 569.44L512.06 572.90L513.09 576.41L514.11 579.86L515.13 583.23L516.16 586.52L517.18 589.69L518.21 592.73L519.23 595.68L520.26 598.53L521.28 601.29L522.30 603.95L523.33 606.51L524.35 608.98L525.38 611.38L526.40 613.70L527.43 615.93L528.45 618.09L529.48 620.17L530.50 622.16L531.52 624.07L532.55 625.92L533.57 627.72L534.60 629.46L535.62 631.17" stroke="#ff00ff" stroke-width="1.35" stroke-dasharray="1.1 0.9"/>
</g>
<rect x="372.75" y="490.60" width="238.65" height="177.80" fill="none" stroke="#1a1a1a" stroke-width="1.1"/>
<g font-family='"Liberation Sans", sans-serif' font-size="9.8" fill="#111">
<text x="366.75" y="650.86" text-anchor="end">0</text>
<text x="366.75" y="598.57" text-anchor="end">0.005</text>
<text x="366.75" y="546.28" text-anchor="end">0.010</text>
<text x="374.05" y="681.53" text-anchor="middle">1</text>
<text x="446.35" y="681.53" text-anchor="middle">10</text>
<text x="518.64" y="681.53" text-anchor="middle">100</text>
<text x="590.94" y="681.53" text-anchor="middle">1000</text>
</g>
<rect x="535.50" y="523.90" width="66.40" height="58.70" fill="#fff"/>
<path d="M548.78 582.60v-3.2M548.78 523.90v3.2M562.06 582.60v-3.2M562.06 523.90v3.2M575.34 582.60v-3.2M575.34 523.90v3.2M588.62 582.60v-3.2M588.62 523.90v3.2M535.50 575.69h3.20M601.90 575.69h-3.20M535.50 558.43h3.20M601.90 558.43h-3.20M535.50 541.16h3.20M601.90 541.16h-3.20" stroke="#1a1a1a" stroke-width="0.85" fill="none"/>
<g fill="none" stroke-linejoin="round" clip-path="url(#i6)">
<path d="M535.50 575.69L535.92 575.63L536.34 575.57L536.75 575.49L537.17 575.41L537.59 575.33L538.01 575.24L538.42 575.14L538.84 575.04L539.26 574.93L539.68 574.81L540.09 574.69L540.51 574.56L540.93 574.42L541.35 574.27L541.76 574.12L542.18 573.95L542.60 573.77L543.02 573.58L543.43 573.37L543.85 573.15L544.27 572.92L544.69 572.68L545.11 572.43L545.52 572.17L545.94 571.90L546.36 571.63L546.78 571.35L547.19 571.07L547.61 570.79L548.03 570.50L548.45 570.22L548.86 569.94L549.28 569.66L549.70 569.38L550.12 569.09L550.53 568.81L550.95 568.52L551.37 568.23L551.79 567.94L552.20 567.65L552.62 567.36L553.04 567.06L553.46 566.77L553.87 566.47L554.29 566.18L554.71 565.88L555.13 565.58L555.55 565.28L555.96 564.98L556.38 564.67L556.80 564.37L557.22 564.07L557.63 563.76L558.05 563.46L558.47 563.15L558.89 562.85L559.30 562.54L559.72 562.23L560.14 561.92L560.56 561.62L560.97 561.31L561.39 561.00L561.81 560.69L562.23 560.38L562.64 560.07L563.06 559.75L563.48 559.44L563.90 559.12L564.32 558.81L564.73 558.49L565.15 558.17L565.57 557.85L565.99 557.53L566.40 557.21L566.82 556.89L567.24 556.57L567.66 556.25L568.07 555.93L568.49 555.61L568.91 555.29L569.33 554.97L569.74 554.65L570.16 554.33L570.58 554.01L571.00 553.70L571.41 553.38L571.83 553.06L572.25 552.75L572.67 552.44L573.08 552.13L573.50 551.82L573.92 551.51L574.34 551.21L574.76 550.91L575.17 550.61L575.59 550.31L576.01 550.01L576.43 549.72L576.84 549.42L577.26 549.13L577.68 548.84L578.10 548.55L578.51 548.26L578.93 547.97L579.35 547.68L579.77 547.40L580.18 547.12L580.60 546.84L581.02 546.56L581.44 546.28L581.85 546.00L582.27 545.73L582.69 545.46L583.11 545.19L583.53 544.92L583.94 544.66L584.36 544.40L584.78 544.14L585.20 543.88L585.61 543.62L586.03 543.37L586.45 543.12L586.87 542.87L587.28 542.62L587.70 542.38L588.12 542.14L588.54 541.90L588.95 541.67L589.37 541.43L589.79 541.20L590.21 540.97L590.62 540.75L591.04 540.52L591.46 540.30L591.88 540.08L592.29 539.86L592.71 539.64L593.13 539.43L593.55 539.21L593.97 539.00L594.38 538.79L594.80 538.58L595.22 538.37L595.64 538.16L596.05 537.96L596.47 537.76L596.89 537.55L597.31 537.35L597.72 537.15L598.14 536.96L598.56 536.76L598.98 536.56L599.39 536.37L599.81 536.18L600.23 535.98L600.65 535.79L601.06 535.60L601.48 535.41L601.90 535.23" stroke="#ff0000" stroke-width="1.4"/>
<path d="M535.50 575.69L544.99 575.79L554.47 575.89L563.96 575.99L573.44 576.09L582.93 576.19L592.41 576.29L601.90 576.38" stroke="#00ff00" stroke-width="1.4" stroke-dasharray="2.2 1.1"/>
<path d="M535.50 575.69L535.92 575.69L536.34 575.69L536.75 575.69L537.17 575.69L537.59 575.69L538.01 575.69L538.42 575.69L538.84 575.69L539.26 575.69L539.68 575.69L540.09 575.68L540.51 575.68L540.93 575.68L541.35 575.68L541.76 575.68L542.18 575.68L542.60 575.67L543.02 575.67L543.43 575.67L543.85 575.67L544.27 575.66L544.69 575.66L545.11 575.66L545.52 575.65L545.94 575.65L546.36 575.65L546.78 575.64L547.19 575.64L547.61 575.63L548.03 575.63L548.45 575.63L548.86 575.62L549.28 575.62L549.70 575.61L550.12 575.60L550.53 575.60L550.95 575.59L551.37 575.59L551.79 575.58L552.20 575.57L552.62 575.57L553.04 575.56L553.46 575.55L553.87 575.55L554.29 575.54L554.71 575.53L555.13 575.52L555.55 575.51L555.96 575.51L556.38 575.50L556.80 575.49L557.22 575.48L557.63 575.47L558.05 575.46L558.47 575.45L558.89 575.44L559.30 575.43L559.72 575.42L560.14 575.40L560.56 575.39L560.97 575.38L561.39 575.37L561.81 575.36L562.23 575.34L562.64 575.33L563.06 575.32L563.48 575.30L563.90 575.28L564.32 575.27L564.73 575.25L565.15 575.23L565.57 575.21L565.99 575.20L566.40 575.18L566.82 575.16L567.24 575.14L567.66 575.11L568.07 575.09L568.49 575.07L568.91 575.05L569.33 575.02L569.74 575.00L570.16 574.98L570.58 574.95L571.00 574.93L571.41 574.90L571.83 574.88L572.25 574.85L572.67 574.83L573.08 574.80L573.50 574.77L573.92 574.75L574.34 574.72L574.76 574.70L575.17 574.67L575.59 574.64L576.01 574.61L576.43 574.59L576.84 574.56L577.26 574.53L577.68 574.50L578.10 574.47L578.51 574.44L578.93 574.41L579.35 574.38L579.77 574.35L580.18 574.32L580.60 574.29L581.02 574.26L581.44 574.23L581.85 574.20L582.27 574.16L582.69 574.13L583.11 574.10L583.53 574.06L583.94 574.03L584.36 573.99L584.78 573.96L585.20 573.92L585.61 573.89L586.03 573.85L586.45 573.82L586.87 573.78L587.28 573.74L587.70 573.71L588.12 573.67L588.54 573.63L588.95 573.59L589.37 573.55L589.79 573.51L590.21 573.47L590.62 573.43L591.04 573.39L591.46 573.35L591.88 573.31L592.29 573.27L592.71 573.23L593.13 573.19L593.55 573.14L593.97 573.10L594.38 573.06L594.80 573.02L595.22 572.97L595.64 572.93L596.05 572.88L596.47 572.84L596.89 572.79L597.31 572.75L597.72 572.70L598.14 572.66L598.56 572.61L598.98 572.57L599.39 572.52L599.81 572.47L600.23 572.43L600.65 572.38L601.06 572.33L601.48 572.29L601.90 572.24" stroke="#0000ff" stroke-width="1.4" stroke-dasharray="1.4 1.6"/>
<path d="M535.50 575.69L535.92 575.62L536.34 575.54L536.75 575.45L537.17 575.37L537.59 575.28L538.01 575.18L538.42 575.08L538.84 574.98L539.26 574.87L539.68 574.75L540.09 574.63L540.51 574.51L540.93 574.38L541.35 574.24L541.76 574.10L542.18 573.95L542.60 573.79L543.02 573.63L543.43 573.45L543.85 573.26L544.27 573.07L544.69 572.87L545.11 572.66L545.52 572.44L545.94 572.23L546.36 572.00L546.78 571.78L547.19 571.55L547.61 571.32L548.03 571.10L548.45 570.87L548.86 570.64L549.28 570.42L549.70 570.19L550.12 569.96L550.53 569.72L550.95 569.49L551.37 569.26L551.79 569.02L552.20 568.79L552.62 568.55L553.04 568.32L553.46 568.08L553.87 567.85L554.29 567.61L554.71 567.38L555.13 567.15L555.55 566.92L555.96 566.69L556.38 566.46L556.80 566.23L557.22 566.00L557.63 565.78L558.05 565.56L558.47 565.34L558.89 565.13L559.30 564.92L559.72 564.71L560.14 564.50L560.56 564.30L560.97 564.10L561.39 563.91L561.81 563.72L562.23 563.54L562.64 563.35L563.06 563.17L563.48 563.00L563.90 562.82L564.32 562.65L564.73 562.48L565.15 562.32L565.57 562.15L565.99 561.99L566.40 561.83L566.82 561.67L567.24 561.52L567.66 561.37L568.07 561.22L568.49 561.07L568.91 560.93L569.33 560.78L569.74 560.64L570.16 560.50L570.58 560.37L571.00 560.23L571.41 560.10L571.83 559.97L572.25 559.84L572.67 559.71L573.08 559.59L573.50 559.47L573.92 559.35L574.34 559.23L574.76 559.11L575.17 558.99L575.59 558.88L576.01 558.77L576.43 558.65L576.84 558.54L577.26 558.43L577.68 558.33L578.10 558.22L578.51 558.11L578.93 558.01L579.35 557.91L579.77 557.80L580.18 557.70L580.60 557.60L581.02 557.51L581.44 557.41L581.85 557.32L582.27 557.22L582.69 557.13L583.11 557.04L583.53 556.95L583.94 556.87L584.36 556.78L584.78 556.70L585.20 556.62L585.61 556.54L586.03 556.46L586.45 556.38L586.87 556.31L587.28 556.23L587.70 556.16L588.12 556.09L588.54 556.03L588.95 555.96L589.37 555.90L589.79 555.83L590.21 555.77L590.62 555.71L591.04 555.65L591.46 555.59L591.88 555.54L592.29 555.48L592.71 555.42L593.13 555.37L593.55 555.32L593.97 555.27L594.38 555.21L594.80 555.16L595.22 555.12L595.64 555.07L596.05 555.02L596.47 554.98L596.89 554.93L597.31 554.89L597.72 554.84L598.14 554.80L598.56 554.76L598.98 554.72L599.39 554.68L599.81 554.64L600.23 554.60L600.65 554.57L601.06 554.53L601.48 554.49L601.90 554.46" stroke="#ff00ff" stroke-width="1.25" stroke-dasharray="0.8 0.6"/>
</g>
<rect x="535.50" y="523.90" width="66.40" height="58.70" fill="none" stroke="#1a1a1a" stroke-width="0.95"/>
<g font-family='"Liberation Sans", sans-serif' font-size="8.2" fill="#111">
<text x="530.50" y="578.52" text-anchor="end">0</text>
<text x="530.50" y="561.26" text-anchor="end" textLength="19.49" lengthAdjust="spacingAndGlyphs">0.005</text>
<text x="530.50" y="543.99" text-anchor="end" textLength="15.16" lengthAdjust="spacingAndGlyphs">0.01</text>
<text x="530.50" y="526.73" text-anchor="end" textLength="19.49" lengthAdjust="spacingAndGlyphs">0.015</text>
<text x="536.30" y="593.15" text-anchor="middle">0</text>
<text x="549.58" y="593.15" text-anchor="middle">1</text>
<text x="562.86" y="593.15" text-anchor="middle">2</text>
<text x="576.14" y="593.15" text-anchor="middle">3</text>
<text x="589.42" y="593.15" text-anchor="middle">4</text>
<text x="602.70" y="593.15" text-anchor="middle">5</text>
</g>
<text x="566.50" y="520.60" text-anchor="middle" font-family='"Liberation Serif", serif' font-size="11.4" fill="#2a2a2a" textLength="47.2" lengthAdjust="spacingAndGlyphs">wall-zoom</text>
<rect x="388.00" y="499.10" width="27.40" height="23.80" fill="#fff" stroke="#1a1a1a" stroke-width="1.05"/>
<text x="392.40" y="513.10" font-family='"Liberation Serif", serif' font-size="11.8" fill="#3a3a3a" font-style="italic" textLength="9.6" lengthAdjust="spacingAndGlyphs">ac</text>
<path d="M403.00 506.00h5.80M405.90 503.10v5.80" stroke="#3a3a3a" stroke-width="0.62" fill="none"/>
<text x="402.50" y="516.80" font-family='"Liberation Serif", serif' font-size="8.4" fill="#3a3a3a" font-style="italic" textLength="7.0" lengthAdjust="spacingAndGlyphs">ij</text>
<text x="535.30" y="661.50" font-family='"Liberation Serif", serif' font-size="13.5" font-style="italic" fill="#2a2a2a" textLength="6.6" lengthAdjust="spacingAndGlyphs">y</text>
<path d="M542.50 655.10h5.6M545.30 652.30v5.6" stroke="#2a2a2a" stroke-width="0.62" fill="none"/>
<path d="M548.20 659.10H567.90" stroke="#111" stroke-width="1.1" fill="none"/>
<path d="M570.90 659.10l-5 -1.45v2.9z" fill="#111"/>
<!-- panel 7 -->
<path d="M101.00 843.26H338.60" stroke="#8a8a8a" stroke-width="0.8" stroke-dasharray="1 1" fill="none"/>
<path d="M121.99 864.20v-2.30M121.99 686.20v2.30M134.70 864.20v-2.30M134.70 686.20v2.30M143.72 864.20v-2.30M143.72 686.20v2.30M150.72 864.20v-2.30M150.72 686.20v2.30M156.44 864.20v-2.30M156.44 686.20v2.30M161.27 864.20v-2.30M161.27 686.20v2.30M165.46 864.20v-2.30M165.46 686.20v2.30M169.15 864.20v-2.30M169.15 686.20v2.30M172.45 864.20v-4.50M172.45 686.20v4.50M194.19 864.20v-2.30M194.19 686.20v2.30M206.91 864.20v-2.30M206.91 686.20v2.30M215.93 864.20v-2.30M215.93 686.20v2.30M222.92 864.20v-2.30M222.92 686.20v2.30M228.64 864.20v-2.30M228.64 686.20v2.30M233.47 864.20v-2.30M233.47 686.20v2.30M237.66 864.20v-2.30M237.66 686.20v2.30M241.36 864.20v-2.30M241.36 686.20v2.30M244.66 864.20v-4.50M244.66 686.20v4.50M266.40 864.20v-2.30M266.40 686.20v2.30M279.11 864.20v-2.30M279.11 686.20v2.30M288.13 864.20v-2.30M288.13 686.20v2.30M295.13 864.20v-2.30M295.13 686.20v2.30M300.85 864.20v-2.30M300.85 686.20v2.30M305.68 864.20v-2.30M305.68 686.20v2.30M309.87 864.20v-2.30M309.87 686.20v2.30M313.56 864.20v-2.30M313.56 686.20v2.30M316.86 864.20v-4.50M316.86 686.20v4.50M100.25 843.26h4.50M338.60 843.26h-4.50M100.25 790.91h4.50M338.60 790.91h-4.50M100.25 738.55h4.50M338.60 738.55h-4.50" stroke="#1a1a1a" stroke-width="1.0" fill="none"/>
<g fill="none" stroke-linejoin="round" clip-path="url(#c7)">
<path d="M100.25 819.91L101.27 819.91L102.30 819.90L103.32 819.90L104.34 819.89L105.37 819.89L106.39 819.88L107.41 819.87L108.43 819.87L109.46 819.86L110.48 819.85L111.50 819.84L112.53 819.83L113.55 819.82L114.57 819.81L115.60 819.80L116.62 819.78L117.64 819.77L118.67 819.75L119.69 819.74L120.71 819.72L121.73 819.70L122.76 819.69L123.78 819.66L124.80 819.64L125.83 819.61L126.85 819.58L127.87 819.54L128.90 819.50L129.92 819.46L130.94 819.41L131.96 819.35L132.99 819.29L134.01 819.22L135.03 819.15L136.06 819.07L137.08 818.98L138.10 818.87L139.13 818.76L140.15 818.64L141.17 818.51L142.20 818.37L143.22 818.22L144.24 818.07L145.26 817.91L146.29 817.74L147.31 817.57L148.33 817.40L149.36 817.22L150.38 817.04L151.40 816.85L152.43 816.66L153.45 816.46L154.47 816.25L155.50 816.03L156.52 815.81L157.54 815.58L158.56 815.34L159.59 815.09L160.61 814.84L161.63 814.58L162.66 814.31L163.68 814.03L164.70 813.75L165.73 813.45L166.75 813.13L167.77 812.81L168.80 812.47L169.82 812.11L170.84 811.74L171.86 811.35L172.89 810.94L173.91 810.51L174.93 810.05L175.96 809.58L176.98 809.09L178.00 808.59L179.03 808.07L180.05 807.54L181.07 807.01L182.09 806.46L183.12 805.92L184.14 805.38L185.16 804.83L186.19 804.29L187.21 803.75L188.23 803.20L189.26 802.65L190.28 802.09L191.30 801.51L192.33 800.92L193.35 800.32L194.37 799.69L195.39 799.05L196.42 798.38L197.44 797.69L198.46 796.99L199.49 796.28L200.51 795.57L201.53 794.85L202.56 794.13L203.58 793.40L204.60 792.68L205.63 791.97L206.65 791.28L207.67 790.62L208.69 789.97L209.72 789.36L210.74 788.79L211.76 788.28L212.79 787.82L213.81 787.42L214.83 787.06L215.86 786.74L216.88 786.45L217.90 786.18L218.93 785.97L219.95 785.85L220.97 785.80L221.99 785.84L223.02 786.01L224.04 786.47L225.06 787.23L226.09 788.14L227.11 789.21L228.13 790.45L229.16 791.82L230.18 793.34L231.20 794.97L232.22 796.66L233.25 798.38L234.27 800.10L235.29 801.84L236.32 803.60L237.34 805.41L238.36 807.26L239.39 809.16L240.41 811.03L241.43 812.81L242.46 814.47L243.48 816.05L244.50 817.58L245.52 819.11L246.55 820.64L247.57 822.15L248.59 823.61L249.62 825.00L250.64 826.31L251.66 827.55L252.69 828.72L253.71 829.82L254.73 830.85L255.76 831.79L256.78 832.65L257.80 833.41L258.82 834.11L259.85 834.74L260.87 835.32L261.89 835.86L262.92 836.35" stroke="#ff0000" stroke-width="1.6"/>
<path d="M100.25 843.26L101.27 843.27L102.30 843.28L103.32 843.29L104.34 843.30L105.37 843.31L106.39 843.32L107.41 843.33L108.43 843.34L109.46 843.35L110.48 843.36L111.50 843.37L112.53 843.39L113.55 843.40L114.57 843.41L115.60 843.42L116.62 843.43L117.64 843.45L118.67 843.46L119.69 843.47L120.71 843.48L121.73 843.50L122.76 843.51L123.78 843.52L124.80 843.54L125.83 843.55L126.85 843.56L127.87 843.58L128.90 843.59L129.92 843.61L130.94 843.62L131.96 843.64L132.99 843.65L134.01 843.67L135.03 843.68L136.06 843.70L137.08 843.71L138.10 843.73L139.13 843.75L140.15 843.76L141.17 843.78L142.20 843.80L143.22 843.82L144.24 843.84L145.26 843.86L146.29 843.88L147.31 843.91L148.33 843.93L149.36 843.96L150.38 843.98L151.40 844.01L152.43 844.04L153.45 844.07L154.47 844.10L155.50 844.14L156.52 844.17L157.54 844.21L158.56 844.25L159.59 844.29L160.61 844.33L161.63 844.37L162.66 844.41L163.68 844.45L164.70 844.49L165.73 844.54L166.75 844.58L167.77 844.63L168.80 844.67L169.82 844.72L170.84 844.76L171.86 844.80L172.89 844.85L173.91 844.89L174.93 844.94L175.96 844.98L176.98 845.03L178.00 845.08L179.03 845.12L180.05 845.16L181.07 845.21L182.09 845.25L183.12 845.28L184.14 845.32L185.16 845.35L186.19 845.38L187.21 845.41L188.23 845.44L189.26 845.47L190.28 845.49L191.30 845.52L192.33 845.54L193.35 845.55L194.37 845.56L195.39 845.57L196.42 845.57L197.44 845.56L198.46 845.53L199.49 845.48L200.51 845.41L201.53 845.32L202.56 845.17L203.58 844.98L204.60 844.77L205.63 844.55L206.65 844.35L207.67 844.18L208.69 844.02L209.72 843.87L210.74 843.73L211.76 843.60L212.79 843.49L213.81 843.40L214.83 843.32L215.86 843.26L216.88 843.22L217.90 843.18L218.93 843.15L219.95 843.12L220.97 843.10L221.99 843.08L223.02 843.07L224.04 843.06L225.06 843.05L226.09 843.05L227.11 843.05L228.13 843.05L229.16 843.05L230.18 843.05L231.20 843.06L232.22 843.06L233.25 843.06L234.27 843.07L235.29 843.07L236.32 843.07L237.34 843.08L238.36 843.08L239.39 843.09L240.41 843.09L241.43 843.10L242.46 843.10L243.48 843.11L244.50 843.11L245.52 843.12L246.55 843.12L247.57 843.13L248.59 843.13L249.62 843.14L250.64 843.15L251.66 843.16L252.69 843.16L253.71 843.17L254.73 843.18L255.76 843.19L256.78 843.20L257.80 843.21L258.82 843.22L259.85 843.23L260.87 843.24L261.89 843.25L262.92 843.26" stroke="#00ff00" stroke-width="1.7" stroke-dasharray="2.7 1.4"/>
<path d="M100.25 842.21L101.27 842.20L102.30 842.19L103.32 842.17L104.34 842.16L105.37 842.14L106.39 842.12L107.41 842.09L108.43 842.06L109.46 842.03L110.48 842.00L111.50 841.96L112.53 841.92L113.55 841.88L114.57 841.83L115.60 841.78L116.62 841.73L117.64 841.67L118.67 841.61L119.69 841.54L120.71 841.47L121.73 841.39L122.76 841.31L123.78 841.22L124.80 841.12L125.83 841.00L126.85 840.88L127.87 840.74L128.90 840.59L129.92 840.42L130.94 840.25L131.96 840.06L132.99 839.86L134.01 839.64L135.03 839.41L136.06 839.16L137.08 838.87L138.10 838.55L139.13 838.19L140.15 837.79L141.17 837.34L142.20 836.85L143.22 836.29L144.24 835.66L145.26 834.97L146.29 834.23L147.31 833.45L148.33 832.64L149.36 831.77L150.38 830.87L151.40 829.94L152.43 828.98L153.45 828.02L154.47 827.04L155.50 826.04L156.52 825.02L157.54 823.97L158.56 822.89L159.59 821.77L160.61 820.61L161.63 819.42L162.66 818.20L163.68 816.94L164.70 815.65L165.73 814.32L166.75 812.97L167.77 811.58L168.80 810.16L169.82 808.71L170.84 807.22L171.86 805.71L172.89 804.16L173.91 802.58L174.93 800.96L175.96 799.31L176.98 797.62L178.00 795.91L179.03 794.15L180.05 792.35L181.07 790.52L182.09 788.67L183.12 786.80L184.14 784.93L185.16 783.05L186.19 781.16L187.21 779.27L188.23 777.39L189.26 775.54L190.28 773.73L191.30 771.98L192.33 770.24L193.35 768.54L194.37 766.92L195.39 765.41L196.42 764.05L197.44 762.87L198.46 761.83L199.49 760.89L200.51 760.08L201.53 759.38L202.56 758.80L203.58 758.35L204.60 758.00L205.63 757.73L206.65 757.54L207.67 757.43L208.69 757.37L209.72 757.39L210.74 757.55L211.76 757.93L212.79 758.53L213.81 759.36L214.83 760.38L215.86 761.51L216.88 762.74L217.90 764.11L218.93 765.61L219.95 767.22L220.97 768.93L221.99 770.75L223.02 772.66L224.04 774.69L225.06 776.87L226.09 779.19L227.11 781.65L228.13 784.23L229.16 786.96L230.18 789.87L231.20 792.87L232.22 795.82L233.25 798.60L234.27 801.12L235.29 803.46L236.32 805.70L237.34 807.90L238.36 810.15L239.39 812.42L240.41 814.60L241.43 816.60L242.46 818.36L243.48 819.96L244.50 821.46L245.52 822.93L246.55 824.37L247.57 825.77L248.59 827.08L249.62 828.30L250.64 829.39L251.66 830.37L252.69 831.27L253.71 832.08L254.73 832.83L255.76 833.50L256.78 834.12L257.80 834.70L258.82 835.24L259.85 835.74L260.87 836.21L261.89 836.66L262.92 837.08" stroke="#0000ff" stroke-width="1.7" stroke-dasharray="1.7 1.7"/>
<path d="M100.25 794.05L101.27 794.05L102.30 794.04L103.32 794.04L104.34 794.04L105.37 794.03L106.39 794.03L107.41 794.02L108.43 794.01L109.46 793.99L110.48 793.98L111.50 793.96L112.53 793.94L113.55 793.92L114.57 793.90L115.60 793.87L116.62 793.84L117.64 793.81L118.67 793.77L119.69 793.73L120.71 793.69L121.73 793.64L122.76 793.59L123.78 793.52L124.80 793.45L125.83 793.36L126.85 793.26L127.87 793.15L128.90 793.03L129.92 792.89L130.94 792.74L131.96 792.57L132.99 792.39L134.01 792.20L135.03 791.99L136.06 791.75L137.08 791.48L138.10 791.19L139.13 790.87L140.15 790.52L141.17 790.15L142.20 789.76L143.22 789.34L144.24 788.90L145.26 788.42L146.29 787.91L147.31 787.36L148.33 786.77L149.36 786.15L150.38 785.48L151.40 784.77L152.43 784.00L153.45 783.18L154.47 782.30L155.50 781.36L156.52 780.35L157.54 779.28L158.56 778.12L159.59 776.88L160.61 775.56L161.63 774.17L162.66 772.69L163.68 771.12L164.70 769.50L165.73 767.85L166.75 766.18L167.77 764.47L168.80 762.74L169.82 760.98L170.84 759.20L171.86 757.40L172.89 755.58L173.91 753.74L174.93 751.88L175.96 750.00L176.98 748.14L178.00 746.29L179.03 744.46L180.05 742.63L181.07 740.82L182.09 739.06L183.12 737.35L184.14 735.71L185.16 734.16L186.19 732.71L187.21 731.33L188.23 730.02L189.26 728.78L190.28 727.60L191.30 726.48L192.33 725.41L193.35 724.42L194.37 723.54L195.39 722.73L196.42 722.02L197.44 721.46L198.46 721.09L199.49 720.92L200.51 720.85L201.53 720.87L202.56 721.00L203.58 721.26L204.60 721.65L205.63 722.18L206.65 722.86L207.67 723.76L208.69 724.97L209.72 726.46L210.74 728.16L211.76 730.01L212.79 732.06L213.81 734.31L214.83 736.72L215.86 739.22L216.88 741.77L217.90 744.41L218.93 747.14L219.95 749.96L220.97 752.88L221.99 755.91L223.02 759.05L224.04 762.35L225.06 765.79L226.09 769.32L227.11 772.87L228.13 776.40L229.16 779.87L230.18 783.29L231.20 786.64L232.22 789.88L233.25 792.97L234.27 795.88L235.29 798.64L236.32 801.32L237.34 803.99L238.36 806.70L239.39 809.42L240.41 812.01L241.43 814.31L242.46 816.27L243.48 818.01L244.50 819.65L245.52 821.33L246.55 823.02L247.57 824.70L248.59 826.30L249.62 827.80L250.64 829.14L251.66 830.34L252.69 831.44L253.71 832.43L254.73 833.34L255.76 834.16L256.78 834.90L257.80 835.58L258.82 836.21L259.85 836.80L260.87 837.35L261.89 837.86L262.92 838.34" stroke="#ff00ff" stroke-width="1.35" stroke-dasharray="1.1 0.9"/>
</g>
<rect x="100.25" y="686.20" width="238.35" height="178.00" fill="none" stroke="#1a1a1a" stroke-width="1.1"/>
<g font-family='"Liberation Sans", sans-serif' font-size="9.8" fill="#111">
<text x="94.25" y="846.64" text-anchor="end">0</text>
<text x="94.25" y="794.29" text-anchor="end">0.005</text>
<text x="94.25" y="741.93" text-anchor="end">0.010</text>
<text x="101.55" y="877.33" text-anchor="middle">1</text>
<text x="173.75" y="877.33" text-anchor="middle">10</text>
<text x="245.96" y="877.33" text-anchor="middle">100</text>
<text x="318.16" y="877.33" text-anchor="middle">1000</text>
</g>
<rect x="263.50" y="730.90" width="66.10" height="59.30" fill="#fff"/>
<path d="M276.72 790.20v-3.2M276.72 730.90v3.2M289.94 790.20v-3.2M289.94 730.90v3.2M303.16 790.20v-3.2M303.16 730.90v3.2M316.38 790.20v-3.2M316.38 730.90v3.2M263.50 783.22h3.20M329.60 783.22h-3.20M263.50 765.78h3.20M329.60 765.78h-3.20M263.50 748.34h3.20M329.60 748.34h-3.20" stroke="#1a1a1a" stroke-width="0.85" fill="none"/>
<g fill="none" stroke-linejoin="round" clip-path="url(#i7)">
<path d="M263.50 775.44L272.94 775.31L282.39 775.17L291.83 775.03L301.27 774.89L310.71 774.75L320.16 774.61L329.60 774.47" stroke="#ff0000" stroke-width="1.4"/>
<path d="M263.50 783.22L272.94 783.27L282.39 783.32L291.83 783.37L301.27 783.42L310.71 783.47L320.16 783.52L329.60 783.57" stroke="#00ff00" stroke-width="1.4" stroke-dasharray="2.2 1.1"/>
<path d="M263.50 782.63L263.92 782.63L264.33 782.64L264.75 782.64L265.16 782.64L265.58 782.64L265.99 782.64L266.41 782.65L266.83 782.65L267.24 782.65L267.66 782.65L268.07 782.65L268.49 782.65L268.90 782.66L269.32 782.66L269.74 782.66L270.15 782.66L270.57 782.66L270.98 782.66L271.40 782.66L271.81 782.66L272.23 782.66L272.65 782.66L273.06 782.66L273.48 782.65L273.89 782.65L274.31 782.65L274.72 782.65L275.14 782.64L275.56 782.64L275.97 782.64L276.39 782.63L276.80 782.63L277.22 782.62L277.63 782.62L278.05 782.61L278.47 782.60L278.88 782.59L279.30 782.58L279.71 782.57L280.13 782.56L280.54 782.55L280.96 782.53L281.38 782.52L281.79 782.51L282.21 782.49L282.62 782.48L283.04 782.46L283.45 782.44L283.87 782.43L284.29 782.41L284.70 782.39L285.12 782.38L285.53 782.36L285.95 782.34L286.36 782.32L286.78 782.31L287.20 782.29L287.61 782.27L288.03 782.25L288.44 782.24L288.86 782.22L289.27 782.20L289.69 782.19L290.11 782.17L290.52 782.15L290.94 782.14L291.35 782.12L291.77 782.11L292.18 782.09L292.60 782.08L293.02 782.06L293.43 782.04L293.85 782.03L294.26 782.01L294.68 782.00L295.09 781.98L295.51 781.96L295.93 781.95L296.34 781.93L296.76 781.91L297.17 781.90L297.59 781.88L298.01 781.86L298.42 781.85L298.84 781.83L299.25 781.81L299.67 781.79L300.08 781.77L300.50 781.75L300.92 781.73L301.33 781.71L301.75 781.69L302.16 781.67L302.58 781.65L302.99 781.63L303.41 781.61L303.83 781.58L304.24 781.56L304.66 781.53L305.07 781.51L305.49 781.48L305.90 781.46L306.32 781.43L306.74 781.40L307.15 781.38L307.57 781.35L307.98 781.32L308.40 781.29L308.81 781.26L309.23 781.23L309.65 781.20L310.06 781.17L310.48 781.14L310.89 781.11L311.31 781.07L311.72 781.04L312.14 781.01L312.56 780.97L312.97 780.94L313.39 780.90L313.80 780.87L314.22 780.83L314.63 780.80L315.05 780.76L315.47 780.72L315.88 780.69L316.30 780.65L316.71 780.61L317.13 780.57L317.54 780.53L317.96 780.50L318.38 780.46L318.79 780.42L319.21 780.37L319.62 780.33L320.04 780.29L320.45 780.25L320.87 780.21L321.29 780.16L321.70 780.12L322.12 780.08L322.53 780.03L322.95 779.99L323.36 779.95L323.78 779.90L324.20 779.86L324.61 779.81L325.03 779.76L325.44 779.72L325.86 779.67L326.27 779.63L326.69 779.58L327.11 779.53L327.52 779.49L327.94 779.44L328.35 779.39L328.77 779.34L329.18 779.29L329.60 779.25" stroke="#0000ff" stroke-width="1.4" stroke-dasharray="1.4 1.6"/>
<path d="M263.50 765.89L263.92 765.92L264.33 765.96L264.75 765.99L265.16 766.03L265.58 766.06L265.99 766.10L266.41 766.13L266.83 766.17L267.24 766.20L267.66 766.23L268.07 766.26L268.49 766.29L268.90 766.32L269.32 766.35L269.74 766.38L270.15 766.41L270.57 766.44L270.98 766.46L271.40 766.49L271.81 766.51L272.23 766.53L272.65 766.55L273.06 766.57L273.48 766.59L273.89 766.61L274.31 766.63L274.72 766.64L275.14 766.65L275.56 766.67L275.97 766.68L276.39 766.68L276.80 766.69L277.22 766.70L277.63 766.70L278.05 766.70L278.47 766.71L278.88 766.71L279.30 766.71L279.71 766.71L280.13 766.70L280.54 766.70L280.96 766.70L281.38 766.69L281.79 766.69L282.21 766.68L282.62 766.68L283.04 766.67L283.45 766.66L283.87 766.65L284.29 766.65L284.70 766.64L285.12 766.63L285.53 766.62L285.95 766.60L286.36 766.59L286.78 766.58L287.20 766.57L287.61 766.56L288.03 766.54L288.44 766.53L288.86 766.52L289.27 766.50L289.69 766.49L290.11 766.47L290.52 766.46L290.94 766.44L291.35 766.43L291.77 766.41L292.18 766.39L292.60 766.38L293.02 766.36L293.43 766.34L293.85 766.32L294.26 766.30L294.68 766.29L295.09 766.27L295.51 766.25L295.93 766.23L296.34 766.21L296.76 766.19L297.17 766.17L297.59 766.15L298.01 766.13L298.42 766.11L298.84 766.09L299.25 766.07L299.67 766.05L300.08 766.03L300.50 766.01L300.92 765.99L301.33 765.97L301.75 765.95L302.16 765.93L302.58 765.91L302.99 765.89L303.41 765.88L303.83 765.86L304.24 765.84L304.66 765.83L305.07 765.81L305.49 765.79L305.90 765.78L306.32 765.76L306.74 765.75L307.15 765.73L307.57 765.71L307.98 765.70L308.40 765.68L308.81 765.67L309.23 765.65L309.65 765.63L310.06 765.61L310.48 765.60L310.89 765.58L311.31 765.56L311.72 765.54L312.14 765.52L312.56 765.50L312.97 765.48L313.39 765.46L313.80 765.44L314.22 765.42L314.63 765.40L315.05 765.37L315.47 765.35L315.88 765.33L316.30 765.30L316.71 765.27L317.13 765.24L317.54 765.22L317.96 765.19L318.38 765.15L318.79 765.12L319.21 765.09L319.62 765.06L320.04 765.02L320.45 764.99L320.87 764.95L321.29 764.92L321.70 764.88L322.12 764.84L322.53 764.80L322.95 764.76L323.36 764.72L323.78 764.68L324.20 764.64L324.61 764.60L325.03 764.56L325.44 764.52L325.86 764.47L326.27 764.43L326.69 764.39L327.11 764.34L327.52 764.30L327.94 764.25L328.35 764.21L328.77 764.16L329.18 764.12L329.60 764.07" stroke="#ff00ff" stroke-width="1.25" stroke-dasharray="0.8 0.6"/>
</g>
<rect x="263.50" y="730.90" width="66.10" height="59.30" fill="none" stroke="#1a1a1a" stroke-width="0.95"/>
<g font-family='"Liberation Sans", sans-serif' font-size="8.2" fill="#111">
<text x="258.50" y="786.05" text-anchor="end">0</text>
<text x="258.50" y="768.61" text-anchor="end" textLength="19.49" lengthAdjust="spacingAndGlyphs">0.005</text>
<text x="258.50" y="751.17" text-anchor="end" textLength="15.16" lengthAdjust="spacingAndGlyphs">0.01</text>
<text x="258.50" y="733.73" text-anchor="end" textLength="19.49" lengthAdjust="spacingAndGlyphs">0.015</text>
<text x="264.30" y="800.75" text-anchor="middle">0</text>
<text x="277.52" y="800.75" text-anchor="middle">1</text>
<text x="290.74" y="800.75" text-anchor="middle">2</text>
<text x="303.96" y="800.75" text-anchor="middle">3</text>
<text x="317.18" y="800.75" text-anchor="middle">4</text>
<text x="330.40" y="800.75" text-anchor="middle">5</text>
</g>
<text x="299.90" y="727.60" text-anchor="middle" font-family='"Liberation Serif", serif' font-size="11.4" fill="#2a2a2a" textLength="47.2" lengthAdjust="spacingAndGlyphs">wall-zoom</text>
<rect x="112.40" y="692.60" width="38.20" height="25.80" fill="#fff" stroke="#1a1a1a" stroke-width="1.05"/>
<text x="116.80" y="709.50" font-family='"Liberation Serif", serif' font-size="11.8" fill="#3a3a3a" font-style="italic" textLength="9.6" lengthAdjust="spacingAndGlyphs">ac</text>
<text x="126.70" y="704.40" font-family='"Liberation Serif", serif' font-size="8.6" fill="#3a3a3a">(</text>
<text x="129.90" y="704.20" font-family='"Liberation Serif", serif' font-size="8.6" fill="#3a3a3a" font-style="italic" textLength="5.0" lengthAdjust="spacingAndGlyphs">p</text>
<text x="135.60" y="704.40" font-family='"Liberation Serif", serif' font-size="8.6" fill="#3a3a3a">)</text>
<path d="M139.30 700.80h5.60M142.10 698.00v5.60" stroke="#3a3a3a" stroke-width="0.62" fill="none"/>
<text x="126.80" y="712.80" font-family='"Liberation Serif", serif' font-size="8.4" fill="#3a3a3a" font-style="italic" textLength="7.0" lengthAdjust="spacingAndGlyphs">ij</text>
<text x="268.20" y="857.00" font-family='"Liberation Serif", serif' font-size="13.5" font-style="italic" fill="#2a2a2a" textLength="6.6" lengthAdjust="spacingAndGlyphs">y</text>
<path d="M275.40 850.60h5.6M278.20 847.80v5.6" stroke="#2a2a2a" stroke-width="0.62" fill="none"/>
<path d="M281.50 854.60H301.20" stroke="#111" stroke-width="1.1" fill="none"/>
<path d="M304.20 854.60l-5 -1.45v2.9z" fill="#111"/>
<!-- panel 8 -->
<path d="M373.00 843.26H611.40" stroke="#8a8a8a" stroke-width="0.8" stroke-dasharray="1 1" fill="none"/>
<path d="M394.51 864.20v-2.30M394.51 686.20v2.30M407.24 864.20v-2.30M407.24 686.20v2.30M416.28 864.20v-2.30M416.28 686.20v2.30M423.28 864.20v-2.30M423.28 686.20v2.30M429.01 864.20v-2.30M429.01 686.20v2.30M433.85 864.20v-2.30M433.85 686.20v2.30M438.04 864.20v-2.30M438.04 686.20v2.30M441.74 864.20v-2.30M441.74 686.20v2.30M445.05 864.20v-4.50M445.05 686.20v4.50M466.81 864.20v-2.30M466.81 686.20v2.30M479.54 864.20v-2.30M479.54 686.20v2.30M488.57 864.20v-2.30M488.57 686.20v2.30M495.58 864.20v-2.30M495.58 686.20v2.30M501.30 864.20v-2.30M501.30 686.20v2.30M506.14 864.20v-2.30M506.14 686.20v2.30M510.34 864.20v-2.30M510.34 686.20v2.30M514.03 864.20v-2.30M514.03 686.20v2.30M517.34 864.20v-4.50M517.34 686.20v4.50M539.10 864.20v-2.30M539.10 686.20v2.30M551.84 864.20v-2.30M551.84 686.20v2.30M560.87 864.20v-2.30M560.87 686.20v2.30M567.87 864.20v-2.30M567.87 686.20v2.30M573.60 864.20v-2.30M573.60 686.20v2.30M578.44 864.20v-2.30M578.44 686.20v2.30M582.63 864.20v-2.30M582.63 686.20v2.30M586.33 864.20v-2.30M586.33 686.20v2.30M589.64 864.20v-4.50M589.64 686.20v4.50M372.75 843.26h4.50M611.40 843.26h-4.50M372.75 790.91h4.50M611.40 790.91h-4.50M372.75 738.55h4.50M611.40 738.55h-4.50" stroke="#1a1a1a" stroke-width="1.0" fill="none"/>
<g fill="none" stroke-linejoin="round" clip-path="url(#c8)">
<path d="M372.75 819.49L373.77 819.15L374.80 818.79L375.82 818.40L376.85 817.99L377.87 817.55L378.90 817.09L379.92 816.60L380.94 816.08L381.97 815.53L382.99 814.95L384.02 814.34L385.04 813.70L386.07 813.02L387.09 812.29L388.12 811.50L389.14 810.66L390.16 809.76L391.19 808.80L392.21 807.80L393.24 806.74L394.26 805.63L395.29 804.47L396.31 803.24L397.33 801.95L398.36 800.60L399.38 799.19L400.41 797.74L401.43 796.24L402.46 794.70L403.48 793.13L404.50 791.52L405.53 789.90L406.55 788.25L407.58 786.59L408.60 784.89L409.63 783.14L410.65 781.37L411.68 779.59L412.70 777.80L413.72 776.03L414.75 774.29L415.77 772.56L416.80 770.80L417.82 769.08L418.85 767.46L419.87 765.99L420.89 764.73L421.92 763.73L422.94 762.88L423.97 762.17L424.99 761.61L426.02 761.22L427.04 761.00L428.06 760.97L429.09 761.13L430.11 761.47L431.14 761.97L432.16 762.61L433.19 763.38L434.21 764.25L435.24 765.30L436.26 766.55L437.28 767.96L438.31 769.50L439.33 771.14L440.36 772.82L441.38 774.56L442.41 776.39L443.43 778.28L444.45 780.18L445.48 782.08L446.50 783.92L447.53 785.69L448.55 787.41L449.58 789.08L450.60 790.70L451.62 792.29L452.65 793.84L453.67 795.35L454.70 796.84L455.72 798.29L456.75 799.72L457.77 801.12L458.80 802.51L459.82 803.89L460.84 805.25L461.87 806.59L462.89 807.92L463.92 809.23L464.94 810.51L465.97 811.77L466.99 813.00L468.01 814.20L469.04 815.38L470.06 816.52L471.09 817.62L472.11 818.68L473.14 819.68L474.16 820.65L475.18 821.57L476.21 822.47L477.23 823.34L478.26 824.20L479.28 825.05L480.31 825.89L481.33 826.72L482.36 827.53L483.38 828.32L484.40 829.09L485.43 829.83L486.45 830.55L487.48 831.24L488.50 831.92L489.53 832.58L490.55 833.22L491.57 833.84L492.60 834.44L493.62 835.04L494.65 835.63L495.67 836.19L496.70 836.75L497.72 837.27L498.74 837.77L499.77 838.24L500.79 838.68L501.82 839.07L502.84 839.43L503.87 839.76L504.89 840.07L505.92 840.36L506.94 840.63L507.96 840.87L508.99 841.09L510.01 841.29L511.04 841.47L512.06 841.63L513.09 841.78L514.11 841.92L515.13 842.05L516.16 842.17L517.18 842.27L518.21 842.37L519.23 842.46L520.26 842.54L521.28 842.60L522.30 842.66L523.33 842.72L524.35 842.76L525.38 842.81L526.40 842.85L527.43 842.88L528.45 842.92L529.48 842.94L530.50 842.97L531.52 842.99L532.55 843.01L533.57 843.03L534.60 843.04L535.62 843.05" stroke="#ff0000" stroke-width="1.6"/>
<path d="M372.75 843.68L373.77 843.68L374.80 843.68L375.82 843.68L376.85 843.68L377.87 843.69L378.90 843.69L379.92 843.69L380.94 843.69L381.97 843.69L382.99 843.69L384.02 843.69L385.04 843.69L386.07 843.69L387.09 843.69L388.12 843.69L389.14 843.69L390.16 843.69L391.19 843.69L392.21 843.69L393.24 843.69L394.26 843.69L395.29 843.69L396.31 843.68L397.33 843.68L398.36 843.68L399.38 843.68L400.41 843.67L401.43 843.67L402.46 843.67L403.48 843.67L404.50 843.66L405.53 843.66L406.55 843.65L407.58 843.65L408.60 843.65L409.63 843.64L410.65 843.64L411.68 843.63L412.70 843.62L413.72 843.62L414.75 843.61L415.77 843.61L416.80 843.60L417.82 843.59L418.85 843.58L419.87 843.58L420.89 843.57L421.92 843.56L422.94 843.55L423.97 843.54L424.99 843.53L426.02 843.52L427.04 843.51L428.06 843.50L429.09 843.49L430.11 843.48L431.14 843.46L432.16 843.45L433.19 843.44L434.21 843.43L435.24 843.41L436.26 843.40L437.28 843.38L438.31 843.37L439.33 843.35L440.36 843.34L441.38 843.32L442.41 843.30L443.43 843.29L444.45 843.27L445.48 843.25L446.50 843.23L447.53 843.21L448.55 843.19L449.58 843.16L450.60 843.14L451.62 843.11L452.65 843.09L453.67 843.06L454.70 843.04L455.72 843.01L456.75 842.99L457.77 842.96L458.80 842.94L459.82 842.92L460.84 842.90L461.87 842.89L462.89 842.87L463.92 842.86L464.94 842.85L465.97 842.84L466.99 842.84L468.01 842.84L469.04 842.84L470.06 842.85L471.09 842.85L472.11 842.86L473.14 842.87L474.16 842.89L475.18 842.90L476.21 842.92L477.23 842.93L478.26 842.95L479.28 842.97L480.31 842.99L481.33 843.01L482.36 843.03L483.38 843.05L484.40 843.07L485.43 843.09L486.45 843.12L487.48 843.14L488.50 843.16L489.53 843.17L490.55 843.19L491.57 843.21L492.60 843.22L493.62 843.24L494.65 843.25L495.67 843.26L496.70 843.27L497.72 843.28L498.74 843.28L499.77 843.29L500.79 843.30L501.82 843.30L502.84 843.31L503.87 843.31L504.89 843.32L505.92 843.32L506.94 843.32L507.96 843.33L508.99 843.33L510.01 843.33L511.04 843.33L512.06 843.33L513.09 843.33L514.11 843.33L515.13 843.33L516.16 843.33L517.18 843.33L518.21 843.32L519.23 843.32L520.26 843.32L521.28 843.32L522.30 843.31L523.33 843.31L524.35 843.31L525.38 843.30L526.40 843.30L527.43 843.30L528.45 843.29L529.48 843.29L530.50 843.28L531.52 843.28L532.55 843.27L533.57 843.27L534.60 843.26L535.62 843.26" stroke="#00ff00" stroke-width="1.7" stroke-dasharray="2.7 1.4"/>
<path d="M372.75 842.11L373.77 842.12L374.80 842.13L375.82 842.15L376.85 842.16L377.87 842.17L378.90 842.19L379.92 842.20L380.94 842.21L381.97 842.22L382.99 842.23L384.02 842.24L385.04 842.25L386.07 842.26L387.09 842.27L388.12 842.28L389.14 842.29L390.16 842.30L391.19 842.31L392.21 842.32L393.24 842.33L394.26 842.34L395.29 842.34L396.31 842.35L397.33 842.36L398.36 842.36L399.38 842.37L400.41 842.38L401.43 842.38L402.46 842.39L403.48 842.39L404.50 842.40L405.53 842.40L406.55 842.40L407.58 842.41L408.60 842.41L409.63 842.41L410.65 842.42L411.68 842.42L412.70 842.42L413.72 842.42L414.75 842.42L415.77 842.42L416.80 842.42L417.82 842.43L418.85 842.43L419.87 842.42L420.89 842.42L421.92 842.42L422.94 842.42L423.97 842.42L424.99 842.42L426.02 842.41L427.04 842.41L428.06 842.40L429.09 842.39L430.11 842.38L431.14 842.37L432.16 842.36L433.19 842.35L434.21 842.33L435.24 842.32L436.26 842.30L437.28 842.29L438.31 842.27L439.33 842.25L440.36 842.22L441.38 842.20L442.41 842.18L443.43 842.15L444.45 842.12L445.48 842.09L446.50 842.06L447.53 842.03L448.55 841.99L449.58 841.95L450.60 841.91L451.62 841.86L452.65 841.82L453.67 841.77L454.70 841.73L455.72 841.68L456.75 841.63L457.77 841.59L458.80 841.54L459.82 841.50L460.84 841.46L461.87 841.42L462.89 841.38L463.92 841.35L464.94 841.32L465.97 841.29L466.99 841.27L468.01 841.25L469.04 841.23L470.06 841.21L471.09 841.20L472.11 841.18L473.14 841.17L474.16 841.17L475.18 841.16L476.21 841.16L477.23 841.16L478.26 841.16L479.28 841.16L480.31 841.17L481.33 841.18L482.36 841.20L483.38 841.22L484.40 841.25L485.43 841.28L486.45 841.31L487.48 841.35L488.50 841.38L489.53 841.42L490.55 841.47L491.57 841.51L492.60 841.55L493.62 841.60L494.65 841.65L495.67 841.69L496.70 841.74L497.72 841.79L498.74 841.85L499.77 841.90L500.79 841.96L501.82 842.01L502.84 842.07L503.87 842.13L504.89 842.19L505.92 842.25L506.94 842.30L507.96 842.36L508.99 842.41L510.01 842.46L511.04 842.51L512.06 842.55L513.09 842.60L514.11 842.63L515.13 842.67L516.16 842.70L517.18 842.73L518.21 842.76L519.23 842.79L520.26 842.82L521.28 842.84L522.30 842.86L523.33 842.89L524.35 842.91L525.38 842.93L526.40 842.94L527.43 842.96L528.45 842.98L529.48 842.99L530.50 843.00L531.52 843.01L532.55 843.02L533.57 843.03L534.60 843.04L535.62 843.05" stroke="#0000ff" stroke-width="1.7" stroke-dasharray="1.7 1.7"/>
<path d="M372.75 820.54L373.77 820.94L374.80 821.34L375.82 821.73L376.85 822.11L377.87 822.49L378.90 822.86L379.92 823.23L380.94 823.58L381.97 823.93L382.99 824.27L384.02 824.59L385.04 824.91L386.07 825.21L387.09 825.50L388.12 825.78L389.14 826.05L390.16 826.31L391.19 826.56L392.21 826.81L393.24 827.05L394.26 827.29L395.29 827.52L396.31 827.75L397.33 827.98L398.36 828.20L399.38 828.42L400.41 828.64L401.43 828.85L402.46 829.06L403.48 829.26L404.50 829.46L405.53 829.65L406.55 829.84L407.58 830.02L408.60 830.19L409.63 830.36L410.65 830.53L411.68 830.69L412.70 830.85L413.72 831.00L414.75 831.15L415.77 831.30L416.80 831.44L417.82 831.58L418.85 831.71L419.87 831.84L420.89 831.97L421.92 832.10L422.94 832.22L423.97 832.35L424.99 832.46L426.02 832.58L427.04 832.69L428.06 832.80L429.09 832.91L430.11 833.02L431.14 833.13L432.16 833.24L433.19 833.35L434.21 833.46L435.24 833.56L436.26 833.67L437.28 833.78L438.31 833.89L439.33 834.01L440.36 834.12L441.38 834.23L442.41 834.35L443.43 834.47L444.45 834.60L445.48 834.73L446.50 834.86L447.53 835.00L448.55 835.14L449.58 835.29L450.60 835.43L451.62 835.59L452.65 835.74L453.67 835.90L454.70 836.06L455.72 836.22L456.75 836.39L457.77 836.56L458.80 836.73L459.82 836.90L460.84 837.08L461.87 837.26L462.89 837.44L463.92 837.62L464.94 837.81L465.97 837.98L466.99 838.16L468.01 838.33L469.04 838.51L470.06 838.68L471.09 838.85L472.11 839.02L473.14 839.18L474.16 839.35L475.18 839.51L476.21 839.66L477.23 839.81L478.26 839.95L479.28 840.08L480.31 840.21L481.33 840.34L482.36 840.46L483.38 840.58L484.40 840.69L485.43 840.80L486.45 840.91L487.48 841.01L488.50 841.11L489.53 841.20L490.55 841.29L491.57 841.38L492.60 841.47L493.62 841.55L494.65 841.62L495.67 841.69L496.70 841.77L497.72 841.83L498.74 841.90L499.77 841.96L500.79 842.03L501.82 842.09L502.84 842.14L503.87 842.20L504.89 842.25L505.92 842.31L506.94 842.35L507.96 842.40L508.99 842.45L510.01 842.49L511.04 842.53L512.06 842.57L513.09 842.60L514.11 842.63L515.13 842.66L516.16 842.69L517.18 842.72L518.21 842.75L519.23 842.78L520.26 842.80L521.28 842.83L522.30 842.85L523.33 842.87L524.35 842.89L525.38 842.91L526.40 842.93L527.43 842.95L528.45 842.96L529.48 842.98L530.50 842.99L531.52 843.01L532.55 843.02L533.57 843.03L534.60 843.04L535.62 843.05" stroke="#ff00ff" stroke-width="1.35" stroke-dasharray="1.1 0.9"/>
</g>
<rect x="372.75" y="686.20" width="238.65" height="178.00" fill="none" stroke="#1a1a1a" stroke-width="1.1"/>
<g font-family='"Liberation Sans", sans-serif' font-size="9.8" fill="#111">
<text x="366.75" y="846.64" text-anchor="end">0</text>
<text x="366.75" y="794.29" text-anchor="end">0.005</text>
<text x="366.75" y="741.93" text-anchor="end">0.010</text>
<text x="374.05" y="877.33" text-anchor="middle">1</text>
<text x="446.35" y="877.33" text-anchor="middle">10</text>
<text x="518.64" y="877.33" text-anchor="middle">100</text>
<text x="590.94" y="877.33" text-anchor="middle">1000</text>
</g>
<rect x="535.50" y="730.90" width="66.40" height="59.30" fill="#fff"/>
<path d="M548.78 790.20v-3.2M548.78 730.90v3.2M562.06 790.20v-3.2M562.06 730.90v3.2M575.34 790.20v-3.2M575.34 730.90v3.2M588.62 790.20v-3.2M588.62 730.90v3.2M535.50 783.22h3.20M601.90 783.22h-3.20M535.50 765.78h3.20M601.90 765.78h-3.20M535.50 748.34h3.20M601.90 748.34h-3.20" stroke="#1a1a1a" stroke-width="0.85" fill="none"/>
<g fill="none" stroke-linejoin="round" clip-path="url(#i8)">
<path d="M535.50 775.65L535.92 775.77L536.34 775.88L536.75 775.99L537.17 776.09L537.59 776.19L538.01 776.28L538.42 776.36L538.84 776.44L539.26 776.50L539.68 776.55L540.09 776.59L540.51 776.62L540.93 776.63L541.35 776.63L541.76 776.62L542.18 776.60L542.60 776.57L543.02 776.52L543.43 776.47L543.85 776.41L544.27 776.34L544.69 776.26L545.11 776.17L545.52 776.08L545.94 775.98L546.36 775.88L546.78 775.78L547.19 775.67L547.61 775.56L548.03 775.44L548.45 775.33L548.86 775.21L549.28 775.09L549.70 774.97L550.12 774.85L550.53 774.72L550.95 774.59L551.37 774.45L551.79 774.31L552.20 774.17L552.62 774.03L553.04 773.88L553.46 773.73L553.87 773.58L554.29 773.43L554.71 773.27L555.13 773.11L555.55 772.95L555.96 772.79L556.38 772.63L556.80 772.46L557.22 772.29L557.63 772.12L558.05 771.95L558.47 771.78L558.89 771.61L559.30 771.44L559.72 771.27L560.14 771.09L560.56 770.92L560.97 770.74L561.39 770.56L561.81 770.39L562.23 770.21L562.64 770.03L563.06 769.85L563.48 769.67L563.90 769.49L564.32 769.30L564.73 769.12L565.15 768.93L565.57 768.74L565.99 768.55L566.40 768.36L566.82 768.16L567.24 767.97L567.66 767.78L568.07 767.58L568.49 767.39L568.91 767.20L569.33 767.00L569.74 766.81L570.16 766.61L570.58 766.42L571.00 766.23L571.41 766.04L571.83 765.84L572.25 765.65L572.67 765.46L573.08 765.27L573.50 765.09L573.92 764.90L574.34 764.72L574.76 764.53L575.17 764.35L575.59 764.18L576.01 764.00L576.43 763.82L576.84 763.64L577.26 763.46L577.68 763.29L578.10 763.11L578.51 762.94L578.93 762.76L579.35 762.59L579.77 762.42L580.18 762.25L580.60 762.08L581.02 761.92L581.44 761.75L581.85 761.59L582.27 761.43L582.69 761.27L583.11 761.11L583.53 760.96L583.94 760.81L584.36 760.66L584.78 760.51L585.20 760.36L585.61 760.22L586.03 760.08L586.45 759.95L586.87 759.82L587.28 759.69L587.70 759.56L588.12 759.44L588.54 759.32L588.95 759.20L589.37 759.09L589.79 758.98L590.21 758.87L590.62 758.76L591.04 758.65L591.46 758.55L591.88 758.45L592.29 758.35L592.71 758.25L593.13 758.15L593.55 758.06L593.97 757.97L594.38 757.88L594.80 757.79L595.22 757.70L595.64 757.61L596.05 757.53L596.47 757.45L596.89 757.37L597.31 757.29L597.72 757.21L598.14 757.13L598.56 757.06L598.98 756.98L599.39 756.91L599.81 756.84L600.23 756.77L600.65 756.70L601.06 756.63L601.48 756.57L601.90 756.50" stroke="#ff0000" stroke-width="1.4"/>
<path d="M535.50 783.33L544.99 783.33L554.47 783.33L563.96 783.33L573.44 783.33L582.93 783.33L592.41 783.33L601.90 783.33" stroke="#00ff00" stroke-width="1.4" stroke-dasharray="2.2 1.1"/>
<path d="M535.50 782.53L544.99 782.53L554.47 782.53L563.96 782.53L573.44 782.53L582.93 782.53L592.41 782.53L601.90 782.53" stroke="#0000ff" stroke-width="1.4" stroke-dasharray="1.4 1.6"/>
<path d="M535.50 765.78L535.92 766.25L536.34 766.71L536.75 767.17L537.17 767.62L537.59 768.06L538.01 768.50L538.42 768.92L538.84 769.34L539.26 769.74L539.68 770.13L540.09 770.51L540.51 770.87L540.93 771.22L541.35 771.55L541.76 771.86L542.18 772.16L542.60 772.44L543.02 772.71L543.43 772.96L543.85 773.20L544.27 773.43L544.69 773.65L545.11 773.85L545.52 774.05L545.94 774.23L546.36 774.40L546.78 774.57L547.19 774.72L547.61 774.87L548.03 775.01L548.45 775.14L548.86 775.26L549.28 775.37L549.70 775.48L550.12 775.59L550.53 775.69L550.95 775.78L551.37 775.88L551.79 775.96L552.20 776.05L552.62 776.13L553.04 776.21L553.46 776.29L553.87 776.36L554.29 776.44L554.71 776.51L555.13 776.58L555.55 776.65L555.96 776.72L556.38 776.80L556.80 776.87L557.22 776.94L557.63 777.00L558.05 777.07L558.47 777.14L558.89 777.20L559.30 777.27L559.72 777.33L560.14 777.39L560.56 777.45L560.97 777.51L561.39 777.56L561.81 777.61L562.23 777.66L562.64 777.71L563.06 777.76L563.48 777.80L563.90 777.84L564.32 777.89L564.73 777.93L565.15 777.97L565.57 778.00L565.99 778.04L566.40 778.08L566.82 778.11L567.24 778.15L567.66 778.18L568.07 778.21L568.49 778.24L568.91 778.27L569.33 778.30L569.74 778.33L570.16 778.36L570.58 778.38L571.00 778.41L571.41 778.43L571.83 778.46L572.25 778.48L572.67 778.51L573.08 778.53L573.50 778.56L573.92 778.58L574.34 778.60L574.76 778.62L575.17 778.65L575.59 778.67L576.01 778.69L576.43 778.71L576.84 778.73L577.26 778.75L577.68 778.77L578.10 778.79L578.51 778.82L578.93 778.84L579.35 778.86L579.77 778.88L580.18 778.90L580.60 778.92L581.02 778.93L581.44 778.95L581.85 778.97L582.27 778.99L582.69 779.01L583.11 779.03L583.53 779.05L583.94 779.06L584.36 779.08L584.78 779.10L585.20 779.12L585.61 779.13L586.03 779.15L586.45 779.17L586.87 779.18L587.28 779.20L587.70 779.21L588.12 779.23L588.54 779.24L588.95 779.26L589.37 779.27L589.79 779.29L590.21 779.30L590.62 779.32L591.04 779.33L591.46 779.34L591.88 779.36L592.29 779.37L592.71 779.38L593.13 779.40L593.55 779.41L593.97 779.42L594.38 779.43L594.80 779.45L595.22 779.46L595.64 779.47L596.05 779.48L596.47 779.49L596.89 779.50L597.31 779.52L597.72 779.53L598.14 779.54L598.56 779.55L598.98 779.56L599.39 779.57L599.81 779.58L600.23 779.59L600.65 779.60L601.06 779.61L601.48 779.62L601.90 779.63" stroke="#ff00ff" stroke-width="1.25" stroke-dasharray="0.8 0.6"/>
</g>
<rect x="535.50" y="730.90" width="66.40" height="59.30" fill="none" stroke="#1a1a1a" stroke-width="0.95"/>
<g font-family='"Liberation Sans", sans-serif' font-size="8.2" fill="#111">
<text x="530.50" y="786.05" text-anchor="end">0</text>
<text x="530.50" y="768.61" text-anchor="end" textLength="19.49" lengthAdjust="spacingAndGlyphs">0.005</text>
<text x="530.50" y="751.17" text-anchor="end" textLength="15.16" lengthAdjust="spacingAndGlyphs">0.01</text>
<text x="530.50" y="733.73" text-anchor="end" textLength="19.49" lengthAdjust="spacingAndGlyphs">0.015</text>
<text x="536.30" y="800.75" text-anchor="middle">0</text>
<text x="549.58" y="800.75" text-anchor="middle">1</text>
<text x="562.86" y="800.75" text-anchor="middle">2</text>
<text x="576.14" y="800.75" text-anchor="middle">3</text>
<text x="589.42" y="800.75" text-anchor="middle">4</text>
<text x="602.70" y="800.75" text-anchor="middle">5</text>
</g>
<text x="568.90" y="727.60" text-anchor="middle" font-family='"Liberation Serif", serif' font-size="11.4" fill="#2a2a2a" textLength="47.2" lengthAdjust="spacingAndGlyphs">wall-zoom</text>
<rect x="388.40" y="692.60" width="39.20" height="25.80" fill="#fff" stroke="#1a1a1a" stroke-width="1.05"/>
<text x="392.80" y="709.50" font-family='"Liberation Serif", serif' font-size="11.8" fill="#3a3a3a" font-style="italic" textLength="9.6" lengthAdjust="spacingAndGlyphs">ac</text>
<text x="402.70" y="704.40" font-family='"Liberation Serif", serif' font-size="8.6" fill="#3a3a3a">(</text>
<text x="405.90" y="704.20" font-family='"Liberation Serif", serif' font-size="8.6" fill="#3a3a3a" font-style="italic" textLength="4.6" lengthAdjust="spacingAndGlyphs">ν</text>
<text x="411.60" y="704.40" font-family='"Liberation Serif", serif' font-size="8.6" fill="#3a3a3a">)</text>
<path d="M415.30 700.80h5.60M418.10 698.00v5.60" stroke="#3a3a3a" stroke-width="0.62" fill="none"/>
<text x="402.80" y="712.80" font-family='"Liberation Serif", serif' font-size="8.4" fill="#3a3a3a" font-style="italic" textLength="7.0" lengthAdjust="spacingAndGlyphs">ij</text>
<text x="535.30" y="857.00" font-family='"Liberation Serif", serif' font-size="13.5" font-style="italic" fill="#2a2a2a" textLength="6.6" lengthAdjust="spacingAndGlyphs">y</text>
<path d="M542.50 850.60h5.6M545.30 847.80v5.6" stroke="#2a2a2a" stroke-width="0.62" fill="none"/>
<path d="M548.20 854.60H567.90" stroke="#111" stroke-width="1.1" fill="none"/>
<path d="M570.90 854.60l-5 -1.45v2.9z" fill="#111"/>
</svg></body></html>
